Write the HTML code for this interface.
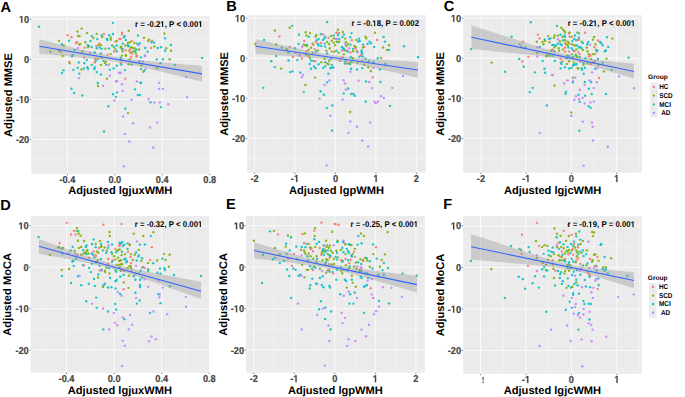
<!DOCTYPE html>
<html><head><meta charset="utf-8"><style>
html,body{margin:0;padding:0;background:#fff;width:685px;height:397px;overflow:hidden}
svg{display:block}
text{font-family:"Liberation Sans", sans-serif;font-weight:bold;text-rendering:geometricPrecision;font-kerning:none}
.tk{font-size:10.0px;fill:#444;stroke:#444;stroke-width:0.2px}
.ti{font-size:11.1px;fill:#000}
.ann{font-size:8.4px;fill:#000}
.pl{font-size:14.6px;fill:#000}
.lg{font-size:6.6px;fill:#000}
.lgk{font-size:7.1px;fill:#000}
</style></head><body>
<svg width="685" height="397" viewBox="0 0 685 397">
<rect x="31.2" y="16.1" width="178.2" height="157.8" fill="#EBEBEB"/>
<line x1="43.64" y1="16.1" x2="43.64" y2="173.9" stroke="#F5F5F5" stroke-width="0.6"/>
<line x1="91.08" y1="16.1" x2="91.08" y2="173.9" stroke="#F5F5F5" stroke-width="0.6"/>
<line x1="138.52" y1="16.1" x2="138.52" y2="173.9" stroke="#F5F5F5" stroke-width="0.6"/>
<line x1="185.96" y1="16.1" x2="185.96" y2="173.9" stroke="#F5F5F5" stroke-width="0.6"/>
<line x1="31.2" y1="39.24" x2="209.4" y2="39.24" stroke="#F5F5F5" stroke-width="0.6"/>
<line x1="31.2" y1="79.31" x2="209.4" y2="79.31" stroke="#F5F5F5" stroke-width="0.6"/>
<line x1="31.2" y1="119.38" x2="209.4" y2="119.38" stroke="#F5F5F5" stroke-width="0.6"/>
<line x1="31.2" y1="159.44" x2="209.4" y2="159.44" stroke="#F5F5F5" stroke-width="0.6"/>
<line x1="67.36" y1="16.1" x2="67.36" y2="173.9" stroke="#FAFAFA" stroke-width="1"/>
<line x1="114.8" y1="16.1" x2="114.8" y2="173.9" stroke="#FAFAFA" stroke-width="1"/>
<line x1="162.24" y1="16.1" x2="162.24" y2="173.9" stroke="#FAFAFA" stroke-width="1"/>
<line x1="31.2" y1="19.2" x2="209.4" y2="19.2" stroke="#FAFAFA" stroke-width="1"/>
<line x1="31.2" y1="59.27" x2="209.4" y2="59.27" stroke="#FAFAFA" stroke-width="1"/>
<line x1="31.2" y1="99.34" x2="209.4" y2="99.34" stroke="#FAFAFA" stroke-width="1"/>
<line x1="31.2" y1="139.41" x2="209.4" y2="139.41" stroke="#FAFAFA" stroke-width="1"/>
<circle cx="38.93" cy="26.77" r="1.2" fill="#00BFC4" fill-opacity="0.88"/>
<circle cx="113.04" cy="22.83" r="1.2" fill="#00BFC4" fill-opacity="0.88"/>
<circle cx="81.64" cy="28.61" r="1.2" fill="#7CAE00" fill-opacity="0.88"/>
<circle cx="77.43" cy="31.5" r="1.2" fill="#7CAE00" fill-opacity="0.88"/>
<circle cx="87.02" cy="33.08" r="1.2" fill="#7CAE00" fill-opacity="0.88"/>
<circle cx="67.71" cy="35.18" r="1.2" fill="#F8766D" fill-opacity="0.88"/>
<circle cx="71.52" cy="37.28" r="1.2" fill="#F8766D" fill-opacity="0.88"/>
<circle cx="78.22" cy="35.97" r="1.2" fill="#7CAE00" fill-opacity="0.88"/>
<circle cx="79.53" cy="36.1" r="1.2" fill="#7CAE00" fill-opacity="0.88"/>
<circle cx="96.75" cy="33.87" r="1.2" fill="#7CAE00" fill-opacity="0.88"/>
<circle cx="103.84" cy="34" r="1.2" fill="#F8766D" fill-opacity="0.88"/>
<circle cx="113.04" cy="34" r="1.2" fill="#00BFC4" fill-opacity="0.88"/>
<circle cx="91.75" cy="36.1" r="1.2" fill="#00BFC4" fill-opacity="0.88"/>
<circle cx="101.61" cy="35.45" r="1.2" fill="#00BFC4" fill-opacity="0.88"/>
<circle cx="102.26" cy="37.02" r="1.2" fill="#7CAE00" fill-opacity="0.88"/>
<circle cx="109.23" cy="35.31" r="1.2" fill="#00BFC4" fill-opacity="0.88"/>
<circle cx="106.86" cy="38.99" r="1.2" fill="#00BFC4" fill-opacity="0.88"/>
<circle cx="107.52" cy="40.04" r="1.2" fill="#00BFC4" fill-opacity="0.88"/>
<circle cx="110.67" cy="37.68" r="1.2" fill="#7CAE00" fill-opacity="0.88"/>
<circle cx="110.94" cy="39.65" r="1.2" fill="#7CAE00" fill-opacity="0.88"/>
<circle cx="93.33" cy="38.07" r="1.2" fill="#7CAE00" fill-opacity="0.88"/>
<circle cx="97.27" cy="39.12" r="1.2" fill="#00BFC4" fill-opacity="0.88"/>
<circle cx="59.04" cy="40.83" r="1.2" fill="#7CAE00" fill-opacity="0.88"/>
<circle cx="69.02" cy="40.7" r="1.2" fill="#00BFC4" fill-opacity="0.88"/>
<circle cx="90.44" cy="40.96" r="1.2" fill="#00BFC4" fill-opacity="0.88"/>
<circle cx="85.45" cy="42.28" r="1.2" fill="#7CAE00" fill-opacity="0.88"/>
<circle cx="75.99" cy="42.93" r="1.2" fill="#F8766D" fill-opacity="0.88"/>
<circle cx="77.04" cy="42.28" r="1.2" fill="#F8766D" fill-opacity="0.88"/>
<circle cx="79.4" cy="44.51" r="1.2" fill="#7CAE00" fill-opacity="0.88"/>
<circle cx="80.19" cy="43.85" r="1.2" fill="#7CAE00" fill-opacity="0.88"/>
<circle cx="61.8" cy="44.25" r="1.2" fill="#00BFC4" fill-opacity="0.88"/>
<circle cx="63.9" cy="45.43" r="1.2" fill="#7CAE00" fill-opacity="0.88"/>
<circle cx="87.81" cy="45.17" r="1.2" fill="#00BFC4" fill-opacity="0.88"/>
<circle cx="88.73" cy="45.96" r="1.2" fill="#00BFC4" fill-opacity="0.88"/>
<circle cx="91.75" cy="47.01" r="1.2" fill="#00BFC4" fill-opacity="0.88"/>
<circle cx="84.66" cy="47.66" r="1.2" fill="#F8766D" fill-opacity="0.88"/>
<circle cx="88.07" cy="47.14" r="1.2" fill="#7CAE00" fill-opacity="0.88"/>
<circle cx="96.35" cy="46.22" r="1.2" fill="#F8766D" fill-opacity="0.88"/>
<circle cx="98.32" cy="44.91" r="1.2" fill="#7CAE00" fill-opacity="0.88"/>
<circle cx="99.64" cy="43.59" r="1.2" fill="#F8766D" fill-opacity="0.88"/>
<circle cx="100.95" cy="45.17" r="1.2" fill="#7CAE00" fill-opacity="0.88"/>
<circle cx="96.75" cy="48.19" r="1.2" fill="#00BFC4" fill-opacity="0.88"/>
<circle cx="99.64" cy="47.53" r="1.2" fill="#00BFC4" fill-opacity="0.88"/>
<circle cx="101.61" cy="48.85" r="1.2" fill="#00BFC4" fill-opacity="0.88"/>
<circle cx="105.29" cy="48.58" r="1.2" fill="#7CAE00" fill-opacity="0.88"/>
<circle cx="108.83" cy="48.45" r="1.2" fill="#00BFC4" fill-opacity="0.88"/>
<circle cx="112.12" cy="45.56" r="1.2" fill="#7CAE00" fill-opacity="0.88"/>
<circle cx="114.09" cy="46.88" r="1.2" fill="#00BFC4" fill-opacity="0.88"/>
<circle cx="116.72" cy="45.56" r="1.2" fill="#00BFC4" fill-opacity="0.88"/>
<circle cx="115.4" cy="41.62" r="1.2" fill="#F8766D" fill-opacity="0.88"/>
<circle cx="116.72" cy="40.96" r="1.2" fill="#7CAE00" fill-opacity="0.88"/>
<circle cx="119.34" cy="38.99" r="1.2" fill="#F8766D" fill-opacity="0.88"/>
<circle cx="115.14" cy="49.11" r="1.2" fill="#7CAE00" fill-opacity="0.88"/>
<circle cx="116.72" cy="51.21" r="1.2" fill="#00BFC4" fill-opacity="0.88"/>
<circle cx="77.96" cy="47.93" r="1.2" fill="#C77CFF" fill-opacity="0.88"/>
<circle cx="74.67" cy="49.9" r="1.2" fill="#00BFC4" fill-opacity="0.88"/>
<circle cx="82.56" cy="51.21" r="1.2" fill="#7CAE00" fill-opacity="0.88"/>
<circle cx="61.14" cy="51.74" r="1.2" fill="#F8766D" fill-opacity="0.88"/>
<circle cx="59.17" cy="50.82" r="1.2" fill="#7CAE00" fill-opacity="0.88"/>
<circle cx="50.37" cy="51.74" r="1.2" fill="#7CAE00" fill-opacity="0.88"/>
<circle cx="90.31" cy="52.79" r="1.2" fill="#F8766D" fill-opacity="0.88"/>
<circle cx="94.77" cy="52.53" r="1.2" fill="#00BFC4" fill-opacity="0.88"/>
<circle cx="100.95" cy="53.45" r="1.2" fill="#00BFC4" fill-opacity="0.88"/>
<circle cx="107.52" cy="54.76" r="1.2" fill="#F8766D" fill-opacity="0.88"/>
<circle cx="110.8" cy="54.1" r="1.2" fill="#7CAE00" fill-opacity="0.88"/>
<circle cx="114.09" cy="51.47" r="1.2" fill="#F8766D" fill-opacity="0.88"/>
<circle cx="72.7" cy="54.89" r="1.2" fill="#00BFC4" fill-opacity="0.88"/>
<circle cx="128.8" cy="30.85" r="1.2" fill="#7CAE00" fill-opacity="0.88"/>
<circle cx="121.97" cy="32.82" r="1.2" fill="#F8766D" fill-opacity="0.88"/>
<circle cx="121.97" cy="34.13" r="1.2" fill="#F8766D" fill-opacity="0.88"/>
<circle cx="124.6" cy="35.97" r="1.2" fill="#00BFC4" fill-opacity="0.88"/>
<circle cx="123.94" cy="37.28" r="1.2" fill="#00BFC4" fill-opacity="0.88"/>
<circle cx="125.91" cy="39.91" r="1.2" fill="#00BFC4" fill-opacity="0.88"/>
<circle cx="120.66" cy="38.99" r="1.2" fill="#F8766D" fill-opacity="0.88"/>
<circle cx="138" cy="35.45" r="1.2" fill="#00BFC4" fill-opacity="0.88"/>
<circle cx="144.04" cy="37.68" r="1.2" fill="#7CAE00" fill-opacity="0.88"/>
<circle cx="148.25" cy="40.96" r="1.2" fill="#7CAE00" fill-opacity="0.88"/>
<circle cx="148.91" cy="39.65" r="1.2" fill="#7CAE00" fill-opacity="0.88"/>
<circle cx="152.19" cy="40.7" r="1.2" fill="#F8766D" fill-opacity="0.88"/>
<circle cx="151.53" cy="42.28" r="1.2" fill="#00BFC4" fill-opacity="0.88"/>
<circle cx="154.16" cy="42.67" r="1.2" fill="#00BFC4" fill-opacity="0.88"/>
<circle cx="164.28" cy="33.47" r="1.2" fill="#7CAE00" fill-opacity="0.88"/>
<circle cx="165.07" cy="38.34" r="1.2" fill="#00BFC4" fill-opacity="0.88"/>
<circle cx="131.82" cy="40.96" r="1.2" fill="#F8766D" fill-opacity="0.88"/>
<circle cx="129.85" cy="42.28" r="1.2" fill="#7CAE00" fill-opacity="0.88"/>
<circle cx="127.88" cy="42.93" r="1.2" fill="#7CAE00" fill-opacity="0.88"/>
<circle cx="134.45" cy="42.93" r="1.2" fill="#7CAE00" fill-opacity="0.88"/>
<circle cx="137.08" cy="43.59" r="1.2" fill="#00BFC4" fill-opacity="0.88"/>
<circle cx="139.71" cy="43.2" r="1.2" fill="#00BFC4" fill-opacity="0.88"/>
<circle cx="138.39" cy="45.17" r="1.2" fill="#C77CFF" fill-opacity="0.88"/>
<circle cx="122.63" cy="43.59" r="1.2" fill="#00BFC4" fill-opacity="0.88"/>
<circle cx="125.26" cy="45.56" r="1.2" fill="#7CAE00" fill-opacity="0.88"/>
<circle cx="127.88" cy="45.17" r="1.2" fill="#00BFC4" fill-opacity="0.88"/>
<circle cx="128.54" cy="46.22" r="1.2" fill="#00BFC4" fill-opacity="0.88"/>
<circle cx="121.31" cy="46.61" r="1.2" fill="#7CAE00" fill-opacity="0.88"/>
<circle cx="120.66" cy="47.53" r="1.2" fill="#7CAE00" fill-opacity="0.88"/>
<circle cx="123.28" cy="48.85" r="1.2" fill="#C77CFF" fill-opacity="0.88"/>
<circle cx="131.17" cy="47.27" r="1.2" fill="#7CAE00" fill-opacity="0.88"/>
<circle cx="132.48" cy="47.93" r="1.2" fill="#7CAE00" fill-opacity="0.88"/>
<circle cx="134.45" cy="48.19" r="1.2" fill="#7CAE00" fill-opacity="0.88"/>
<circle cx="136.42" cy="49.5" r="1.2" fill="#00BFC4" fill-opacity="0.88"/>
<circle cx="139.05" cy="49.5" r="1.2" fill="#7CAE00" fill-opacity="0.88"/>
<circle cx="145.23" cy="47.93" r="1.2" fill="#00BFC4" fill-opacity="0.88"/>
<circle cx="150.88" cy="47.93" r="1.2" fill="#F8766D" fill-opacity="0.88"/>
<circle cx="154.42" cy="46.48" r="1.2" fill="#7CAE00" fill-opacity="0.88"/>
<circle cx="157.71" cy="47.93" r="1.2" fill="#00BFC4" fill-opacity="0.88"/>
<circle cx="161.12" cy="47.14" r="1.2" fill="#00BFC4" fill-opacity="0.88"/>
<circle cx="170.85" cy="45.04" r="1.2" fill="#00BFC4" fill-opacity="0.88"/>
<circle cx="166.25" cy="48.19" r="1.2" fill="#7CAE00" fill-opacity="0.88"/>
<circle cx="165.07" cy="50.82" r="1.2" fill="#00BFC4" fill-opacity="0.88"/>
<circle cx="170.98" cy="50.82" r="1.2" fill="#7CAE00" fill-opacity="0.88"/>
<circle cx="147.59" cy="51.74" r="1.2" fill="#00BFC4" fill-opacity="0.88"/>
<circle cx="121.97" cy="49.5" r="1.2" fill="#00BFC4" fill-opacity="0.88"/>
<circle cx="122.63" cy="51.47" r="1.2" fill="#7CAE00" fill-opacity="0.88"/>
<circle cx="125.91" cy="50.42" r="1.2" fill="#F8766D" fill-opacity="0.88"/>
<circle cx="129.2" cy="50.82" r="1.2" fill="#F8766D" fill-opacity="0.88"/>
<circle cx="129.85" cy="49.5" r="1.2" fill="#F8766D" fill-opacity="0.88"/>
<circle cx="133.14" cy="51.47" r="1.2" fill="#7CAE00" fill-opacity="0.88"/>
<circle cx="135.11" cy="51.21" r="1.2" fill="#00BFC4" fill-opacity="0.88"/>
<circle cx="130.51" cy="52.53" r="1.2" fill="#7CAE00" fill-opacity="0.88"/>
<circle cx="131.82" cy="53.45" r="1.2" fill="#F8766D" fill-opacity="0.88"/>
<circle cx="135.77" cy="53.45" r="1.2" fill="#7CAE00" fill-opacity="0.88"/>
<circle cx="125.91" cy="55.15" r="1.2" fill="#7CAE00" fill-opacity="0.88"/>
<circle cx="144.96" cy="55.42" r="1.2" fill="#C77CFF" fill-opacity="0.88"/>
<circle cx="62.58" cy="56.05" r="1.2" fill="#7CAE00" fill-opacity="0.88"/>
<circle cx="72.04" cy="56.31" r="1.2" fill="#00BFC4" fill-opacity="0.88"/>
<circle cx="84.13" cy="57.63" r="1.2" fill="#F8766D" fill-opacity="0.88"/>
<circle cx="86.76" cy="59.99" r="1.2" fill="#00BFC4" fill-opacity="0.88"/>
<circle cx="95.3" cy="58.94" r="1.2" fill="#F8766D" fill-opacity="0.88"/>
<circle cx="97.67" cy="58.94" r="1.2" fill="#7CAE00" fill-opacity="0.88"/>
<circle cx="101.61" cy="57.63" r="1.2" fill="#7CAE00" fill-opacity="0.88"/>
<circle cx="69.15" cy="61.83" r="1.2" fill="#F8766D" fill-opacity="0.88"/>
<circle cx="69.68" cy="63.15" r="1.2" fill="#7CAE00" fill-opacity="0.88"/>
<circle cx="78.88" cy="62.49" r="1.2" fill="#00BFC4" fill-opacity="0.88"/>
<circle cx="84.26" cy="63.15" r="1.2" fill="#00BFC4" fill-opacity="0.88"/>
<circle cx="94.77" cy="62.49" r="1.2" fill="#F8766D" fill-opacity="0.88"/>
<circle cx="95.69" cy="60.91" r="1.2" fill="#00BFC4" fill-opacity="0.88"/>
<circle cx="103.58" cy="60.91" r="1.2" fill="#00BFC4" fill-opacity="0.88"/>
<circle cx="104.89" cy="62.88" r="1.2" fill="#7CAE00" fill-opacity="0.88"/>
<circle cx="105.94" cy="61.83" r="1.2" fill="#7CAE00" fill-opacity="0.88"/>
<circle cx="106.21" cy="64.85" r="1.2" fill="#00BFC4" fill-opacity="0.88"/>
<circle cx="108.83" cy="64.46" r="1.2" fill="#F8766D" fill-opacity="0.88"/>
<circle cx="100.95" cy="64.85" r="1.2" fill="#7CAE00" fill-opacity="0.88"/>
<circle cx="91.75" cy="64.85" r="1.2" fill="#00BFC4" fill-opacity="0.88"/>
<circle cx="116.72" cy="65.77" r="1.2" fill="#00BFC4" fill-opacity="0.88"/>
<circle cx="113.69" cy="68.4" r="1.2" fill="#00BFC4" fill-opacity="0.88"/>
<circle cx="109.75" cy="69.85" r="1.2" fill="#00BFC4" fill-opacity="0.88"/>
<circle cx="118.95" cy="72.74" r="1.2" fill="#C77CFF" fill-opacity="0.88"/>
<circle cx="87.15" cy="67.09" r="1.2" fill="#00BFC4" fill-opacity="0.88"/>
<circle cx="88.07" cy="68.8" r="1.2" fill="#00BFC4" fill-opacity="0.88"/>
<circle cx="94.77" cy="67.48" r="1.2" fill="#00BFC4" fill-opacity="0.88"/>
<circle cx="94.38" cy="69.06" r="1.2" fill="#00BFC4" fill-opacity="0.88"/>
<circle cx="83.87" cy="68.4" r="1.2" fill="#00BFC4" fill-opacity="0.88"/>
<circle cx="77.69" cy="67.88" r="1.2" fill="#00BFC4" fill-opacity="0.88"/>
<circle cx="73.36" cy="69.85" r="1.2" fill="#00BFC4" fill-opacity="0.88"/>
<circle cx="81.5" cy="69.45" r="1.2" fill="#7CAE00" fill-opacity="0.88"/>
<circle cx="63.5" cy="70.37" r="1.2" fill="#00BFC4" fill-opacity="0.88"/>
<circle cx="61.93" cy="73" r="1.2" fill="#00BFC4" fill-opacity="0.88"/>
<circle cx="79.27" cy="73.66" r="1.2" fill="#00BFC4" fill-opacity="0.88"/>
<circle cx="96.75" cy="72.08" r="1.2" fill="#00BFC4" fill-opacity="0.88"/>
<circle cx="100.95" cy="74.45" r="1.2" fill="#00BFC4" fill-opacity="0.88"/>
<circle cx="109.88" cy="75.76" r="1.2" fill="#C77CFF" fill-opacity="0.88"/>
<circle cx="78.88" cy="78.12" r="1.2" fill="#C77CFF" fill-opacity="0.88"/>
<circle cx="106.86" cy="78.65" r="1.2" fill="#7CAE00" fill-opacity="0.88"/>
<circle cx="116.06" cy="81.28" r="1.2" fill="#C77CFF" fill-opacity="0.88"/>
<circle cx="116.98" cy="81.28" r="1.2" fill="#C77CFF" fill-opacity="0.88"/>
<circle cx="97.8" cy="82.99" r="1.2" fill="#00BFC4" fill-opacity="0.88"/>
<circle cx="98.06" cy="86.01" r="1.2" fill="#7CAE00" fill-opacity="0.88"/>
<circle cx="103.18" cy="85.88" r="1.2" fill="#C77CFF" fill-opacity="0.88"/>
<circle cx="71.52" cy="88.77" r="1.2" fill="#00BFC4" fill-opacity="0.88"/>
<circle cx="121.97" cy="55.66" r="1.2" fill="#7CAE00" fill-opacity="0.88"/>
<circle cx="125.91" cy="55.66" r="1.2" fill="#7CAE00" fill-opacity="0.88"/>
<circle cx="131.17" cy="56.97" r="1.2" fill="#F8766D" fill-opacity="0.88"/>
<circle cx="136.42" cy="56.58" r="1.2" fill="#F8766D" fill-opacity="0.88"/>
<circle cx="137.08" cy="55.66" r="1.2" fill="#F8766D" fill-opacity="0.88"/>
<circle cx="141.02" cy="57.36" r="1.2" fill="#00BFC4" fill-opacity="0.88"/>
<circle cx="144.96" cy="56.05" r="1.2" fill="#C77CFF" fill-opacity="0.88"/>
<circle cx="120.66" cy="57.63" r="1.2" fill="#00BFC4" fill-opacity="0.88"/>
<circle cx="121.05" cy="59.6" r="1.2" fill="#00BFC4" fill-opacity="0.88"/>
<circle cx="129.85" cy="59.34" r="1.2" fill="#7CAE00" fill-opacity="0.88"/>
<circle cx="156.79" cy="59.34" r="1.2" fill="#00BFC4" fill-opacity="0.88"/>
<circle cx="162.96" cy="59.2" r="1.2" fill="#00BFC4" fill-opacity="0.88"/>
<circle cx="169.66" cy="59.2" r="1.2" fill="#7CAE00" fill-opacity="0.88"/>
<circle cx="202.12" cy="57.89" r="1.2" fill="#00BFC4" fill-opacity="0.88"/>
<circle cx="139.45" cy="61.31" r="1.2" fill="#00BFC4" fill-opacity="0.88"/>
<circle cx="142.99" cy="61.57" r="1.2" fill="#C77CFF" fill-opacity="0.88"/>
<circle cx="120.66" cy="62.88" r="1.2" fill="#F8766D" fill-opacity="0.88"/>
<circle cx="121.31" cy="64.46" r="1.2" fill="#00BFC4" fill-opacity="0.88"/>
<circle cx="128.54" cy="64.2" r="1.2" fill="#7CAE00" fill-opacity="0.88"/>
<circle cx="131.56" cy="64.59" r="1.2" fill="#00BFC4" fill-opacity="0.88"/>
<circle cx="141.42" cy="65.51" r="1.2" fill="#7CAE00" fill-opacity="0.88"/>
<circle cx="160.47" cy="63.15" r="1.2" fill="#00BFC4" fill-opacity="0.88"/>
<circle cx="174.92" cy="64.85" r="1.2" fill="#00BFC4" fill-opacity="0.88"/>
<circle cx="141.02" cy="69.06" r="1.2" fill="#00BFC4" fill-opacity="0.88"/>
<circle cx="145.62" cy="68.8" r="1.2" fill="#C77CFF" fill-opacity="0.88"/>
<circle cx="144.31" cy="70.77" r="1.2" fill="#00BFC4" fill-opacity="0.88"/>
<circle cx="143.39" cy="71.82" r="1.2" fill="#7CAE00" fill-opacity="0.88"/>
<circle cx="157.05" cy="68.14" r="1.2" fill="#7CAE00" fill-opacity="0.88"/>
<circle cx="124.86" cy="70.11" r="1.2" fill="#00BFC4" fill-opacity="0.88"/>
<circle cx="120.66" cy="72.74" r="1.2" fill="#C77CFF" fill-opacity="0.88"/>
<circle cx="186.09" cy="77.07" r="1.2" fill="#C77CFF" fill-opacity="0.88"/>
<circle cx="125.26" cy="78.65" r="1.2" fill="#F8766D" fill-opacity="0.88"/>
<circle cx="136.82" cy="81.54" r="1.2" fill="#C77CFF" fill-opacity="0.88"/>
<circle cx="141.02" cy="82.59" r="1.2" fill="#00BFC4" fill-opacity="0.88"/>
<circle cx="140.37" cy="82.99" r="1.2" fill="#00BFC4" fill-opacity="0.88"/>
<circle cx="159.15" cy="82.85" r="1.2" fill="#C77CFF" fill-opacity="0.88"/>
<circle cx="121.97" cy="84.17" r="1.2" fill="#C77CFF" fill-opacity="0.88"/>
<circle cx="134.85" cy="89.42" r="1.2" fill="#00BFC4" fill-opacity="0.88"/>
<circle cx="159.02" cy="88.9" r="1.2" fill="#C77CFF" fill-opacity="0.88"/>
<circle cx="162.96" cy="88.9" r="1.2" fill="#C77CFF" fill-opacity="0.88"/>
<circle cx="74.14" cy="92.89" r="1.2" fill="#00BFC4" fill-opacity="0.88"/>
<circle cx="82.29" cy="95.52" r="1.2" fill="#00BFC4" fill-opacity="0.88"/>
<circle cx="113.03" cy="94.2" r="1.2" fill="#00BFC4" fill-opacity="0.88"/>
<circle cx="116.97" cy="92.36" r="1.2" fill="#00BFC4" fill-opacity="0.88"/>
<circle cx="115.92" cy="96.83" r="1.2" fill="#00BFC4" fill-opacity="0.88"/>
<circle cx="122.49" cy="90.79" r="1.2" fill="#C77CFF" fill-opacity="0.88"/>
<circle cx="137.72" cy="94.99" r="1.2" fill="#00BFC4" fill-opacity="0.88"/>
<circle cx="139.83" cy="94.99" r="1.2" fill="#00BFC4" fill-opacity="0.88"/>
<circle cx="114.34" cy="100.51" r="1.2" fill="#C77CFF" fill-opacity="0.88"/>
<circle cx="131.68" cy="99.72" r="1.2" fill="#C77CFF" fill-opacity="0.88"/>
<circle cx="148.5" cy="98.93" r="1.2" fill="#C77CFF" fill-opacity="0.88"/>
<circle cx="150.6" cy="102.35" r="1.2" fill="#00BFC4" fill-opacity="0.88"/>
<circle cx="154.28" cy="102.61" r="1.2" fill="#C77CFF" fill-opacity="0.88"/>
<circle cx="159.8" cy="102.35" r="1.2" fill="#C77CFF" fill-opacity="0.88"/>
<circle cx="160.85" cy="107.08" r="1.2" fill="#00BFC4" fill-opacity="0.88"/>
<circle cx="168.2" cy="104.19" r="1.2" fill="#C77CFF" fill-opacity="0.88"/>
<circle cx="187.12" cy="97.09" r="1.2" fill="#C77CFF" fill-opacity="0.88"/>
<circle cx="108.3" cy="106.29" r="1.2" fill="#00BFC4" fill-opacity="0.88"/>
<circle cx="125.38" cy="108.65" r="1.2" fill="#00BFC4" fill-opacity="0.88"/>
<circle cx="128" cy="113.12" r="1.2" fill="#7CAE00" fill-opacity="0.88"/>
<circle cx="123.01" cy="116.54" r="1.2" fill="#C77CFF" fill-opacity="0.88"/>
<circle cx="133" cy="123.37" r="1.2" fill="#C77CFF" fill-opacity="0.88"/>
<circle cx="157.17" cy="122.58" r="1.2" fill="#C77CFF" fill-opacity="0.88"/>
<circle cx="150.07" cy="127.57" r="1.2" fill="#C77CFF" fill-opacity="0.88"/>
<circle cx="104.09" cy="131.51" r="1.2" fill="#00BFC4" fill-opacity="0.88"/>
<circle cx="124.85" cy="133.88" r="1.2" fill="#C77CFF" fill-opacity="0.88"/>
<circle cx="129.32" cy="141.5" r="1.2" fill="#C77CFF" fill-opacity="0.88"/>
<circle cx="153.23" cy="147.54" r="1.2" fill="#C77CFF" fill-opacity="0.88"/>
<circle cx="123.8" cy="166.2" r="1.2" fill="#C77CFF" fill-opacity="0.88"/>
<path d="M39.3,39.3 L43.37,40.31 L47.43,41.32 L51.5,42.33 L55.57,43.33 L59.64,44.33 L63.7,45.32 L67.77,46.31 L71.84,47.29 L75.91,48.26 L79.97,49.22 L84.04,50.17 L88.11,51.11 L92.18,52.03 L96.24,52.92 L100.31,53.79 L104.38,54.62 L108.45,55.41 L112.52,56.16 L116.58,56.87 L120.65,57.52 L124.72,58.13 L128.78,58.7 L132.85,59.23 L136.92,59.72 L140.99,60.19 L145.06,60.64 L149.12,61.07 L153.19,61.48 L157.26,61.88 L161.32,62.27 L165.39,62.66 L169.46,63.03 L173.53,63.41 L177.59,63.77 L181.66,64.13 L185.73,64.49 L189.8,64.85 L193.87,65.2 L197.93,65.55 L202,65.9 L202,81.7 L197.93,80.68 L193.87,79.67 L189.8,78.66 L185.73,77.65 L181.66,76.64 L177.59,75.64 L173.53,74.64 L169.46,73.65 L165.39,72.66 L161.32,71.68 L157.26,70.7 L153.19,69.74 L149.12,68.79 L145.06,67.85 L140.99,66.93 L136.92,66.04 L132.85,65.17 L128.78,64.33 L124.72,63.53 L120.65,62.78 L116.58,62.07 L112.52,61.41 L108.45,60.79 L104.38,60.22 L100.31,59.69 L96.24,59.19 L92.18,58.72 L88.11,58.27 L84.04,57.84 L79.97,57.43 L75.91,57.02 L71.84,56.63 L67.77,56.25 L63.7,55.87 L59.64,55.5 L55.57,55.13 L51.5,54.77 L47.43,54.41 L43.37,54.05 L39.3,53.7 Z" fill="#999999" fill-opacity="0.4"/>
<line x1="39.3" y1="46.3" x2="202" y2="73.9" stroke="#3366FF" stroke-width="1.1"/>
<line x1="67.36" y1="173.9" x2="67.36" y2="175.3" stroke="#333" stroke-width="0.6"/>
<line x1="114.8" y1="173.9" x2="114.8" y2="175.3" stroke="#333" stroke-width="0.6"/>
<line x1="162.24" y1="173.9" x2="162.24" y2="175.3" stroke="#333" stroke-width="0.6"/>
<line x1="209.68" y1="173.9" x2="209.68" y2="175.3" stroke="#333" stroke-width="0.6"/>
<line x1="29.8" y1="19.2" x2="31.2" y2="19.2" stroke="#333" stroke-width="0.6"/>
<line x1="29.8" y1="59.27" x2="31.2" y2="59.27" stroke="#333" stroke-width="0.6"/>
<line x1="29.8" y1="99.34" x2="31.2" y2="99.34" stroke="#333" stroke-width="0.6"/>
<line x1="29.8" y1="139.41" x2="31.2" y2="139.41" stroke="#333" stroke-width="0.6"/>
<text transform="translate(67.36,182.9) scale(0.92,1)" class="tk" text-anchor="middle">-0.4</text>
<text transform="translate(114.8,182.9) scale(0.92,1)" class="tk" text-anchor="middle">0.0</text>
<text transform="translate(162.24,182.9) scale(0.92,1)" class="tk" text-anchor="middle">0.4</text>
<text transform="translate(209.68,182.9) scale(0.92,1)" class="tk" text-anchor="middle">0.8</text>
<text transform="translate(29.2,22.8) scale(0.92,1)" class="tk" text-anchor="end"> 0</text><path d="M478,0 L478,1170 L140,959 L140,1180 L493,1409 L759,1409 L759,0 Z" fill="#444" stroke="#444" stroke-width="40.96" transform="translate(18.967,22.800) scale(0.004492,-0.004883)"/>
<text transform="translate(29.2,62.87) scale(0.92,1)" class="tk" text-anchor="end">0</text>
<text transform="translate(29.2,102.94) scale(0.92,1)" class="tk" text-anchor="end">- 0</text><path d="M478,0 L478,1170 L140,959 L140,1180 L493,1409 L759,1409 L759,0 Z" fill="#444" stroke="#444" stroke-width="40.96" transform="translate(18.967,102.940) scale(0.004492,-0.004883)"/>
<text transform="translate(29.2,143.01) scale(0.92,1)" class="tk" text-anchor="end">-20</text>
<text transform="translate(202.6,27.1) scale(0.93,1)" class="ann" text-anchor="end">r = -0.2 , P < 0.00 </text><path d="M478,0 L478,1170 L140,959 L140,1180 L493,1409 L759,1409 L759,0 Z" fill="#000" transform="translate(160.252,27.100) scale(0.003814,-0.004102)"/><path d="M478,0 L478,1170 L140,959 L140,1180 L493,1409 L759,1409 L759,0 Z" fill="#000" transform="translate(198.255,27.100) scale(0.003814,-0.004102)"/>
<text x="120.3" y="193.8" class="ti" text-anchor="middle">Adjusted lgjuxWMH</text>
<text transform="translate(11.7,95) rotate(-90)" x="0" y="0" class="ti" text-anchor="middle">Adjusted MMSE</text>
<rect x="247.2" y="15.2" width="178.6" height="157.4" fill="#EBEBEB"/>
<line x1="274.74" y1="15.2" x2="274.74" y2="172.6" stroke="#F5F5F5" stroke-width="0.6"/>
<line x1="315.21" y1="15.2" x2="315.21" y2="172.6" stroke="#F5F5F5" stroke-width="0.6"/>
<line x1="355.69" y1="15.2" x2="355.69" y2="172.6" stroke="#F5F5F5" stroke-width="0.6"/>
<line x1="396.16" y1="15.2" x2="396.16" y2="172.6" stroke="#F5F5F5" stroke-width="0.6"/>
<line x1="247.2" y1="38.27" x2="425.8" y2="38.27" stroke="#F5F5F5" stroke-width="0.6"/>
<line x1="247.2" y1="78.33" x2="425.8" y2="78.33" stroke="#F5F5F5" stroke-width="0.6"/>
<line x1="247.2" y1="118.41" x2="425.8" y2="118.41" stroke="#F5F5F5" stroke-width="0.6"/>
<line x1="247.2" y1="158.47" x2="425.8" y2="158.47" stroke="#F5F5F5" stroke-width="0.6"/>
<line x1="254.5" y1="15.2" x2="254.5" y2="172.6" stroke="#FAFAFA" stroke-width="1"/>
<line x1="294.97" y1="15.2" x2="294.97" y2="172.6" stroke="#FAFAFA" stroke-width="1"/>
<line x1="335.45" y1="15.2" x2="335.45" y2="172.6" stroke="#FAFAFA" stroke-width="1"/>
<line x1="375.93" y1="15.2" x2="375.93" y2="172.6" stroke="#FAFAFA" stroke-width="1"/>
<line x1="416.4" y1="15.2" x2="416.4" y2="172.6" stroke="#FAFAFA" stroke-width="1"/>
<line x1="247.2" y1="18.23" x2="425.8" y2="18.23" stroke="#FAFAFA" stroke-width="1"/>
<line x1="247.2" y1="58.3" x2="425.8" y2="58.3" stroke="#FAFAFA" stroke-width="1"/>
<line x1="247.2" y1="98.37" x2="425.8" y2="98.37" stroke="#FAFAFA" stroke-width="1"/>
<line x1="247.2" y1="138.44" x2="425.8" y2="138.44" stroke="#FAFAFA" stroke-width="1"/>
<circle cx="327.15" cy="22.04" r="1.2" fill="#00BFC4" fill-opacity="0.88"/>
<circle cx="292.2" cy="25.85" r="1.2" fill="#00BFC4" fill-opacity="0.88"/>
<circle cx="289.7" cy="27.82" r="1.2" fill="#7CAE00" fill-opacity="0.88"/>
<circle cx="274.85" cy="30.45" r="1.2" fill="#7CAE00" fill-opacity="0.88"/>
<circle cx="279.45" cy="36.5" r="1.2" fill="#F8766D" fill-opacity="0.88"/>
<circle cx="305.73" cy="32.16" r="1.2" fill="#7CAE00" fill-opacity="0.88"/>
<circle cx="310.07" cy="33.08" r="1.2" fill="#7CAE00" fill-opacity="0.88"/>
<circle cx="306.39" cy="35.45" r="1.2" fill="#7CAE00" fill-opacity="0.88"/>
<circle cx="308.75" cy="36.76" r="1.2" fill="#00BFC4" fill-opacity="0.88"/>
<circle cx="298.9" cy="34.66" r="1.2" fill="#00BFC4" fill-opacity="0.88"/>
<circle cx="316.24" cy="35.05" r="1.2" fill="#7CAE00" fill-opacity="0.88"/>
<circle cx="315.58" cy="36.76" r="1.2" fill="#7CAE00" fill-opacity="0.88"/>
<circle cx="320.84" cy="34.13" r="1.2" fill="#00BFC4" fill-opacity="0.88"/>
<circle cx="322.94" cy="34.39" r="1.2" fill="#F8766D" fill-opacity="0.88"/>
<circle cx="325.18" cy="36.76" r="1.2" fill="#00BFC4" fill-opacity="0.88"/>
<circle cx="324.52" cy="38.34" r="1.2" fill="#00BFC4" fill-opacity="0.88"/>
<circle cx="328.46" cy="37.68" r="1.2" fill="#F8766D" fill-opacity="0.88"/>
<circle cx="331.09" cy="35.97" r="1.2" fill="#7CAE00" fill-opacity="0.88"/>
<circle cx="333.72" cy="35.45" r="1.2" fill="#00BFC4" fill-opacity="0.88"/>
<circle cx="333.98" cy="38.34" r="1.2" fill="#7CAE00" fill-opacity="0.88"/>
<circle cx="336.34" cy="32.82" r="1.2" fill="#F8766D" fill-opacity="0.88"/>
<circle cx="336.08" cy="38.99" r="1.2" fill="#C77CFF" fill-opacity="0.88"/>
<circle cx="318.61" cy="38.99" r="1.2" fill="#00BFC4" fill-opacity="0.88"/>
<circle cx="316.64" cy="40.31" r="1.2" fill="#00BFC4" fill-opacity="0.88"/>
<circle cx="322.94" cy="39.91" r="1.2" fill="#00BFC4" fill-opacity="0.88"/>
<circle cx="304.15" cy="40.96" r="1.2" fill="#F8766D" fill-opacity="0.88"/>
<circle cx="264.08" cy="39.91" r="1.2" fill="#00BFC4" fill-opacity="0.88"/>
<circle cx="255.15" cy="43.99" r="1.2" fill="#7CAE00" fill-opacity="0.88"/>
<circle cx="276.17" cy="44.51" r="1.2" fill="#7CAE00" fill-opacity="0.88"/>
<circle cx="298.64" cy="43.99" r="1.2" fill="#00BFC4" fill-opacity="0.88"/>
<circle cx="303.5" cy="44.64" r="1.2" fill="#7CAE00" fill-opacity="0.88"/>
<circle cx="304.81" cy="45.17" r="1.2" fill="#7CAE00" fill-opacity="0.88"/>
<circle cx="302.18" cy="47.01" r="1.2" fill="#C77CFF" fill-opacity="0.88"/>
<circle cx="306.78" cy="44.64" r="1.2" fill="#00BFC4" fill-opacity="0.88"/>
<circle cx="307.04" cy="45.96" r="1.2" fill="#7CAE00" fill-opacity="0.88"/>
<circle cx="312.69" cy="43.59" r="1.2" fill="#7CAE00" fill-opacity="0.88"/>
<circle cx="313.35" cy="44.91" r="1.2" fill="#F8766D" fill-opacity="0.88"/>
<circle cx="315.98" cy="42.28" r="1.2" fill="#F8766D" fill-opacity="0.88"/>
<circle cx="317.95" cy="43.99" r="1.2" fill="#00BFC4" fill-opacity="0.88"/>
<circle cx="318.61" cy="45.56" r="1.2" fill="#00BFC4" fill-opacity="0.88"/>
<circle cx="320.84" cy="42.93" r="1.2" fill="#F8766D" fill-opacity="0.88"/>
<circle cx="321.23" cy="45.96" r="1.2" fill="#00BFC4" fill-opacity="0.88"/>
<circle cx="324.52" cy="43.59" r="1.2" fill="#00BFC4" fill-opacity="0.88"/>
<circle cx="325.18" cy="46.61" r="1.2" fill="#00BFC4" fill-opacity="0.88"/>
<circle cx="327.15" cy="42.01" r="1.2" fill="#7CAE00" fill-opacity="0.88"/>
<circle cx="329.12" cy="43.99" r="1.2" fill="#7CAE00" fill-opacity="0.88"/>
<circle cx="331.75" cy="40.7" r="1.2" fill="#7CAE00" fill-opacity="0.88"/>
<circle cx="333.72" cy="42.67" r="1.2" fill="#7CAE00" fill-opacity="0.88"/>
<circle cx="335.03" cy="45.17" r="1.2" fill="#7CAE00" fill-opacity="0.88"/>
<circle cx="311.12" cy="47.8" r="1.2" fill="#7CAE00" fill-opacity="0.88"/>
<circle cx="314.67" cy="49.11" r="1.2" fill="#F8766D" fill-opacity="0.88"/>
<circle cx="308.75" cy="49.64" r="1.2" fill="#7CAE00" fill-opacity="0.88"/>
<circle cx="317.95" cy="50.42" r="1.2" fill="#7CAE00" fill-opacity="0.88"/>
<circle cx="315.98" cy="51.47" r="1.2" fill="#00BFC4" fill-opacity="0.88"/>
<circle cx="281.82" cy="47.66" r="1.2" fill="#00BFC4" fill-opacity="0.88"/>
<circle cx="286.42" cy="48.85" r="1.2" fill="#7CAE00" fill-opacity="0.88"/>
<circle cx="287.07" cy="49.9" r="1.2" fill="#7CAE00" fill-opacity="0.88"/>
<circle cx="289.7" cy="47.01" r="1.2" fill="#F8766D" fill-opacity="0.88"/>
<circle cx="294.96" cy="48.19" r="1.2" fill="#00BFC4" fill-opacity="0.88"/>
<circle cx="306.52" cy="51.21" r="1.2" fill="#F8766D" fill-opacity="0.88"/>
<circle cx="326.49" cy="50.82" r="1.2" fill="#7CAE00" fill-opacity="0.88"/>
<circle cx="329.77" cy="48.19" r="1.2" fill="#7CAE00" fill-opacity="0.88"/>
<circle cx="331.75" cy="51.47" r="1.2" fill="#F8766D" fill-opacity="0.88"/>
<circle cx="334.37" cy="51.74" r="1.2" fill="#7CAE00" fill-opacity="0.88"/>
<circle cx="336.34" cy="50.82" r="1.2" fill="#00BFC4" fill-opacity="0.88"/>
<circle cx="288.39" cy="52.53" r="1.2" fill="#00BFC4" fill-opacity="0.88"/>
<circle cx="295.61" cy="52.79" r="1.2" fill="#F8766D" fill-opacity="0.88"/>
<circle cx="312.69" cy="52.79" r="1.2" fill="#7CAE00" fill-opacity="0.88"/>
<circle cx="299.56" cy="55.15" r="1.2" fill="#C77CFF" fill-opacity="0.88"/>
<circle cx="306.12" cy="54.76" r="1.2" fill="#7CAE00" fill-opacity="0.88"/>
<circle cx="327.15" cy="53.45" r="1.2" fill="#00BFC4" fill-opacity="0.88"/>
<circle cx="337.97" cy="29.8" r="1.2" fill="#7CAE00" fill-opacity="0.88"/>
<circle cx="336.66" cy="32.82" r="1.2" fill="#F8766D" fill-opacity="0.88"/>
<circle cx="339.28" cy="33.08" r="1.2" fill="#F8766D" fill-opacity="0.88"/>
<circle cx="342.83" cy="32.03" r="1.2" fill="#7CAE00" fill-opacity="0.88"/>
<circle cx="343.88" cy="34.39" r="1.2" fill="#00BFC4" fill-opacity="0.88"/>
<circle cx="351.5" cy="33.08" r="1.2" fill="#00BFC4" fill-opacity="0.88"/>
<circle cx="337.97" cy="35.05" r="1.2" fill="#00BFC4" fill-opacity="0.88"/>
<circle cx="342.57" cy="37.02" r="1.2" fill="#00BFC4" fill-opacity="0.88"/>
<circle cx="336.66" cy="38.99" r="1.2" fill="#C77CFF" fill-opacity="0.88"/>
<circle cx="339.28" cy="38.99" r="1.2" fill="#00BFC4" fill-opacity="0.88"/>
<circle cx="345.2" cy="38.6" r="1.2" fill="#7CAE00" fill-opacity="0.88"/>
<circle cx="350.19" cy="37.28" r="1.2" fill="#00BFC4" fill-opacity="0.88"/>
<circle cx="351.77" cy="40.31" r="1.2" fill="#F8766D" fill-opacity="0.88"/>
<circle cx="356.37" cy="39.91" r="1.2" fill="#7CAE00" fill-opacity="0.88"/>
<circle cx="358.99" cy="38.6" r="1.2" fill="#00BFC4" fill-opacity="0.88"/>
<circle cx="365.56" cy="36.76" r="1.2" fill="#7CAE00" fill-opacity="0.88"/>
<circle cx="366.22" cy="38.34" r="1.2" fill="#7CAE00" fill-opacity="0.88"/>
<circle cx="375.02" cy="32.69" r="1.2" fill="#7CAE00" fill-opacity="0.88"/>
<circle cx="377.12" cy="39.91" r="1.2" fill="#F8766D" fill-opacity="0.88"/>
<circle cx="383.56" cy="37.02" r="1.2" fill="#00BFC4" fill-opacity="0.88"/>
<circle cx="385.01" cy="41.62" r="1.2" fill="#00BFC4" fill-opacity="0.88"/>
<circle cx="369.5" cy="41.62" r="1.2" fill="#00BFC4" fill-opacity="0.88"/>
<circle cx="370.82" cy="43.2" r="1.2" fill="#00BFC4" fill-opacity="0.88"/>
<circle cx="367.53" cy="43.99" r="1.2" fill="#00BFC4" fill-opacity="0.88"/>
<circle cx="358.34" cy="41.62" r="1.2" fill="#00BFC4" fill-opacity="0.88"/>
<circle cx="359.65" cy="40.96" r="1.2" fill="#00BFC4" fill-opacity="0.88"/>
<circle cx="336.66" cy="41.62" r="1.2" fill="#7CAE00" fill-opacity="0.88"/>
<circle cx="337.97" cy="42.28" r="1.2" fill="#00BFC4" fill-opacity="0.88"/>
<circle cx="339.28" cy="41.62" r="1.2" fill="#7CAE00" fill-opacity="0.88"/>
<circle cx="345.85" cy="42.01" r="1.2" fill="#7CAE00" fill-opacity="0.88"/>
<circle cx="347.82" cy="43.99" r="1.2" fill="#7CAE00" fill-opacity="0.88"/>
<circle cx="350.45" cy="44.64" r="1.2" fill="#00BFC4" fill-opacity="0.88"/>
<circle cx="345.2" cy="44.25" r="1.2" fill="#C77CFF" fill-opacity="0.88"/>
<circle cx="349.14" cy="48.19" r="1.2" fill="#C77CFF" fill-opacity="0.88"/>
<circle cx="341.91" cy="46.88" r="1.2" fill="#00BFC4" fill-opacity="0.88"/>
<circle cx="343.23" cy="48.19" r="1.2" fill="#00BFC4" fill-opacity="0.88"/>
<circle cx="343.88" cy="49.5" r="1.2" fill="#00BFC4" fill-opacity="0.88"/>
<circle cx="346.51" cy="45.96" r="1.2" fill="#7CAE00" fill-opacity="0.88"/>
<circle cx="354.39" cy="45.96" r="1.2" fill="#7CAE00" fill-opacity="0.88"/>
<circle cx="355.71" cy="47.27" r="1.2" fill="#7CAE00" fill-opacity="0.88"/>
<circle cx="362.93" cy="44.64" r="1.2" fill="#00BFC4" fill-opacity="0.88"/>
<circle cx="364.25" cy="46.88" r="1.2" fill="#F8766D" fill-opacity="0.88"/>
<circle cx="362.93" cy="47.53" r="1.2" fill="#7CAE00" fill-opacity="0.88"/>
<circle cx="374.1" cy="46.88" r="1.2" fill="#00BFC4" fill-opacity="0.88"/>
<circle cx="383.04" cy="47.53" r="1.2" fill="#7CAE00" fill-opacity="0.88"/>
<circle cx="388.95" cy="45.17" r="1.2" fill="#7CAE00" fill-opacity="0.88"/>
<circle cx="386.98" cy="49.9" r="1.2" fill="#7CAE00" fill-opacity="0.88"/>
<circle cx="389.21" cy="49.9" r="1.2" fill="#00BFC4" fill-opacity="0.88"/>
<circle cx="403.93" cy="46.22" r="1.2" fill="#00BFC4" fill-opacity="0.88"/>
<circle cx="353.08" cy="48.85" r="1.2" fill="#00BFC4" fill-opacity="0.88"/>
<circle cx="355.45" cy="48.85" r="1.2" fill="#F8766D" fill-opacity="0.88"/>
<circle cx="341.91" cy="50.42" r="1.2" fill="#F8766D" fill-opacity="0.88"/>
<circle cx="345.2" cy="50.42" r="1.2" fill="#00BFC4" fill-opacity="0.88"/>
<circle cx="346.51" cy="50.82" r="1.2" fill="#F8766D" fill-opacity="0.88"/>
<circle cx="347.82" cy="51.47" r="1.2" fill="#00BFC4" fill-opacity="0.88"/>
<circle cx="353.08" cy="51.21" r="1.2" fill="#7CAE00" fill-opacity="0.88"/>
<circle cx="357.02" cy="51.21" r="1.2" fill="#7CAE00" fill-opacity="0.88"/>
<circle cx="361.62" cy="50.42" r="1.2" fill="#00BFC4" fill-opacity="0.88"/>
<circle cx="361.62" cy="52.13" r="1.2" fill="#00BFC4" fill-opacity="0.88"/>
<circle cx="362.28" cy="53.45" r="1.2" fill="#00BFC4" fill-opacity="0.88"/>
<circle cx="350.45" cy="52.53" r="1.2" fill="#F8766D" fill-opacity="0.88"/>
<circle cx="357.68" cy="52.13" r="1.2" fill="#C77CFF" fill-opacity="0.88"/>
<circle cx="338.63" cy="52.79" r="1.2" fill="#7CAE00" fill-opacity="0.88"/>
<circle cx="343.88" cy="54.37" r="1.2" fill="#7CAE00" fill-opacity="0.88"/>
<circle cx="360.96" cy="55.15" r="1.2" fill="#F8766D" fill-opacity="0.88"/>
<circle cx="276.17" cy="56.05" r="1.2" fill="#00BFC4" fill-opacity="0.88"/>
<circle cx="292.99" cy="56.97" r="1.2" fill="#F8766D" fill-opacity="0.88"/>
<circle cx="299.56" cy="55.66" r="1.2" fill="#C77CFF" fill-opacity="0.88"/>
<circle cx="308.75" cy="55.66" r="1.2" fill="#7CAE00" fill-opacity="0.88"/>
<circle cx="309.8" cy="57.89" r="1.2" fill="#7CAE00" fill-opacity="0.88"/>
<circle cx="301.92" cy="58.55" r="1.2" fill="#F8766D" fill-opacity="0.88"/>
<circle cx="271.31" cy="61.31" r="1.2" fill="#00BFC4" fill-opacity="0.88"/>
<circle cx="288.52" cy="60.52" r="1.2" fill="#00BFC4" fill-opacity="0.88"/>
<circle cx="297.32" cy="59.99" r="1.2" fill="#00BFC4" fill-opacity="0.88"/>
<circle cx="311.12" cy="60.52" r="1.2" fill="#00BFC4" fill-opacity="0.88"/>
<circle cx="313.35" cy="60.91" r="1.2" fill="#00BFC4" fill-opacity="0.88"/>
<circle cx="315.06" cy="61.31" r="1.2" fill="#F8766D" fill-opacity="0.88"/>
<circle cx="309.8" cy="63.93" r="1.2" fill="#00BFC4" fill-opacity="0.88"/>
<circle cx="318.61" cy="64.2" r="1.2" fill="#00BFC4" fill-opacity="0.88"/>
<circle cx="321.23" cy="62.23" r="1.2" fill="#7CAE00" fill-opacity="0.88"/>
<circle cx="324.52" cy="58.68" r="1.2" fill="#7CAE00" fill-opacity="0.88"/>
<circle cx="325.18" cy="62.23" r="1.2" fill="#00BFC4" fill-opacity="0.88"/>
<circle cx="327.41" cy="63.54" r="1.2" fill="#7CAE00" fill-opacity="0.88"/>
<circle cx="328.46" cy="64.2" r="1.2" fill="#7CAE00" fill-opacity="0.88"/>
<circle cx="329.12" cy="60.91" r="1.2" fill="#7CAE00" fill-opacity="0.88"/>
<circle cx="331.09" cy="58.94" r="1.2" fill="#00BFC4" fill-opacity="0.88"/>
<circle cx="331.75" cy="64.85" r="1.2" fill="#00BFC4" fill-opacity="0.88"/>
<circle cx="274.85" cy="67.09" r="1.2" fill="#00BFC4" fill-opacity="0.88"/>
<circle cx="281.16" cy="68.53" r="1.2" fill="#7CAE00" fill-opacity="0.88"/>
<circle cx="310.99" cy="68.8" r="1.2" fill="#00BFC4" fill-opacity="0.88"/>
<circle cx="314.01" cy="66.56" r="1.2" fill="#00BFC4" fill-opacity="0.88"/>
<circle cx="315.58" cy="68.14" r="1.2" fill="#00BFC4" fill-opacity="0.88"/>
<circle cx="323.21" cy="67.88" r="1.2" fill="#00BFC4" fill-opacity="0.88"/>
<circle cx="325.18" cy="66.17" r="1.2" fill="#00BFC4" fill-opacity="0.88"/>
<circle cx="330.43" cy="68.14" r="1.2" fill="#00BFC4" fill-opacity="0.88"/>
<circle cx="331.75" cy="67.48" r="1.2" fill="#00BFC4" fill-opacity="0.88"/>
<circle cx="333.45" cy="67.48" r="1.2" fill="#00BFC4" fill-opacity="0.88"/>
<circle cx="290.1" cy="72.08" r="1.2" fill="#00BFC4" fill-opacity="0.88"/>
<circle cx="292.46" cy="71.42" r="1.2" fill="#00BFC4" fill-opacity="0.88"/>
<circle cx="300.34" cy="72.47" r="1.2" fill="#00BFC4" fill-opacity="0.88"/>
<circle cx="303.1" cy="74.97" r="1.2" fill="#C77CFF" fill-opacity="0.88"/>
<circle cx="301.92" cy="77.34" r="1.2" fill="#C77CFF" fill-opacity="0.88"/>
<circle cx="315.06" cy="77.6" r="1.2" fill="#7CAE00" fill-opacity="0.88"/>
<circle cx="328.46" cy="73.66" r="1.2" fill="#00BFC4" fill-opacity="0.88"/>
<circle cx="329.51" cy="80.36" r="1.2" fill="#C77CFF" fill-opacity="0.88"/>
<circle cx="327.15" cy="82.33" r="1.2" fill="#00BFC4" fill-opacity="0.88"/>
<circle cx="324.52" cy="84.96" r="1.2" fill="#C77CFF" fill-opacity="0.88"/>
<circle cx="305.47" cy="84.96" r="1.2" fill="#7CAE00" fill-opacity="0.88"/>
<circle cx="263.29" cy="87.85" r="1.2" fill="#00BFC4" fill-opacity="0.88"/>
<circle cx="342.57" cy="57.36" r="1.2" fill="#F8766D" fill-opacity="0.88"/>
<circle cx="350.72" cy="56.97" r="1.2" fill="#00BFC4" fill-opacity="0.88"/>
<circle cx="352.82" cy="58.28" r="1.2" fill="#7CAE00" fill-opacity="0.88"/>
<circle cx="359.39" cy="56.58" r="1.2" fill="#00BFC4" fill-opacity="0.88"/>
<circle cx="361.23" cy="55.66" r="1.2" fill="#F8766D" fill-opacity="0.88"/>
<circle cx="362.93" cy="56.58" r="1.2" fill="#00BFC4" fill-opacity="0.88"/>
<circle cx="365.56" cy="58.68" r="1.2" fill="#00BFC4" fill-opacity="0.88"/>
<circle cx="339.94" cy="60.91" r="1.2" fill="#F8766D" fill-opacity="0.88"/>
<circle cx="345.46" cy="60.91" r="1.2" fill="#00BFC4" fill-opacity="0.88"/>
<circle cx="351.5" cy="61.83" r="1.2" fill="#7CAE00" fill-opacity="0.88"/>
<circle cx="344.93" cy="63.54" r="1.2" fill="#00BFC4" fill-opacity="0.88"/>
<circle cx="347.17" cy="63.54" r="1.2" fill="#F8766D" fill-opacity="0.88"/>
<circle cx="348.48" cy="63.54" r="1.2" fill="#7CAE00" fill-opacity="0.88"/>
<circle cx="350.19" cy="63.93" r="1.2" fill="#00BFC4" fill-opacity="0.88"/>
<circle cx="357.68" cy="62.62" r="1.2" fill="#7CAE00" fill-opacity="0.88"/>
<circle cx="362.28" cy="60.91" r="1.2" fill="#C77CFF" fill-opacity="0.88"/>
<circle cx="368.58" cy="61.31" r="1.2" fill="#00BFC4" fill-opacity="0.88"/>
<circle cx="373.45" cy="62.23" r="1.2" fill="#00BFC4" fill-opacity="0.88"/>
<circle cx="377.78" cy="58.28" r="1.2" fill="#00BFC4" fill-opacity="0.88"/>
<circle cx="381.07" cy="57.89" r="1.2" fill="#7CAE00" fill-opacity="0.88"/>
<circle cx="385.27" cy="63.93" r="1.2" fill="#00BFC4" fill-opacity="0.88"/>
<circle cx="418.12" cy="57.23" r="1.2" fill="#00BFC4" fill-opacity="0.88"/>
<circle cx="364.25" cy="64.85" r="1.2" fill="#7CAE00" fill-opacity="0.88"/>
<circle cx="368.19" cy="67.22" r="1.2" fill="#7CAE00" fill-opacity="0.88"/>
<circle cx="373.45" cy="67.88" r="1.2" fill="#C77CFF" fill-opacity="0.88"/>
<circle cx="362.28" cy="68.14" r="1.2" fill="#00BFC4" fill-opacity="0.88"/>
<circle cx="351.11" cy="68.8" r="1.2" fill="#00BFC4" fill-opacity="0.88"/>
<circle cx="357.02" cy="69.45" r="1.2" fill="#00BFC4" fill-opacity="0.88"/>
<circle cx="380.02" cy="69.45" r="1.2" fill="#00BFC4" fill-opacity="0.88"/>
<circle cx="370.82" cy="71.03" r="1.2" fill="#7CAE00" fill-opacity="0.88"/>
<circle cx="350.45" cy="71.82" r="1.2" fill="#C77CFF" fill-opacity="0.88"/>
<circle cx="403.01" cy="76.02" r="1.2" fill="#C77CFF" fill-opacity="0.88"/>
<circle cx="372.79" cy="77.34" r="1.2" fill="#F8766D" fill-opacity="0.88"/>
<circle cx="343.62" cy="80.23" r="1.2" fill="#C77CFF" fill-opacity="0.88"/>
<circle cx="358.6" cy="80.62" r="1.2" fill="#C77CFF" fill-opacity="0.88"/>
<circle cx="365.96" cy="81.54" r="1.2" fill="#00BFC4" fill-opacity="0.88"/>
<circle cx="369.11" cy="81.93" r="1.2" fill="#C77CFF" fill-opacity="0.88"/>
<circle cx="380.41" cy="81.93" r="1.2" fill="#00BFC4" fill-opacity="0.88"/>
<circle cx="344.93" cy="83.51" r="1.2" fill="#C77CFF" fill-opacity="0.88"/>
<circle cx="348.09" cy="88.5" r="1.2" fill="#00BFC4" fill-opacity="0.88"/>
<circle cx="345.85" cy="89.82" r="1.2" fill="#C77CFF" fill-opacity="0.88"/>
<circle cx="372.26" cy="88.11" r="1.2" fill="#C77CFF" fill-opacity="0.88"/>
<circle cx="392.23" cy="87.85" r="1.2" fill="#C77CFF" fill-opacity="0.88"/>
<circle cx="303.75" cy="92.1" r="1.2" fill="#00BFC4" fill-opacity="0.88"/>
<circle cx="320.57" cy="91.31" r="1.2" fill="#00BFC4" fill-opacity="0.88"/>
<circle cx="323.72" cy="94.73" r="1.2" fill="#00BFC4" fill-opacity="0.88"/>
<circle cx="319.52" cy="98.67" r="1.2" fill="#C77CFF" fill-opacity="0.88"/>
<circle cx="343.69" cy="93.42" r="1.2" fill="#00BFC4" fill-opacity="0.88"/>
<circle cx="351.31" cy="93.94" r="1.2" fill="#00BFC4" fill-opacity="0.88"/>
<circle cx="353.41" cy="93.94" r="1.2" fill="#00BFC4" fill-opacity="0.88"/>
<circle cx="354.72" cy="95.78" r="1.2" fill="#00BFC4" fill-opacity="0.88"/>
<circle cx="342.64" cy="99.46" r="1.2" fill="#C77CFF" fill-opacity="0.88"/>
<circle cx="365.76" cy="101.56" r="1.2" fill="#00BFC4" fill-opacity="0.88"/>
<circle cx="374.43" cy="101.82" r="1.2" fill="#C77CFF" fill-opacity="0.88"/>
<circle cx="375.74" cy="103.14" r="1.2" fill="#C77CFF" fill-opacity="0.88"/>
<circle cx="377.85" cy="101.82" r="1.2" fill="#C77CFF" fill-opacity="0.88"/>
<circle cx="381" cy="96.31" r="1.2" fill="#C77CFF" fill-opacity="0.88"/>
<circle cx="383.89" cy="97.88" r="1.2" fill="#C77CFF" fill-opacity="0.88"/>
<circle cx="389.93" cy="106.03" r="1.2" fill="#00BFC4" fill-opacity="0.88"/>
<circle cx="326.87" cy="107.87" r="1.2" fill="#00BFC4" fill-opacity="0.88"/>
<circle cx="332.39" cy="105.5" r="1.2" fill="#00BFC4" fill-opacity="0.88"/>
<circle cx="350.26" cy="112.07" r="1.2" fill="#7CAE00" fill-opacity="0.88"/>
<circle cx="330.29" cy="115.75" r="1.2" fill="#C77CFF" fill-opacity="0.88"/>
<circle cx="350.26" cy="121.53" r="1.2" fill="#C77CFF" fill-opacity="0.88"/>
<circle cx="370.23" cy="122.58" r="1.2" fill="#C77CFF" fill-opacity="0.88"/>
<circle cx="356.83" cy="126.78" r="1.2" fill="#C77CFF" fill-opacity="0.88"/>
<circle cx="332.13" cy="130.46" r="1.2" fill="#00BFC4" fill-opacity="0.88"/>
<circle cx="348.42" cy="132.83" r="1.2" fill="#C77CFF" fill-opacity="0.88"/>
<circle cx="362.34" cy="140.45" r="1.2" fill="#C77CFF" fill-opacity="0.88"/>
<circle cx="368.12" cy="146.49" r="1.2" fill="#C77CFF" fill-opacity="0.88"/>
<circle cx="326.61" cy="165.41" r="1.2" fill="#C77CFF" fill-opacity="0.88"/>
<path d="M255.4,39.1 L259.46,40.02 L263.52,40.94 L267.59,41.85 L271.65,42.77 L275.71,43.67 L279.77,44.58 L283.84,45.48 L287.9,46.37 L291.96,47.25 L296.02,48.12 L300.09,48.99 L304.15,49.83 L308.21,50.67 L312.27,51.47 L316.34,52.26 L320.4,53.01 L324.46,53.72 L328.52,54.39 L332.59,55.01 L336.65,55.59 L340.71,56.11 L344.77,56.59 L348.84,57.03 L352.9,57.43 L356.96,57.81 L361.02,58.16 L365.09,58.49 L369.15,58.8 L373.21,59.1 L377.27,59.39 L381.34,59.68 L385.4,59.95 L389.46,60.22 L393.52,60.49 L397.59,60.75 L401.65,61 L405.71,61.25 L409.77,61.51 L413.84,61.75 L417.9,62 L417.9,77.8 L413.84,76.88 L409.77,75.95 L405.71,75.04 L401.65,74.12 L397.59,73.2 L393.52,72.29 L389.46,71.39 L385.4,70.49 L381.34,69.59 L377.27,68.71 L373.21,67.83 L369.15,66.96 L365.09,66.1 L361.02,65.26 L356.96,64.44 L352.9,63.65 L348.84,62.88 L344.77,62.15 L340.71,61.46 L336.65,60.81 L332.59,60.22 L328.52,59.67 L324.46,59.17 L320.4,58.71 L316.34,58.29 L312.27,57.91 L308.21,57.54 L304.15,57.21 L300.09,56.88 L296.02,56.58 L291.96,56.28 L287.9,55.99 L283.84,55.71 L279.77,55.44 L275.71,55.18 L271.65,54.91 L267.59,54.66 L263.52,54.4 L259.46,54.15 L255.4,53.9 Z" fill="#999999" fill-opacity="0.4"/>
<line x1="255.4" y1="46.3" x2="417.9" y2="70" stroke="#3366FF" stroke-width="1.1"/>
<line x1="254.5" y1="172.6" x2="254.5" y2="174" stroke="#333" stroke-width="0.6"/>
<line x1="294.97" y1="172.6" x2="294.97" y2="174" stroke="#333" stroke-width="0.6"/>
<line x1="335.45" y1="172.6" x2="335.45" y2="174" stroke="#333" stroke-width="0.6"/>
<line x1="375.93" y1="172.6" x2="375.93" y2="174" stroke="#333" stroke-width="0.6"/>
<line x1="416.4" y1="172.6" x2="416.4" y2="174" stroke="#333" stroke-width="0.6"/>
<line x1="245.8" y1="18.23" x2="247.2" y2="18.23" stroke="#333" stroke-width="0.6"/>
<line x1="245.8" y1="58.3" x2="247.2" y2="58.3" stroke="#333" stroke-width="0.6"/>
<line x1="245.8" y1="98.37" x2="247.2" y2="98.37" stroke="#333" stroke-width="0.6"/>
<line x1="245.8" y1="138.44" x2="247.2" y2="138.44" stroke="#333" stroke-width="0.6"/>
<text transform="translate(254.5,182) scale(0.92,1)" class="tk" text-anchor="middle">-2</text>
<text transform="translate(294.97,182) scale(0.92,1)" class="tk" text-anchor="middle">- </text><path d="M478,0 L478,1170 L140,959 L140,1180 L493,1409 L759,1409 L759,0 Z" fill="#444" stroke="#444" stroke-width="40.96" transform="translate(293.949,182.000) scale(0.004492,-0.004883)"/>
<text transform="translate(335.45,182) scale(0.92,1)" class="tk" text-anchor="middle">0</text>
<text transform="translate(375.93,182) scale(0.92,1)" class="tk" text-anchor="middle"> </text><path d="M478,0 L478,1170 L140,959 L140,1180 L493,1409 L759,1409 L759,0 Z" fill="#444" stroke="#444" stroke-width="40.96" transform="translate(373.367,182.000) scale(0.004492,-0.004883)"/>
<text transform="translate(416.4,182) scale(0.92,1)" class="tk" text-anchor="middle">2</text>
<text transform="translate(245.2,21.83) scale(0.92,1)" class="tk" text-anchor="end"> 0</text><path d="M478,0 L478,1170 L140,959 L140,1180 L493,1409 L759,1409 L759,0 Z" fill="#444" stroke="#444" stroke-width="40.96" transform="translate(234.967,21.830) scale(0.004492,-0.004883)"/>
<text transform="translate(245.2,61.9) scale(0.92,1)" class="tk" text-anchor="end">0</text>
<text transform="translate(245.2,101.97) scale(0.92,1)" class="tk" text-anchor="end">- 0</text><path d="M478,0 L478,1170 L140,959 L140,1180 L493,1409 L759,1409 L759,0 Z" fill="#444" stroke="#444" stroke-width="40.96" transform="translate(234.967,101.970) scale(0.004492,-0.004883)"/>
<text transform="translate(245.2,142.04) scale(0.92,1)" class="tk" text-anchor="end">-20</text>
<text transform="translate(419,26.2) scale(0.93,1)" class="ann" text-anchor="end">r = -0. 8, P = 0.002</text><path d="M478,0 L478,1170 L140,959 L140,1180 L493,1409 L759,1409 L759,0 Z" fill="#000" transform="translate(372.307,26.200) scale(0.003814,-0.004102)"/>
<text x="336.5" y="193.5" class="ti" text-anchor="middle">Adjusted lgpWMH</text>
<text transform="translate(227.7,93.9) rotate(-90)" x="0" y="0" class="ti" text-anchor="middle">Adjusted MMSE</text>
<rect x="463.2" y="15.2" width="178.8" height="157.4" fill="#EBEBEB"/>
<line x1="503.55" y1="15.2" x2="503.55" y2="172.6" stroke="#F5F5F5" stroke-width="0.6"/>
<line x1="548.78" y1="15.2" x2="548.78" y2="172.6" stroke="#F5F5F5" stroke-width="0.6"/>
<line x1="594.01" y1="15.2" x2="594.01" y2="172.6" stroke="#F5F5F5" stroke-width="0.6"/>
<line x1="639.25" y1="15.2" x2="639.25" y2="172.6" stroke="#F5F5F5" stroke-width="0.6"/>
<line x1="463.2" y1="38.27" x2="642" y2="38.27" stroke="#F5F5F5" stroke-width="0.6"/>
<line x1="463.2" y1="78.33" x2="642" y2="78.33" stroke="#F5F5F5" stroke-width="0.6"/>
<line x1="463.2" y1="118.41" x2="642" y2="118.41" stroke="#F5F5F5" stroke-width="0.6"/>
<line x1="463.2" y1="158.47" x2="642" y2="158.47" stroke="#F5F5F5" stroke-width="0.6"/>
<line x1="480.94" y1="15.2" x2="480.94" y2="172.6" stroke="#FAFAFA" stroke-width="1"/>
<line x1="526.17" y1="15.2" x2="526.17" y2="172.6" stroke="#FAFAFA" stroke-width="1"/>
<line x1="571.4" y1="15.2" x2="571.4" y2="172.6" stroke="#FAFAFA" stroke-width="1"/>
<line x1="616.63" y1="15.2" x2="616.63" y2="172.6" stroke="#FAFAFA" stroke-width="1"/>
<line x1="463.2" y1="18.23" x2="642" y2="18.23" stroke="#FAFAFA" stroke-width="1"/>
<line x1="463.2" y1="58.3" x2="642" y2="58.3" stroke="#FAFAFA" stroke-width="1"/>
<line x1="463.2" y1="98.37" x2="642" y2="98.37" stroke="#FAFAFA" stroke-width="1"/>
<line x1="463.2" y1="138.44" x2="642" y2="138.44" stroke="#FAFAFA" stroke-width="1"/>
<circle cx="530.8" cy="22.31" r="1.2" fill="#00BFC4" fill-opacity="0.88"/>
<circle cx="511.61" cy="36.76" r="1.2" fill="#00BFC4" fill-opacity="0.88"/>
<circle cx="523.04" cy="41.62" r="1.2" fill="#F8766D" fill-opacity="0.88"/>
<circle cx="519.89" cy="43.85" r="1.2" fill="#00BFC4" fill-opacity="0.88"/>
<circle cx="521.21" cy="46.61" r="1.2" fill="#7CAE00" fill-opacity="0.88"/>
<circle cx="525.41" cy="47.53" r="1.2" fill="#00BFC4" fill-opacity="0.88"/>
<circle cx="537.89" cy="34.66" r="1.2" fill="#F8766D" fill-opacity="0.88"/>
<circle cx="539.6" cy="38.34" r="1.2" fill="#F8766D" fill-opacity="0.88"/>
<circle cx="536.84" cy="41.75" r="1.2" fill="#7CAE00" fill-opacity="0.88"/>
<circle cx="542.49" cy="41.88" r="1.2" fill="#7CAE00" fill-opacity="0.88"/>
<circle cx="543.41" cy="44.25" r="1.2" fill="#7CAE00" fill-opacity="0.88"/>
<circle cx="544.72" cy="39.39" r="1.2" fill="#00BFC4" fill-opacity="0.88"/>
<circle cx="545.12" cy="40.96" r="1.2" fill="#7CAE00" fill-opacity="0.88"/>
<circle cx="548.14" cy="36.1" r="1.2" fill="#7CAE00" fill-opacity="0.88"/>
<circle cx="549.06" cy="38.99" r="1.2" fill="#00BFC4" fill-opacity="0.88"/>
<circle cx="550.37" cy="38.34" r="1.2" fill="#00BFC4" fill-opacity="0.88"/>
<circle cx="549.45" cy="42.28" r="1.2" fill="#7CAE00" fill-opacity="0.88"/>
<circle cx="552.34" cy="44.91" r="1.2" fill="#00BFC4" fill-opacity="0.88"/>
<circle cx="537.23" cy="47.14" r="1.2" fill="#C77CFF" fill-opacity="0.88"/>
<circle cx="539.86" cy="47.01" r="1.2" fill="#00BFC4" fill-opacity="0.88"/>
<circle cx="537.23" cy="52.79" r="1.2" fill="#7CAE00" fill-opacity="0.88"/>
<circle cx="551.03" cy="50.82" r="1.2" fill="#7CAE00" fill-opacity="0.88"/>
<circle cx="552.34" cy="50.42" r="1.2" fill="#F8766D" fill-opacity="0.88"/>
<circle cx="547.09" cy="55.15" r="1.2" fill="#7CAE00" fill-opacity="0.88"/>
<circle cx="471.15" cy="49.11" r="1.2" fill="#00BFC4" fill-opacity="0.88"/>
<circle cx="556.99" cy="25.85" r="1.2" fill="#00BFC4" fill-opacity="0.88"/>
<circle cx="561.2" cy="27.82" r="1.2" fill="#7CAE00" fill-opacity="0.88"/>
<circle cx="563.17" cy="29.8" r="1.2" fill="#7CAE00" fill-opacity="0.88"/>
<circle cx="564.48" cy="31.11" r="1.2" fill="#7CAE00" fill-opacity="0.88"/>
<circle cx="565.14" cy="32.42" r="1.2" fill="#7CAE00" fill-opacity="0.88"/>
<circle cx="569.08" cy="33.34" r="1.2" fill="#F8766D" fill-opacity="0.88"/>
<circle cx="569.74" cy="32.42" r="1.2" fill="#7CAE00" fill-opacity="0.88"/>
<circle cx="554.63" cy="35.45" r="1.2" fill="#7CAE00" fill-opacity="0.88"/>
<circle cx="557.91" cy="35.71" r="1.2" fill="#7CAE00" fill-opacity="0.88"/>
<circle cx="560.54" cy="34.66" r="1.2" fill="#00BFC4" fill-opacity="0.88"/>
<circle cx="564.48" cy="35.45" r="1.2" fill="#00BFC4" fill-opacity="0.88"/>
<circle cx="565.14" cy="36.76" r="1.2" fill="#00BFC4" fill-opacity="0.88"/>
<circle cx="553.97" cy="37.68" r="1.2" fill="#7CAE00" fill-opacity="0.88"/>
<circle cx="557.91" cy="39.26" r="1.2" fill="#C77CFF" fill-opacity="0.88"/>
<circle cx="562.51" cy="37.02" r="1.2" fill="#7CAE00" fill-opacity="0.88"/>
<circle cx="569.74" cy="36.76" r="1.2" fill="#7CAE00" fill-opacity="0.88"/>
<circle cx="571.97" cy="36.76" r="1.2" fill="#F8766D" fill-opacity="0.88"/>
<circle cx="574.99" cy="35.45" r="1.2" fill="#00BFC4" fill-opacity="0.88"/>
<circle cx="577.36" cy="32.42" r="1.2" fill="#7CAE00" fill-opacity="0.88"/>
<circle cx="578.93" cy="33.34" r="1.2" fill="#00BFC4" fill-opacity="0.88"/>
<circle cx="585.11" cy="32.82" r="1.2" fill="#F8766D" fill-opacity="0.88"/>
<circle cx="574.34" cy="38.99" r="1.2" fill="#00BFC4" fill-opacity="0.88"/>
<circle cx="576.31" cy="40.31" r="1.2" fill="#00BFC4" fill-opacity="0.88"/>
<circle cx="577.62" cy="39.91" r="1.2" fill="#F8766D" fill-opacity="0.88"/>
<circle cx="578.93" cy="39.65" r="1.2" fill="#F8766D" fill-opacity="0.88"/>
<circle cx="578.93" cy="37.68" r="1.2" fill="#00BFC4" fill-opacity="0.88"/>
<circle cx="581.56" cy="41.62" r="1.2" fill="#7CAE00" fill-opacity="0.88"/>
<circle cx="582.88" cy="42.93" r="1.2" fill="#00BFC4" fill-opacity="0.88"/>
<circle cx="588.13" cy="42.01" r="1.2" fill="#00BFC4" fill-opacity="0.88"/>
<circle cx="559.88" cy="41.23" r="1.2" fill="#7CAE00" fill-opacity="0.88"/>
<circle cx="563.17" cy="40.31" r="1.2" fill="#00BFC4" fill-opacity="0.88"/>
<circle cx="565.14" cy="40.31" r="1.2" fill="#7CAE00" fill-opacity="0.88"/>
<circle cx="567.77" cy="41.62" r="1.2" fill="#7CAE00" fill-opacity="0.88"/>
<circle cx="572.37" cy="40.96" r="1.2" fill="#00BFC4" fill-opacity="0.88"/>
<circle cx="557.91" cy="43.59" r="1.2" fill="#00BFC4" fill-opacity="0.88"/>
<circle cx="555.94" cy="45.56" r="1.2" fill="#00BFC4" fill-opacity="0.88"/>
<circle cx="553.97" cy="45.17" r="1.2" fill="#00BFC4" fill-opacity="0.88"/>
<circle cx="560.54" cy="44.25" r="1.2" fill="#00BFC4" fill-opacity="0.88"/>
<circle cx="561.85" cy="44.91" r="1.2" fill="#00BFC4" fill-opacity="0.88"/>
<circle cx="565.14" cy="42.93" r="1.2" fill="#F8766D" fill-opacity="0.88"/>
<circle cx="566.45" cy="44.25" r="1.2" fill="#7CAE00" fill-opacity="0.88"/>
<circle cx="567.77" cy="45.56" r="1.2" fill="#7CAE00" fill-opacity="0.88"/>
<circle cx="569.08" cy="42.93" r="1.2" fill="#7CAE00" fill-opacity="0.88"/>
<circle cx="571.71" cy="44.25" r="1.2" fill="#7CAE00" fill-opacity="0.88"/>
<circle cx="573.68" cy="44.91" r="1.2" fill="#F8766D" fill-opacity="0.88"/>
<circle cx="574.99" cy="45.56" r="1.2" fill="#7CAE00" fill-opacity="0.88"/>
<circle cx="576.96" cy="45.56" r="1.2" fill="#00BFC4" fill-opacity="0.88"/>
<circle cx="578.93" cy="47.53" r="1.2" fill="#00BFC4" fill-opacity="0.88"/>
<circle cx="580.25" cy="46.88" r="1.2" fill="#00BFC4" fill-opacity="0.88"/>
<circle cx="581.56" cy="48.19" r="1.2" fill="#00BFC4" fill-opacity="0.88"/>
<circle cx="594.04" cy="37.02" r="1.2" fill="#7CAE00" fill-opacity="0.88"/>
<circle cx="592.99" cy="39.65" r="1.2" fill="#7CAE00" fill-opacity="0.88"/>
<circle cx="597.99" cy="40.57" r="1.2" fill="#F8766D" fill-opacity="0.88"/>
<circle cx="599.96" cy="42.01" r="1.2" fill="#00BFC4" fill-opacity="0.88"/>
<circle cx="601.27" cy="42.93" r="1.2" fill="#00BFC4" fill-opacity="0.88"/>
<circle cx="602.58" cy="45.17" r="1.2" fill="#00BFC4" fill-opacity="0.88"/>
<circle cx="606.92" cy="37.28" r="1.2" fill="#00BFC4" fill-opacity="0.88"/>
<circle cx="612.44" cy="38.6" r="1.2" fill="#7CAE00" fill-opacity="0.88"/>
<circle cx="608.23" cy="46.88" r="1.2" fill="#00BFC4" fill-opacity="0.88"/>
<circle cx="590.1" cy="44.64" r="1.2" fill="#C77CFF" fill-opacity="0.88"/>
<circle cx="595.36" cy="44.25" r="1.2" fill="#7CAE00" fill-opacity="0.88"/>
<circle cx="594.31" cy="47.14" r="1.2" fill="#F8766D" fill-opacity="0.88"/>
<circle cx="587.21" cy="44.25" r="1.2" fill="#00BFC4" fill-opacity="0.88"/>
<circle cx="586.82" cy="47.53" r="1.2" fill="#7CAE00" fill-opacity="0.88"/>
<circle cx="596.02" cy="49.9" r="1.2" fill="#7CAE00" fill-opacity="0.88"/>
<circle cx="596.67" cy="51.74" r="1.2" fill="#C77CFF" fill-opacity="0.88"/>
<circle cx="597.33" cy="50.42" r="1.2" fill="#00BFC4" fill-opacity="0.88"/>
<circle cx="605.87" cy="50.42" r="1.2" fill="#00BFC4" fill-opacity="0.88"/>
<circle cx="604.82" cy="51.21" r="1.2" fill="#00BFC4" fill-opacity="0.88"/>
<circle cx="587.47" cy="51.21" r="1.2" fill="#7CAE00" fill-opacity="0.88"/>
<circle cx="582.88" cy="49.9" r="1.2" fill="#7CAE00" fill-opacity="0.88"/>
<circle cx="554.63" cy="47.27" r="1.2" fill="#7CAE00" fill-opacity="0.88"/>
<circle cx="558.57" cy="48.19" r="1.2" fill="#7CAE00" fill-opacity="0.88"/>
<circle cx="552.66" cy="49.5" r="1.2" fill="#F8766D" fill-opacity="0.88"/>
<circle cx="565.14" cy="47.53" r="1.2" fill="#F8766D" fill-opacity="0.88"/>
<circle cx="568.42" cy="47.53" r="1.2" fill="#00BFC4" fill-opacity="0.88"/>
<circle cx="563.17" cy="49.5" r="1.2" fill="#7CAE00" fill-opacity="0.88"/>
<circle cx="571.71" cy="48.19" r="1.2" fill="#00BFC4" fill-opacity="0.88"/>
<circle cx="573.02" cy="50.16" r="1.2" fill="#00BFC4" fill-opacity="0.88"/>
<circle cx="576.31" cy="49.5" r="1.2" fill="#7CAE00" fill-opacity="0.88"/>
<circle cx="554.63" cy="51.47" r="1.2" fill="#00BFC4" fill-opacity="0.88"/>
<circle cx="559.23" cy="50.82" r="1.2" fill="#7CAE00" fill-opacity="0.88"/>
<circle cx="565.14" cy="51.74" r="1.2" fill="#F8766D" fill-opacity="0.88"/>
<circle cx="569.08" cy="51.47" r="1.2" fill="#F8766D" fill-opacity="0.88"/>
<circle cx="574.34" cy="51.21" r="1.2" fill="#F8766D" fill-opacity="0.88"/>
<circle cx="578.28" cy="52.13" r="1.2" fill="#F8766D" fill-opacity="0.88"/>
<circle cx="579.59" cy="54.1" r="1.2" fill="#F8766D" fill-opacity="0.88"/>
<circle cx="571.71" cy="54.1" r="1.2" fill="#7CAE00" fill-opacity="0.88"/>
<circle cx="575.65" cy="54.76" r="1.2" fill="#00BFC4" fill-opacity="0.88"/>
<circle cx="588.79" cy="54.1" r="1.2" fill="#7CAE00" fill-opacity="0.88"/>
<circle cx="590.1" cy="55.15" r="1.2" fill="#F8766D" fill-opacity="0.88"/>
<circle cx="592.73" cy="54.1" r="1.2" fill="#7CAE00" fill-opacity="0.88"/>
<circle cx="594.7" cy="54.1" r="1.2" fill="#7CAE00" fill-opacity="0.88"/>
<circle cx="528.3" cy="56.97" r="1.2" fill="#F8766D" fill-opacity="0.88"/>
<circle cx="537.23" cy="56.58" r="1.2" fill="#C77CFF" fill-opacity="0.88"/>
<circle cx="546.43" cy="56.31" r="1.2" fill="#7CAE00" fill-opacity="0.88"/>
<circle cx="549.72" cy="55.66" r="1.2" fill="#00BFC4" fill-opacity="0.88"/>
<circle cx="519.23" cy="58.94" r="1.2" fill="#00BFC4" fill-opacity="0.88"/>
<circle cx="522.39" cy="61.57" r="1.2" fill="#F8766D" fill-opacity="0.88"/>
<circle cx="542.75" cy="60.91" r="1.2" fill="#00BFC4" fill-opacity="0.88"/>
<circle cx="491.64" cy="62.62" r="1.2" fill="#7CAE00" fill-opacity="0.88"/>
<circle cx="523.7" cy="66.82" r="1.2" fill="#00BFC4" fill-opacity="0.88"/>
<circle cx="544.46" cy="68.8" r="1.2" fill="#00BFC4" fill-opacity="0.88"/>
<circle cx="535" cy="72.34" r="1.2" fill="#00BFC4" fill-opacity="0.88"/>
<circle cx="545.12" cy="72.74" r="1.2" fill="#00BFC4" fill-opacity="0.88"/>
<circle cx="505.04" cy="71.69" r="1.2" fill="#00BFC4" fill-opacity="0.88"/>
<circle cx="552.08" cy="74.97" r="1.2" fill="#C77CFF" fill-opacity="0.88"/>
<circle cx="532.64" cy="87.85" r="1.2" fill="#00BFC4" fill-opacity="0.88"/>
<circle cx="552.66" cy="55.66" r="1.2" fill="#7CAE00" fill-opacity="0.88"/>
<circle cx="560.54" cy="58.68" r="1.2" fill="#F8766D" fill-opacity="0.88"/>
<circle cx="562.51" cy="61.31" r="1.2" fill="#F8766D" fill-opacity="0.88"/>
<circle cx="554.89" cy="60.91" r="1.2" fill="#00BFC4" fill-opacity="0.88"/>
<circle cx="560.93" cy="62.62" r="1.2" fill="#00BFC4" fill-opacity="0.88"/>
<circle cx="561.46" cy="63.93" r="1.2" fill="#00BFC4" fill-opacity="0.88"/>
<circle cx="566.45" cy="58.28" r="1.2" fill="#00BFC4" fill-opacity="0.88"/>
<circle cx="567.11" cy="55.66" r="1.2" fill="#7CAE00" fill-opacity="0.88"/>
<circle cx="569.08" cy="56.05" r="1.2" fill="#00BFC4" fill-opacity="0.88"/>
<circle cx="573.02" cy="56.58" r="1.2" fill="#00BFC4" fill-opacity="0.88"/>
<circle cx="576.31" cy="55.66" r="1.2" fill="#7CAE00" fill-opacity="0.88"/>
<circle cx="577.23" cy="56.97" r="1.2" fill="#7CAE00" fill-opacity="0.88"/>
<circle cx="579.59" cy="56.97" r="1.2" fill="#00BFC4" fill-opacity="0.88"/>
<circle cx="569.08" cy="61.31" r="1.2" fill="#7CAE00" fill-opacity="0.88"/>
<circle cx="566.72" cy="63.93" r="1.2" fill="#7CAE00" fill-opacity="0.88"/>
<circle cx="571.71" cy="58.28" r="1.2" fill="#7CAE00" fill-opacity="0.88"/>
<circle cx="573.68" cy="62.62" r="1.2" fill="#7CAE00" fill-opacity="0.88"/>
<circle cx="574.34" cy="64.85" r="1.2" fill="#00BFC4" fill-opacity="0.88"/>
<circle cx="575.65" cy="64.2" r="1.2" fill="#00BFC4" fill-opacity="0.88"/>
<circle cx="576.7" cy="63.93" r="1.2" fill="#00BFC4" fill-opacity="0.88"/>
<circle cx="573.02" cy="65.25" r="1.2" fill="#00BFC4" fill-opacity="0.88"/>
<circle cx="577.62" cy="67.88" r="1.2" fill="#7CAE00" fill-opacity="0.88"/>
<circle cx="578.28" cy="68.8" r="1.2" fill="#7CAE00" fill-opacity="0.88"/>
<circle cx="580.25" cy="61.57" r="1.2" fill="#F8766D" fill-opacity="0.88"/>
<circle cx="583.53" cy="62.88" r="1.2" fill="#00BFC4" fill-opacity="0.88"/>
<circle cx="583.53" cy="64.85" r="1.2" fill="#7CAE00" fill-opacity="0.88"/>
<circle cx="585.5" cy="58.28" r="1.2" fill="#00BFC4" fill-opacity="0.88"/>
<circle cx="588.79" cy="56.58" r="1.2" fill="#F8766D" fill-opacity="0.88"/>
<circle cx="590.1" cy="55.66" r="1.2" fill="#F8766D" fill-opacity="0.88"/>
<circle cx="591.15" cy="58.94" r="1.2" fill="#7CAE00" fill-opacity="0.88"/>
<circle cx="587.47" cy="63.54" r="1.2" fill="#7CAE00" fill-opacity="0.88"/>
<circle cx="590.76" cy="63.93" r="1.2" fill="#F8766D" fill-opacity="0.88"/>
<circle cx="593.39" cy="62.23" r="1.2" fill="#7CAE00" fill-opacity="0.88"/>
<circle cx="595.1" cy="60.91" r="1.2" fill="#C77CFF" fill-opacity="0.88"/>
<circle cx="597.99" cy="58.94" r="1.2" fill="#00BFC4" fill-opacity="0.88"/>
<circle cx="602.58" cy="62.62" r="1.2" fill="#00BFC4" fill-opacity="0.88"/>
<circle cx="606.53" cy="58.68" r="1.2" fill="#7CAE00" fill-opacity="0.88"/>
<circle cx="628.6" cy="57.63" r="1.2" fill="#00BFC4" fill-opacity="0.88"/>
<circle cx="598.64" cy="64.85" r="1.2" fill="#7CAE00" fill-opacity="0.88"/>
<circle cx="560.54" cy="68.4" r="1.2" fill="#00BFC4" fill-opacity="0.88"/>
<circle cx="564.88" cy="67.22" r="1.2" fill="#00BFC4" fill-opacity="0.88"/>
<circle cx="569.08" cy="68.53" r="1.2" fill="#00BFC4" fill-opacity="0.88"/>
<circle cx="571.45" cy="67.88" r="1.2" fill="#00BFC4" fill-opacity="0.88"/>
<circle cx="581.56" cy="68.14" r="1.2" fill="#00BFC4" fill-opacity="0.88"/>
<circle cx="582.22" cy="69.72" r="1.2" fill="#00BFC4" fill-opacity="0.88"/>
<circle cx="584.85" cy="67.88" r="1.2" fill="#00BFC4" fill-opacity="0.88"/>
<circle cx="595.1" cy="68.8" r="1.2" fill="#00BFC4" fill-opacity="0.88"/>
<circle cx="597.33" cy="68.14" r="1.2" fill="#C77CFF" fill-opacity="0.88"/>
<circle cx="611.52" cy="69.85" r="1.2" fill="#00BFC4" fill-opacity="0.88"/>
<circle cx="603.9" cy="71.42" r="1.2" fill="#7CAE00" fill-opacity="0.88"/>
<circle cx="592.07" cy="72.34" r="1.2" fill="#C77CFF" fill-opacity="0.88"/>
<circle cx="619.01" cy="76.42" r="1.2" fill="#C77CFF" fill-opacity="0.88"/>
<circle cx="583.8" cy="73.79" r="1.2" fill="#00BFC4" fill-opacity="0.88"/>
<circle cx="552.66" cy="75.1" r="1.2" fill="#C77CFF" fill-opacity="0.88"/>
<circle cx="572.76" cy="77.73" r="1.2" fill="#7CAE00" fill-opacity="0.88"/>
<circle cx="574.99" cy="77.6" r="1.2" fill="#C77CFF" fill-opacity="0.88"/>
<circle cx="599.04" cy="77.99" r="1.2" fill="#F8766D" fill-opacity="0.88"/>
<circle cx="567.5" cy="80.36" r="1.2" fill="#C77CFF" fill-opacity="0.88"/>
<circle cx="573.02" cy="81.01" r="1.2" fill="#C77CFF" fill-opacity="0.88"/>
<circle cx="572.76" cy="82.59" r="1.2" fill="#00BFC4" fill-opacity="0.88"/>
<circle cx="589.45" cy="80.36" r="1.2" fill="#C77CFF" fill-opacity="0.88"/>
<circle cx="591.15" cy="81.93" r="1.2" fill="#00BFC4" fill-opacity="0.88"/>
<circle cx="584.85" cy="81.93" r="1.2" fill="#00BFC4" fill-opacity="0.88"/>
<circle cx="596.67" cy="82.2" r="1.2" fill="#C77CFF" fill-opacity="0.88"/>
<circle cx="564.09" cy="83.51" r="1.2" fill="#C77CFF" fill-opacity="0.88"/>
<circle cx="554.36" cy="85.48" r="1.2" fill="#7CAE00" fill-opacity="0.88"/>
<circle cx="584.58" cy="84.96" r="1.2" fill="#C77CFF" fill-opacity="0.88"/>
<circle cx="593.78" cy="88.11" r="1.2" fill="#C77CFF" fill-opacity="0.88"/>
<circle cx="588.79" cy="88.77" r="1.2" fill="#00BFC4" fill-opacity="0.88"/>
<circle cx="579.85" cy="89.82" r="1.2" fill="#C77CFF" fill-opacity="0.88"/>
<circle cx="634.12" cy="88.24" r="1.2" fill="#C77CFF" fill-opacity="0.88"/>
<circle cx="529.74" cy="92.1" r="1.2" fill="#00BFC4" fill-opacity="0.88"/>
<circle cx="566" cy="91.84" r="1.2" fill="#00BFC4" fill-opacity="0.88"/>
<circle cx="565.47" cy="93.68" r="1.2" fill="#00BFC4" fill-opacity="0.88"/>
<circle cx="575.98" cy="96.31" r="1.2" fill="#C77CFF" fill-opacity="0.88"/>
<circle cx="578.61" cy="94.73" r="1.2" fill="#00BFC4" fill-opacity="0.88"/>
<circle cx="585.18" cy="95.78" r="1.2" fill="#00BFC4" fill-opacity="0.88"/>
<circle cx="591.74" cy="93.94" r="1.2" fill="#00BFC4" fill-opacity="0.88"/>
<circle cx="605.93" cy="93.94" r="1.2" fill="#00BFC4" fill-opacity="0.88"/>
<circle cx="574.4" cy="99.72" r="1.2" fill="#C77CFF" fill-opacity="0.88"/>
<circle cx="579.13" cy="98.93" r="1.2" fill="#C77CFF" fill-opacity="0.88"/>
<circle cx="582.55" cy="97.88" r="1.2" fill="#C77CFF" fill-opacity="0.88"/>
<circle cx="579.66" cy="101.82" r="1.2" fill="#00BFC4" fill-opacity="0.88"/>
<circle cx="584.65" cy="103.4" r="1.2" fill="#C77CFF" fill-opacity="0.88"/>
<circle cx="590.43" cy="102.35" r="1.2" fill="#C77CFF" fill-opacity="0.88"/>
<circle cx="593.85" cy="101.56" r="1.2" fill="#C77CFF" fill-opacity="0.88"/>
<circle cx="588.59" cy="106.29" r="1.2" fill="#00BFC4" fill-opacity="0.88"/>
<circle cx="590.69" cy="107.87" r="1.2" fill="#00BFC4" fill-opacity="0.88"/>
<circle cx="546.82" cy="105.5" r="1.2" fill="#00BFC4" fill-opacity="0.88"/>
<circle cx="571.25" cy="112.33" r="1.2" fill="#7CAE00" fill-opacity="0.88"/>
<circle cx="571.25" cy="115.75" r="1.2" fill="#C77CFF" fill-opacity="0.88"/>
<circle cx="582.81" cy="121.79" r="1.2" fill="#C77CFF" fill-opacity="0.88"/>
<circle cx="592.01" cy="122.58" r="1.2" fill="#C77CFF" fill-opacity="0.88"/>
<circle cx="592.8" cy="126.78" r="1.2" fill="#C77CFF" fill-opacity="0.88"/>
<circle cx="579.4" cy="130.73" r="1.2" fill="#00BFC4" fill-opacity="0.88"/>
<circle cx="539.72" cy="133.09" r="1.2" fill="#C77CFF" fill-opacity="0.88"/>
<circle cx="593.06" cy="140.45" r="1.2" fill="#C77CFF" fill-opacity="0.88"/>
<circle cx="607.77" cy="146.75" r="1.2" fill="#C77CFF" fill-opacity="0.88"/>
<circle cx="583.6" cy="165.67" r="1.2" fill="#C77CFF" fill-opacity="0.88"/>
<path d="M471.4,25.3 L475.46,26.61 L479.52,27.91 L483.59,29.22 L487.65,30.52 L491.71,31.82 L495.77,33.12 L499.84,34.42 L503.9,35.72 L507.96,37.01 L512.02,38.3 L516.09,39.59 L520.15,40.87 L524.21,42.15 L528.27,43.42 L532.34,44.68 L536.4,45.93 L540.46,47.17 L544.52,48.4 L548.59,49.6 L552.65,50.77 L556.71,51.91 L560.77,53 L564.84,54.03 L568.9,54.98 L572.96,55.86 L577.02,56.66 L581.09,57.37 L585.15,58.02 L589.21,58.62 L593.27,59.17 L597.34,59.69 L601.4,60.18 L605.46,60.66 L609.52,61.12 L613.59,61.57 L617.65,62.01 L621.71,62.44 L625.77,62.86 L629.84,63.28 L633.9,63.7 L633.9,78.8 L629.84,77.51 L625.77,76.23 L621.71,74.95 L617.65,73.67 L613.59,72.41 L609.52,71.15 L605.46,69.91 L601.4,68.68 L597.34,67.47 L593.27,66.28 L589.21,65.13 L585.15,64.02 L581.09,62.96 L577.02,61.97 L572.96,61.06 L568.9,60.24 L564.84,59.49 L560.77,58.81 L556.71,58.2 L552.65,57.63 L548.59,57.1 L544.52,56.59 L540.46,56.11 L536.4,55.65 L532.34,55.19 L528.27,54.75 L524.21,54.32 L520.15,53.89 L516.09,53.47 L512.02,53.05 L507.96,52.63 L503.9,52.22 L499.84,51.81 L495.77,51.41 L491.71,51 L487.65,50.6 L483.59,50.2 L479.52,49.8 L475.46,49.4 L471.4,49 Z" fill="#999999" fill-opacity="0.4"/>
<line x1="471.4" y1="37.2" x2="633.9" y2="71.5" stroke="#3366FF" stroke-width="1.1"/>
<line x1="480.94" y1="172.6" x2="480.94" y2="174" stroke="#333" stroke-width="0.6"/>
<line x1="526.17" y1="172.6" x2="526.17" y2="174" stroke="#333" stroke-width="0.6"/>
<line x1="571.4" y1="172.6" x2="571.4" y2="174" stroke="#333" stroke-width="0.6"/>
<line x1="616.63" y1="172.6" x2="616.63" y2="174" stroke="#333" stroke-width="0.6"/>
<line x1="461.8" y1="18.23" x2="463.2" y2="18.23" stroke="#333" stroke-width="0.6"/>
<line x1="461.8" y1="58.3" x2="463.2" y2="58.3" stroke="#333" stroke-width="0.6"/>
<line x1="461.8" y1="98.37" x2="463.2" y2="98.37" stroke="#333" stroke-width="0.6"/>
<line x1="461.8" y1="138.44" x2="463.2" y2="138.44" stroke="#333" stroke-width="0.6"/>
<text transform="translate(480.94,182) scale(0.92,1)" class="tk" text-anchor="middle">-2</text>
<text transform="translate(526.17,182) scale(0.92,1)" class="tk" text-anchor="middle">- </text><path d="M478,0 L478,1170 L140,959 L140,1180 L493,1409 L759,1409 L759,0 Z" fill="#444" stroke="#444" stroke-width="40.96" transform="translate(525.144,182.000) scale(0.004492,-0.004883)"/>
<text transform="translate(571.4,182) scale(0.92,1)" class="tk" text-anchor="middle">0</text>
<text transform="translate(616.63,182) scale(0.92,1)" class="tk" text-anchor="middle"> </text><path d="M478,0 L478,1170 L140,959 L140,1180 L493,1409 L759,1409 L759,0 Z" fill="#444" stroke="#444" stroke-width="40.96" transform="translate(614.072,182.000) scale(0.004492,-0.004883)"/>
<text transform="translate(461.2,21.83) scale(0.92,1)" class="tk" text-anchor="end"> 0</text><path d="M478,0 L478,1170 L140,959 L140,1180 L493,1409 L759,1409 L759,0 Z" fill="#444" stroke="#444" stroke-width="40.96" transform="translate(450.967,21.830) scale(0.004492,-0.004883)"/>
<text transform="translate(461.2,61.9) scale(0.92,1)" class="tk" text-anchor="end">0</text>
<text transform="translate(461.2,101.97) scale(0.92,1)" class="tk" text-anchor="end">- 0</text><path d="M478,0 L478,1170 L140,959 L140,1180 L493,1409 L759,1409 L759,0 Z" fill="#444" stroke="#444" stroke-width="40.96" transform="translate(450.967,101.970) scale(0.004492,-0.004883)"/>
<text transform="translate(461.2,142.04) scale(0.92,1)" class="tk" text-anchor="end">-20</text>
<text transform="translate(635.2,26.2) scale(0.93,1)" class="ann" text-anchor="end">r = -0.2 , P < 0.00 </text><path d="M478,0 L478,1170 L140,959 L140,1180 L493,1409 L759,1409 L759,0 Z" fill="#000" transform="translate(592.852,26.200) scale(0.003814,-0.004102)"/><path d="M478,0 L478,1170 L140,959 L140,1180 L493,1409 L759,1409 L759,0 Z" fill="#000" transform="translate(630.855,26.200) scale(0.003814,-0.004102)"/>
<text x="552.6" y="193.5" class="ti" text-anchor="middle">Adjusted lgjcWMH</text>
<text transform="translate(443.7,93.9) rotate(-90)" x="0" y="0" class="ti" text-anchor="middle">Adjusted MMSE</text>
<rect x="30.7" y="216" width="178.4" height="156.7" fill="#EBEBEB"/>
<line x1="42.7" y1="216" x2="42.7" y2="372.7" stroke="#F5F5F5" stroke-width="0.6"/>
<line x1="90.3" y1="216" x2="90.3" y2="372.7" stroke="#F5F5F5" stroke-width="0.6"/>
<line x1="137.9" y1="216" x2="137.9" y2="372.7" stroke="#F5F5F5" stroke-width="0.6"/>
<line x1="185.5" y1="216" x2="185.5" y2="372.7" stroke="#F5F5F5" stroke-width="0.6"/>
<line x1="30.7" y1="246.46" x2="209.1" y2="246.46" stroke="#F5F5F5" stroke-width="0.6"/>
<line x1="30.7" y1="287.94" x2="209.1" y2="287.94" stroke="#F5F5F5" stroke-width="0.6"/>
<line x1="30.7" y1="329.4" x2="209.1" y2="329.4" stroke="#F5F5F5" stroke-width="0.6"/>
<line x1="30.7" y1="370.88" x2="209.1" y2="370.88" stroke="#F5F5F5" stroke-width="0.6"/>
<line x1="66.5" y1="216" x2="66.5" y2="372.7" stroke="#FAFAFA" stroke-width="1"/>
<line x1="114.1" y1="216" x2="114.1" y2="372.7" stroke="#FAFAFA" stroke-width="1"/>
<line x1="161.7" y1="216" x2="161.7" y2="372.7" stroke="#FAFAFA" stroke-width="1"/>
<line x1="30.7" y1="225.73" x2="209.1" y2="225.73" stroke="#FAFAFA" stroke-width="1"/>
<line x1="30.7" y1="267.2" x2="209.1" y2="267.2" stroke="#FAFAFA" stroke-width="1"/>
<line x1="30.7" y1="308.67" x2="209.1" y2="308.67" stroke="#FAFAFA" stroke-width="1"/>
<line x1="30.7" y1="350.14" x2="209.1" y2="350.14" stroke="#FAFAFA" stroke-width="1"/>
<circle cx="66.79" cy="222.83" r="1.2" fill="#F8766D" fill-opacity="0.88"/>
<circle cx="103.31" cy="224.8" r="1.2" fill="#F8766D" fill-opacity="0.88"/>
<circle cx="38.54" cy="237.02" r="1.2" fill="#00BFC4" fill-opacity="0.88"/>
<circle cx="77.04" cy="228.09" r="1.2" fill="#7CAE00" fill-opacity="0.88"/>
<circle cx="74.02" cy="230.85" r="1.2" fill="#F8766D" fill-opacity="0.88"/>
<circle cx="76.64" cy="230.85" r="1.2" fill="#7CAE00" fill-opacity="0.88"/>
<circle cx="78.35" cy="231.11" r="1.2" fill="#00BFC4" fill-opacity="0.88"/>
<circle cx="78.61" cy="233.47" r="1.2" fill="#7CAE00" fill-opacity="0.88"/>
<circle cx="80.58" cy="235.71" r="1.2" fill="#7CAE00" fill-opacity="0.88"/>
<circle cx="70.99" cy="234.53" r="1.2" fill="#F8766D" fill-opacity="0.88"/>
<circle cx="75.72" cy="234.53" r="1.2" fill="#F8766D" fill-opacity="0.88"/>
<circle cx="109.49" cy="232.03" r="1.2" fill="#7CAE00" fill-opacity="0.88"/>
<circle cx="109.88" cy="235.97" r="1.2" fill="#7CAE00" fill-opacity="0.88"/>
<circle cx="77.96" cy="240.7" r="1.2" fill="#7CAE00" fill-opacity="0.88"/>
<circle cx="84.13" cy="240.96" r="1.2" fill="#7CAE00" fill-opacity="0.88"/>
<circle cx="93.72" cy="239.39" r="1.2" fill="#00BFC4" fill-opacity="0.88"/>
<circle cx="99.9" cy="240.96" r="1.2" fill="#7CAE00" fill-opacity="0.88"/>
<circle cx="107.91" cy="241.88" r="1.2" fill="#00BFC4" fill-opacity="0.88"/>
<circle cx="92.02" cy="243.99" r="1.2" fill="#00BFC4" fill-opacity="0.88"/>
<circle cx="95.69" cy="243.99" r="1.2" fill="#7CAE00" fill-opacity="0.88"/>
<circle cx="100.95" cy="243.85" r="1.2" fill="#00BFC4" fill-opacity="0.88"/>
<circle cx="108.57" cy="245.17" r="1.2" fill="#C77CFF" fill-opacity="0.88"/>
<circle cx="112.12" cy="244.51" r="1.2" fill="#00BFC4" fill-opacity="0.88"/>
<circle cx="101.61" cy="245.96" r="1.2" fill="#7CAE00" fill-opacity="0.88"/>
<circle cx="100.95" cy="246.88" r="1.2" fill="#7CAE00" fill-opacity="0.88"/>
<circle cx="59.56" cy="242.93" r="1.2" fill="#F8766D" fill-opacity="0.88"/>
<circle cx="58.91" cy="246.88" r="1.2" fill="#7CAE00" fill-opacity="0.88"/>
<circle cx="58.25" cy="247.53" r="1.2" fill="#7CAE00" fill-opacity="0.88"/>
<circle cx="61.27" cy="248.45" r="1.2" fill="#00BFC4" fill-opacity="0.88"/>
<circle cx="63.11" cy="247.93" r="1.2" fill="#7CAE00" fill-opacity="0.88"/>
<circle cx="72.7" cy="246.88" r="1.2" fill="#00BFC4" fill-opacity="0.88"/>
<circle cx="78.88" cy="247.93" r="1.2" fill="#7CAE00" fill-opacity="0.88"/>
<circle cx="81.24" cy="246.88" r="1.2" fill="#7CAE00" fill-opacity="0.88"/>
<circle cx="86.5" cy="245.56" r="1.2" fill="#00BFC4" fill-opacity="0.88"/>
<circle cx="85.84" cy="246.88" r="1.2" fill="#00BFC4" fill-opacity="0.88"/>
<circle cx="95.69" cy="247.14" r="1.2" fill="#00BFC4" fill-opacity="0.88"/>
<circle cx="98.98" cy="247.93" r="1.2" fill="#F8766D" fill-opacity="0.88"/>
<circle cx="104.63" cy="247.53" r="1.2" fill="#7CAE00" fill-opacity="0.88"/>
<circle cx="108.18" cy="247.8" r="1.2" fill="#00BFC4" fill-opacity="0.88"/>
<circle cx="115.14" cy="249.11" r="1.2" fill="#F8766D" fill-opacity="0.88"/>
<circle cx="119.34" cy="245.56" r="1.2" fill="#F8766D" fill-opacity="0.88"/>
<circle cx="119.61" cy="242.93" r="1.2" fill="#00BFC4" fill-opacity="0.88"/>
<circle cx="83.21" cy="250.16" r="1.2" fill="#00BFC4" fill-opacity="0.88"/>
<circle cx="87.42" cy="249.9" r="1.2" fill="#7CAE00" fill-opacity="0.88"/>
<circle cx="70.73" cy="250.56" r="1.2" fill="#00BFC4" fill-opacity="0.88"/>
<circle cx="74.67" cy="250.82" r="1.2" fill="#7CAE00" fill-opacity="0.88"/>
<circle cx="86.5" cy="251.47" r="1.2" fill="#7CAE00" fill-opacity="0.88"/>
<circle cx="85.18" cy="252.79" r="1.2" fill="#7CAE00" fill-opacity="0.88"/>
<circle cx="93.72" cy="251.47" r="1.2" fill="#F8766D" fill-opacity="0.88"/>
<circle cx="97.01" cy="251.47" r="1.2" fill="#7CAE00" fill-opacity="0.88"/>
<circle cx="98.32" cy="252.79" r="1.2" fill="#7CAE00" fill-opacity="0.88"/>
<circle cx="102.92" cy="250.42" r="1.2" fill="#00BFC4" fill-opacity="0.88"/>
<circle cx="106.86" cy="250.42" r="1.2" fill="#7CAE00" fill-opacity="0.88"/>
<circle cx="106.21" cy="252.79" r="1.2" fill="#00BFC4" fill-opacity="0.88"/>
<circle cx="111.46" cy="252.13" r="1.2" fill="#00BFC4" fill-opacity="0.88"/>
<circle cx="116.06" cy="252.13" r="1.2" fill="#00BFC4" fill-opacity="0.88"/>
<circle cx="117.37" cy="250.82" r="1.2" fill="#7CAE00" fill-opacity="0.88"/>
<circle cx="118.03" cy="249.9" r="1.2" fill="#7CAE00" fill-opacity="0.88"/>
<circle cx="88.47" cy="253.45" r="1.2" fill="#7CAE00" fill-opacity="0.88"/>
<circle cx="91.75" cy="253.45" r="1.2" fill="#00BFC4" fill-opacity="0.88"/>
<circle cx="95.69" cy="255.02" r="1.2" fill="#F8766D" fill-opacity="0.88"/>
<circle cx="93.07" cy="254.76" r="1.2" fill="#00BFC4" fill-opacity="0.88"/>
<circle cx="83.87" cy="253.45" r="1.2" fill="#7CAE00" fill-opacity="0.88"/>
<circle cx="81.24" cy="254.76" r="1.2" fill="#7CAE00" fill-opacity="0.88"/>
<circle cx="75.33" cy="254.1" r="1.2" fill="#F8766D" fill-opacity="0.88"/>
<circle cx="77.3" cy="255.15" r="1.2" fill="#C77CFF" fill-opacity="0.88"/>
<circle cx="86.5" cy="254.1" r="1.2" fill="#00BFC4" fill-opacity="0.88"/>
<circle cx="49.97" cy="255.02" r="1.2" fill="#7CAE00" fill-opacity="0.88"/>
<circle cx="68.1" cy="253.45" r="1.2" fill="#F8766D" fill-opacity="0.88"/>
<circle cx="62.19" cy="253.45" r="1.2" fill="#00BFC4" fill-opacity="0.88"/>
<circle cx="112.12" cy="254.1" r="1.2" fill="#7CAE00" fill-opacity="0.88"/>
<circle cx="121.63" cy="223.88" r="1.2" fill="#F8766D" fill-opacity="0.88"/>
<circle cx="133.72" cy="233.74" r="1.2" fill="#7CAE00" fill-opacity="0.88"/>
<circle cx="143.31" cy="235.97" r="1.2" fill="#7CAE00" fill-opacity="0.88"/>
<circle cx="153.42" cy="232.16" r="1.2" fill="#7CAE00" fill-opacity="0.88"/>
<circle cx="150.8" cy="236.1" r="1.2" fill="#00BFC4" fill-opacity="0.88"/>
<circle cx="137" cy="241.36" r="1.2" fill="#C77CFF" fill-opacity="0.88"/>
<circle cx="120.31" cy="242.93" r="1.2" fill="#00BFC4" fill-opacity="0.88"/>
<circle cx="122.28" cy="242.01" r="1.2" fill="#00BFC4" fill-opacity="0.88"/>
<circle cx="120.97" cy="243.59" r="1.2" fill="#00BFC4" fill-opacity="0.88"/>
<circle cx="124.26" cy="244.64" r="1.2" fill="#00BFC4" fill-opacity="0.88"/>
<circle cx="122.94" cy="245.96" r="1.2" fill="#00BFC4" fill-opacity="0.88"/>
<circle cx="127.54" cy="243.33" r="1.2" fill="#00BFC4" fill-opacity="0.88"/>
<circle cx="129.25" cy="243.85" r="1.2" fill="#F8766D" fill-opacity="0.88"/>
<circle cx="129.77" cy="245.17" r="1.2" fill="#7CAE00" fill-opacity="0.88"/>
<circle cx="119.66" cy="245.56" r="1.2" fill="#F8766D" fill-opacity="0.88"/>
<circle cx="139.76" cy="244.64" r="1.2" fill="#00BFC4" fill-opacity="0.88"/>
<circle cx="144.88" cy="244.51" r="1.2" fill="#00BFC4" fill-opacity="0.88"/>
<circle cx="151.85" cy="247.14" r="1.2" fill="#F8766D" fill-opacity="0.88"/>
<circle cx="127.54" cy="248.85" r="1.2" fill="#00BFC4" fill-opacity="0.88"/>
<circle cx="119.66" cy="249.5" r="1.2" fill="#7CAE00" fill-opacity="0.88"/>
<circle cx="138.71" cy="249.9" r="1.2" fill="#7CAE00" fill-opacity="0.88"/>
<circle cx="121.89" cy="251.74" r="1.2" fill="#00BFC4" fill-opacity="0.88"/>
<circle cx="127.93" cy="251.74" r="1.2" fill="#F8766D" fill-opacity="0.88"/>
<circle cx="136.08" cy="252.53" r="1.2" fill="#00BFC4" fill-opacity="0.88"/>
<circle cx="124.91" cy="254.1" r="1.2" fill="#7CAE00" fill-opacity="0.88"/>
<circle cx="130.82" cy="254.1" r="1.2" fill="#7CAE00" fill-opacity="0.88"/>
<circle cx="134.77" cy="254.76" r="1.2" fill="#7CAE00" fill-opacity="0.88"/>
<circle cx="121.63" cy="255.15" r="1.2" fill="#7CAE00" fill-opacity="0.88"/>
<circle cx="163.93" cy="254.1" r="1.2" fill="#7CAE00" fill-opacity="0.88"/>
<circle cx="169.58" cy="254.76" r="1.2" fill="#7CAE00" fill-opacity="0.88"/>
<circle cx="138.71" cy="255.42" r="1.2" fill="#00BFC4" fill-opacity="0.88"/>
<circle cx="89.12" cy="257.63" r="1.2" fill="#F8766D" fill-opacity="0.88"/>
<circle cx="94.38" cy="257.36" r="1.2" fill="#00BFC4" fill-opacity="0.88"/>
<circle cx="95.69" cy="256.31" r="1.2" fill="#F8766D" fill-opacity="0.88"/>
<circle cx="100.95" cy="258.94" r="1.2" fill="#00BFC4" fill-opacity="0.88"/>
<circle cx="97.67" cy="259.99" r="1.2" fill="#7CAE00" fill-opacity="0.88"/>
<circle cx="108.18" cy="258.94" r="1.2" fill="#F8766D" fill-opacity="0.88"/>
<circle cx="112.77" cy="260.26" r="1.2" fill="#F8766D" fill-opacity="0.88"/>
<circle cx="115.4" cy="259.6" r="1.2" fill="#7CAE00" fill-opacity="0.88"/>
<circle cx="114.09" cy="256.31" r="1.2" fill="#7CAE00" fill-opacity="0.88"/>
<circle cx="118.03" cy="257.63" r="1.2" fill="#7CAE00" fill-opacity="0.88"/>
<circle cx="119.34" cy="260.91" r="1.2" fill="#7CAE00" fill-opacity="0.88"/>
<circle cx="75.99" cy="258.68" r="1.2" fill="#00BFC4" fill-opacity="0.88"/>
<circle cx="73.36" cy="260.91" r="1.2" fill="#00BFC4" fill-opacity="0.88"/>
<circle cx="72.31" cy="261.57" r="1.2" fill="#00BFC4" fill-opacity="0.88"/>
<circle cx="92.02" cy="263.8" r="1.2" fill="#00BFC4" fill-opacity="0.88"/>
<circle cx="95.69" cy="262.62" r="1.2" fill="#00BFC4" fill-opacity="0.88"/>
<circle cx="97.01" cy="261.83" r="1.2" fill="#7CAE00" fill-opacity="0.88"/>
<circle cx="108.18" cy="263.93" r="1.2" fill="#F8766D" fill-opacity="0.88"/>
<circle cx="112.12" cy="261.83" r="1.2" fill="#00BFC4" fill-opacity="0.88"/>
<circle cx="116.72" cy="264.85" r="1.2" fill="#7CAE00" fill-opacity="0.88"/>
<circle cx="119.34" cy="264.85" r="1.2" fill="#7CAE00" fill-opacity="0.88"/>
<circle cx="73.75" cy="266.04" r="1.2" fill="#00BFC4" fill-opacity="0.88"/>
<circle cx="82.82" cy="265.12" r="1.2" fill="#00BFC4" fill-opacity="0.88"/>
<circle cx="83.87" cy="265.51" r="1.2" fill="#F8766D" fill-opacity="0.88"/>
<circle cx="99.64" cy="265.77" r="1.2" fill="#00BFC4" fill-opacity="0.88"/>
<circle cx="106.21" cy="267.48" r="1.2" fill="#7CAE00" fill-opacity="0.88"/>
<circle cx="108.83" cy="268.14" r="1.2" fill="#00BFC4" fill-opacity="0.88"/>
<circle cx="89.12" cy="267.88" r="1.2" fill="#00BFC4" fill-opacity="0.88"/>
<circle cx="69.02" cy="268.93" r="1.2" fill="#7CAE00" fill-opacity="0.88"/>
<circle cx="61.8" cy="269.98" r="1.2" fill="#7CAE00" fill-opacity="0.88"/>
<circle cx="101.61" cy="269.45" r="1.2" fill="#00BFC4" fill-opacity="0.88"/>
<circle cx="99.64" cy="270.37" r="1.2" fill="#F8766D" fill-opacity="0.88"/>
<circle cx="101.61" cy="270.77" r="1.2" fill="#C77CFF" fill-opacity="0.88"/>
<circle cx="104.89" cy="270.77" r="1.2" fill="#7CAE00" fill-opacity="0.88"/>
<circle cx="105.15" cy="272.08" r="1.2" fill="#7CAE00" fill-opacity="0.88"/>
<circle cx="109.49" cy="273.39" r="1.2" fill="#7CAE00" fill-opacity="0.88"/>
<circle cx="115.4" cy="270.11" r="1.2" fill="#00BFC4" fill-opacity="0.88"/>
<circle cx="116.06" cy="271.82" r="1.2" fill="#00BFC4" fill-opacity="0.88"/>
<circle cx="90.83" cy="272.08" r="1.2" fill="#00BFC4" fill-opacity="0.88"/>
<circle cx="98.32" cy="274.45" r="1.2" fill="#00BFC4" fill-opacity="0.88"/>
<circle cx="61.93" cy="276.02" r="1.2" fill="#00BFC4" fill-opacity="0.88"/>
<circle cx="77.96" cy="276.28" r="1.2" fill="#00BFC4" fill-opacity="0.88"/>
<circle cx="79.66" cy="275.63" r="1.2" fill="#C77CFF" fill-opacity="0.88"/>
<circle cx="98.06" cy="277.6" r="1.2" fill="#7CAE00" fill-opacity="0.88"/>
<circle cx="110.15" cy="277.99" r="1.2" fill="#00BFC4" fill-opacity="0.88"/>
<circle cx="93.99" cy="278.91" r="1.2" fill="#00BFC4" fill-opacity="0.88"/>
<circle cx="116.72" cy="279.96" r="1.2" fill="#00BFC4" fill-opacity="0.88"/>
<circle cx="115.4" cy="281.28" r="1.2" fill="#00BFC4" fill-opacity="0.88"/>
<circle cx="71.12" cy="282.99" r="1.2" fill="#00BFC4" fill-opacity="0.88"/>
<circle cx="81.24" cy="285.22" r="1.2" fill="#00BFC4" fill-opacity="0.88"/>
<circle cx="88.86" cy="283.77" r="1.2" fill="#00BFC4" fill-opacity="0.88"/>
<circle cx="94.77" cy="285.88" r="1.2" fill="#00BFC4" fill-opacity="0.88"/>
<circle cx="104.89" cy="283.64" r="1.2" fill="#00BFC4" fill-opacity="0.88"/>
<circle cx="103.58" cy="285.22" r="1.2" fill="#00BFC4" fill-opacity="0.88"/>
<circle cx="102.92" cy="286.93" r="1.2" fill="#7CAE00" fill-opacity="0.88"/>
<circle cx="107.91" cy="287.45" r="1.2" fill="#00BFC4" fill-opacity="0.88"/>
<circle cx="111.46" cy="287.19" r="1.2" fill="#00BFC4" fill-opacity="0.88"/>
<circle cx="115.67" cy="288.5" r="1.2" fill="#00BFC4" fill-opacity="0.88"/>
<circle cx="117.77" cy="292.05" r="1.2" fill="#C77CFF" fill-opacity="0.88"/>
<circle cx="130.56" cy="256.97" r="1.2" fill="#F8766D" fill-opacity="0.88"/>
<circle cx="138.45" cy="256.58" r="1.2" fill="#00BFC4" fill-opacity="0.88"/>
<circle cx="141.99" cy="258.28" r="1.2" fill="#00BFC4" fill-opacity="0.88"/>
<circle cx="119.66" cy="260.91" r="1.2" fill="#7CAE00" fill-opacity="0.88"/>
<circle cx="120.97" cy="260.26" r="1.2" fill="#7CAE00" fill-opacity="0.88"/>
<circle cx="124.26" cy="259.2" r="1.2" fill="#00BFC4" fill-opacity="0.88"/>
<circle cx="125.57" cy="258.68" r="1.2" fill="#00BFC4" fill-opacity="0.88"/>
<circle cx="126.88" cy="260.91" r="1.2" fill="#00BFC4" fill-opacity="0.88"/>
<circle cx="126.23" cy="262.23" r="1.2" fill="#00BFC4" fill-opacity="0.88"/>
<circle cx="132.8" cy="259.99" r="1.2" fill="#7CAE00" fill-opacity="0.88"/>
<circle cx="136.74" cy="260.52" r="1.2" fill="#00BFC4" fill-opacity="0.88"/>
<circle cx="141.34" cy="260.91" r="1.2" fill="#7CAE00" fill-opacity="0.88"/>
<circle cx="150.14" cy="259.99" r="1.2" fill="#F8766D" fill-opacity="0.88"/>
<circle cx="157.1" cy="260.52" r="1.2" fill="#7CAE00" fill-opacity="0.88"/>
<circle cx="162.36" cy="258.68" r="1.2" fill="#00BFC4" fill-opacity="0.88"/>
<circle cx="165.64" cy="259.99" r="1.2" fill="#7CAE00" fill-opacity="0.88"/>
<circle cx="153.16" cy="263.15" r="1.2" fill="#00BFC4" fill-opacity="0.88"/>
<circle cx="147.91" cy="262.88" r="1.2" fill="#7CAE00" fill-opacity="0.88"/>
<circle cx="131.09" cy="263.15" r="1.2" fill="#F8766D" fill-opacity="0.88"/>
<circle cx="120.97" cy="264.2" r="1.2" fill="#7CAE00" fill-opacity="0.88"/>
<circle cx="122.28" cy="263.93" r="1.2" fill="#7CAE00" fill-opacity="0.88"/>
<circle cx="129.51" cy="266.17" r="1.2" fill="#7CAE00" fill-opacity="0.88"/>
<circle cx="130.56" cy="266.17" r="1.2" fill="#7CAE00" fill-opacity="0.88"/>
<circle cx="131.09" cy="268.14" r="1.2" fill="#7CAE00" fill-opacity="0.88"/>
<circle cx="127.54" cy="268.14" r="1.2" fill="#7CAE00" fill-opacity="0.88"/>
<circle cx="136.08" cy="265.91" r="1.2" fill="#C77CFF" fill-opacity="0.88"/>
<circle cx="141.99" cy="267.48" r="1.2" fill="#C77CFF" fill-opacity="0.88"/>
<circle cx="143.31" cy="267.09" r="1.2" fill="#7CAE00" fill-opacity="0.88"/>
<circle cx="145.01" cy="267.88" r="1.2" fill="#C77CFF" fill-opacity="0.88"/>
<circle cx="148.17" cy="269.19" r="1.2" fill="#7CAE00" fill-opacity="0.88"/>
<circle cx="148.17" cy="270.77" r="1.2" fill="#00BFC4" fill-opacity="0.88"/>
<circle cx="140.68" cy="270.77" r="1.2" fill="#00BFC4" fill-opacity="0.88"/>
<circle cx="159.99" cy="268.53" r="1.2" fill="#00BFC4" fill-opacity="0.88"/>
<circle cx="164.33" cy="268.14" r="1.2" fill="#00BFC4" fill-opacity="0.88"/>
<circle cx="164.99" cy="270.11" r="1.2" fill="#00BFC4" fill-opacity="0.88"/>
<circle cx="168.93" cy="266.82" r="1.2" fill="#7CAE00" fill-opacity="0.88"/>
<circle cx="119.66" cy="267.48" r="1.2" fill="#7CAE00" fill-opacity="0.88"/>
<circle cx="120.97" cy="270.77" r="1.2" fill="#7CAE00" fill-opacity="0.88"/>
<circle cx="124.26" cy="270.77" r="1.2" fill="#F8766D" fill-opacity="0.88"/>
<circle cx="131.48" cy="271.03" r="1.2" fill="#F8766D" fill-opacity="0.88"/>
<circle cx="157.37" cy="272.74" r="1.2" fill="#00BFC4" fill-opacity="0.88"/>
<circle cx="160.39" cy="273.79" r="1.2" fill="#00BFC4" fill-opacity="0.88"/>
<circle cx="173.92" cy="274.97" r="1.2" fill="#00BFC4" fill-opacity="0.88"/>
<circle cx="201.12" cy="276.02" r="1.2" fill="#00BFC4" fill-opacity="0.88"/>
<circle cx="123.6" cy="274.71" r="1.2" fill="#00BFC4" fill-opacity="0.88"/>
<circle cx="120.31" cy="276.68" r="1.2" fill="#00BFC4" fill-opacity="0.88"/>
<circle cx="128.85" cy="275.76" r="1.2" fill="#7CAE00" fill-opacity="0.88"/>
<circle cx="133.72" cy="276.28" r="1.2" fill="#00BFC4" fill-opacity="0.88"/>
<circle cx="138.71" cy="273.39" r="1.2" fill="#00BFC4" fill-opacity="0.88"/>
<circle cx="135.42" cy="274.05" r="1.2" fill="#F8766D" fill-opacity="0.88"/>
<circle cx="135.42" cy="279.7" r="1.2" fill="#00BFC4" fill-opacity="0.88"/>
<circle cx="140.02" cy="279.7" r="1.2" fill="#00BFC4" fill-opacity="0.88"/>
<circle cx="141.99" cy="277.6" r="1.2" fill="#00BFC4" fill-opacity="0.88"/>
<circle cx="144.62" cy="279.31" r="1.2" fill="#C77CFF" fill-opacity="0.88"/>
<circle cx="158.42" cy="280.62" r="1.2" fill="#C77CFF" fill-opacity="0.88"/>
<circle cx="123.86" cy="282.33" r="1.2" fill="#7CAE00" fill-opacity="0.88"/>
<circle cx="140.02" cy="284.96" r="1.2" fill="#00BFC4" fill-opacity="0.88"/>
<circle cx="140.02" cy="286.93" r="1.2" fill="#00BFC4" fill-opacity="0.88"/>
<circle cx="148.17" cy="286.8" r="1.2" fill="#C77CFF" fill-opacity="0.88"/>
<circle cx="162.75" cy="287.58" r="1.2" fill="#C77CFF" fill-opacity="0.88"/>
<circle cx="169.98" cy="286.27" r="1.2" fill="#00BFC4" fill-opacity="0.88"/>
<circle cx="128.46" cy="287.85" r="1.2" fill="#7CAE00" fill-opacity="0.88"/>
<circle cx="123.6" cy="289.16" r="1.2" fill="#F8766D" fill-opacity="0.88"/>
<circle cx="135.42" cy="292.71" r="1.2" fill="#00BFC4" fill-opacity="0.88"/>
<circle cx="158.42" cy="294.15" r="1.2" fill="#00BFC4" fill-opacity="0.88"/>
<circle cx="159.73" cy="294.42" r="1.2" fill="#C77CFF" fill-opacity="0.88"/>
<circle cx="120.12" cy="293.94" r="1.2" fill="#00BFC4" fill-opacity="0.88"/>
<circle cx="121.7" cy="295.78" r="1.2" fill="#C77CFF" fill-opacity="0.88"/>
<circle cx="159.27" cy="297.36" r="1.2" fill="#C77CFF" fill-opacity="0.88"/>
<circle cx="136.15" cy="297.88" r="1.2" fill="#C77CFF" fill-opacity="0.88"/>
<circle cx="139.56" cy="300.51" r="1.2" fill="#00BFC4" fill-opacity="0.88"/>
<circle cx="136.94" cy="303.66" r="1.2" fill="#00BFC4" fill-opacity="0.88"/>
<circle cx="160.58" cy="303.14" r="1.2" fill="#00BFC4" fill-opacity="0.88"/>
<circle cx="185.81" cy="296.83" r="1.2" fill="#C77CFF" fill-opacity="0.88"/>
<circle cx="186.07" cy="306.82" r="1.2" fill="#C77CFF" fill-opacity="0.88"/>
<circle cx="86.23" cy="301.3" r="1.2" fill="#00BFC4" fill-opacity="0.88"/>
<circle cx="92.01" cy="303.66" r="1.2" fill="#C77CFF" fill-opacity="0.88"/>
<circle cx="96.21" cy="297.62" r="1.2" fill="#00BFC4" fill-opacity="0.88"/>
<circle cx="96.74" cy="307.87" r="1.2" fill="#00BFC4" fill-opacity="0.88"/>
<circle cx="103.04" cy="308.39" r="1.2" fill="#C77CFF" fill-opacity="0.88"/>
<circle cx="108.03" cy="311.54" r="1.2" fill="#00BFC4" fill-opacity="0.88"/>
<circle cx="113.82" cy="313.12" r="1.2" fill="#C77CFF" fill-opacity="0.88"/>
<circle cx="115.13" cy="303.93" r="1.2" fill="#00BFC4" fill-opacity="0.88"/>
<circle cx="116.18" cy="309.44" r="1.2" fill="#00BFC4" fill-opacity="0.88"/>
<circle cx="122.75" cy="317.33" r="1.2" fill="#C77CFF" fill-opacity="0.88"/>
<circle cx="124.32" cy="319.16" r="1.2" fill="#00BFC4" fill-opacity="0.88"/>
<circle cx="130.11" cy="314.96" r="1.2" fill="#C77CFF" fill-opacity="0.88"/>
<circle cx="132.21" cy="324.68" r="1.2" fill="#C77CFF" fill-opacity="0.88"/>
<circle cx="114.87" cy="322.84" r="1.2" fill="#C77CFF" fill-opacity="0.88"/>
<circle cx="117.23" cy="325.21" r="1.2" fill="#C77CFF" fill-opacity="0.88"/>
<circle cx="128.79" cy="329.41" r="1.2" fill="#C77CFF" fill-opacity="0.88"/>
<circle cx="103.31" cy="329.41" r="1.2" fill="#00BFC4" fill-opacity="0.88"/>
<circle cx="109.09" cy="329.41" r="1.2" fill="#C77CFF" fill-opacity="0.88"/>
<circle cx="150.07" cy="312.86" r="1.2" fill="#00BFC4" fill-opacity="0.88"/>
<circle cx="153.49" cy="311.54" r="1.2" fill="#C77CFF" fill-opacity="0.88"/>
<circle cx="167.15" cy="314.17" r="1.2" fill="#C77CFF" fill-opacity="0.88"/>
<circle cx="151.65" cy="336.51" r="1.2" fill="#C77CFF" fill-opacity="0.88"/>
<circle cx="155.85" cy="339.13" r="1.2" fill="#C77CFF" fill-opacity="0.88"/>
<circle cx="149.02" cy="341.23" r="1.2" fill="#C77CFF" fill-opacity="0.88"/>
<circle cx="122.75" cy="340.71" r="1.2" fill="#C77CFF" fill-opacity="0.88"/>
<circle cx="124.85" cy="345.7" r="1.2" fill="#C77CFF" fill-opacity="0.88"/>
<circle cx="121.96" cy="365.93" r="1.2" fill="#C77CFF" fill-opacity="0.88"/>
<path d="M38.9,239.1 L42.95,240.55 L47.01,242 L51.06,243.45 L55.12,244.89 L59.17,246.33 L63.23,247.76 L67.28,249.18 L71.34,250.6 L75.39,252.01 L79.45,253.4 L83.5,254.78 L87.56,256.14 L91.61,257.48 L95.67,258.79 L99.72,260.07 L103.78,261.3 L107.83,262.49 L111.89,263.62 L115.94,264.7 L120,265.73 L124.06,266.71 L128.11,267.64 L132.16,268.54 L136.22,269.41 L140.27,270.26 L144.33,271.08 L148.38,271.89 L152.44,272.69 L156.49,273.48 L160.55,274.26 L164.6,275.03 L168.66,275.79 L172.72,276.56 L176.77,277.31 L180.83,278.07 L184.88,278.82 L188.94,279.57 L192.99,280.31 L197.04,281.06 L201.1,281.8 L201.1,299.1 L197.04,297.64 L192.99,296.18 L188.94,294.73 L184.88,293.27 L180.83,291.82 L176.77,290.37 L172.72,288.93 L168.66,287.49 L164.6,286.05 L160.55,284.62 L156.49,283.2 L152.44,281.78 L148.38,280.38 L144.33,278.98 L140.27,277.61 L136.22,276.25 L132.16,274.92 L128.11,273.61 L124.06,272.35 L120,271.12 L115.94,269.95 L111.89,268.82 L107.83,267.75 L103.78,266.74 L99.72,265.77 L95.67,264.84 L91.61,263.95 L87.56,263.09 L83.5,262.25 L79.45,261.42 L75.39,260.62 L71.34,259.82 L67.28,259.03 L63.23,258.26 L59.17,257.49 L55.12,256.72 L51.06,255.96 L47.01,255.2 L42.95,254.45 L38.9,253.7 Z" fill="#999999" fill-opacity="0.4"/>
<line x1="38.9" y1="246.3" x2="201.1" y2="291.2" stroke="#3366FF" stroke-width="1.1"/>
<line x1="66.5" y1="372.7" x2="66.5" y2="374.1" stroke="#333" stroke-width="0.6"/>
<line x1="114.1" y1="372.7" x2="114.1" y2="374.1" stroke="#333" stroke-width="0.6"/>
<line x1="161.7" y1="372.7" x2="161.7" y2="374.1" stroke="#333" stroke-width="0.6"/>
<line x1="209.3" y1="372.7" x2="209.3" y2="374.1" stroke="#333" stroke-width="0.6"/>
<line x1="29.3" y1="225.73" x2="30.7" y2="225.73" stroke="#333" stroke-width="0.6"/>
<line x1="29.3" y1="267.2" x2="30.7" y2="267.2" stroke="#333" stroke-width="0.6"/>
<line x1="29.3" y1="308.67" x2="30.7" y2="308.67" stroke="#333" stroke-width="0.6"/>
<line x1="29.3" y1="350.14" x2="30.7" y2="350.14" stroke="#333" stroke-width="0.6"/>
<text transform="translate(66.5,382.2) scale(0.92,1)" class="tk" text-anchor="middle">-0.4</text>
<text transform="translate(114.1,382.2) scale(0.92,1)" class="tk" text-anchor="middle">0.0</text>
<text transform="translate(161.7,382.2) scale(0.92,1)" class="tk" text-anchor="middle">0.4</text>
<text transform="translate(209.3,382.2) scale(0.92,1)" class="tk" text-anchor="middle">0.8</text>
<text transform="translate(28.7,229.33) scale(0.92,1)" class="tk" text-anchor="end"> 0</text><path d="M478,0 L478,1170 L140,959 L140,1180 L493,1409 L759,1409 L759,0 Z" fill="#444" stroke="#444" stroke-width="40.96" transform="translate(18.467,229.330) scale(0.004492,-0.004883)"/>
<text transform="translate(28.7,270.8) scale(0.92,1)" class="tk" text-anchor="end">0</text>
<text transform="translate(28.7,312.27) scale(0.92,1)" class="tk" text-anchor="end">- 0</text><path d="M478,0 L478,1170 L140,959 L140,1180 L493,1409 L759,1409 L759,0 Z" fill="#444" stroke="#444" stroke-width="40.96" transform="translate(18.467,312.270) scale(0.004492,-0.004883)"/>
<text transform="translate(28.7,353.74) scale(0.92,1)" class="tk" text-anchor="end">-20</text>
<text transform="translate(202.3,227) scale(0.93,1)" class="ann" text-anchor="end">r = -0.32, P < 0.00 </text><path d="M478,0 L478,1170 L140,959 L140,1180 L493,1409 L759,1409 L759,0 Z" fill="#000" transform="translate(197.955,227.000) scale(0.003814,-0.004102)"/>
<text x="119.9" y="393.9" class="ti" text-anchor="middle">Adjusted lgjuxWMH</text>
<text transform="translate(11.2,294.35) rotate(-90)" x="0" y="0" class="ti" text-anchor="middle">Adjusted MoCA</text>
<rect x="246" y="216" width="178.8" height="156.7" fill="#EBEBEB"/>
<line x1="274.05" y1="216" x2="274.05" y2="372.7" stroke="#F5F5F5" stroke-width="0.6"/>
<line x1="314.55" y1="216" x2="314.55" y2="372.7" stroke="#F5F5F5" stroke-width="0.6"/>
<line x1="355.05" y1="216" x2="355.05" y2="372.7" stroke="#F5F5F5" stroke-width="0.6"/>
<line x1="395.55" y1="216" x2="395.55" y2="372.7" stroke="#F5F5F5" stroke-width="0.6"/>
<line x1="246" y1="246.46" x2="424.8" y2="246.46" stroke="#F5F5F5" stroke-width="0.6"/>
<line x1="246" y1="287.94" x2="424.8" y2="287.94" stroke="#F5F5F5" stroke-width="0.6"/>
<line x1="246" y1="329.4" x2="424.8" y2="329.4" stroke="#F5F5F5" stroke-width="0.6"/>
<line x1="246" y1="370.88" x2="424.8" y2="370.88" stroke="#F5F5F5" stroke-width="0.6"/>
<line x1="253.8" y1="216" x2="253.8" y2="372.7" stroke="#FAFAFA" stroke-width="1"/>
<line x1="294.3" y1="216" x2="294.3" y2="372.7" stroke="#FAFAFA" stroke-width="1"/>
<line x1="334.8" y1="216" x2="334.8" y2="372.7" stroke="#FAFAFA" stroke-width="1"/>
<line x1="375.3" y1="216" x2="375.3" y2="372.7" stroke="#FAFAFA" stroke-width="1"/>
<line x1="415.8" y1="216" x2="415.8" y2="372.7" stroke="#FAFAFA" stroke-width="1"/>
<line x1="246" y1="225.73" x2="424.8" y2="225.73" stroke="#FAFAFA" stroke-width="1"/>
<line x1="246" y1="267.2" x2="424.8" y2="267.2" stroke="#FAFAFA" stroke-width="1"/>
<line x1="246" y1="308.67" x2="424.8" y2="308.67" stroke="#FAFAFA" stroke-width="1"/>
<line x1="246" y1="350.14" x2="424.8" y2="350.14" stroke="#FAFAFA" stroke-width="1"/>
<circle cx="321.47" cy="222.57" r="1.2" fill="#F8766D" fill-opacity="0.88"/>
<circle cx="334.61" cy="223.88" r="1.2" fill="#F8766D" fill-opacity="0.88"/>
<circle cx="315.03" cy="228.22" r="1.2" fill="#7CAE00" fill-opacity="0.88"/>
<circle cx="314.24" cy="230.85" r="1.2" fill="#F8766D" fill-opacity="0.88"/>
<circle cx="269.96" cy="231.37" r="1.2" fill="#00BFC4" fill-opacity="0.88"/>
<circle cx="273.91" cy="230.85" r="1.2" fill="#7CAE00" fill-opacity="0.88"/>
<circle cx="278.11" cy="234.39" r="1.2" fill="#F8766D" fill-opacity="0.88"/>
<circle cx="302.42" cy="234.13" r="1.2" fill="#F8766D" fill-opacity="0.88"/>
<circle cx="304.78" cy="233.34" r="1.2" fill="#7CAE00" fill-opacity="0.88"/>
<circle cx="287.96" cy="235.45" r="1.2" fill="#7CAE00" fill-opacity="0.88"/>
<circle cx="290.99" cy="237.28" r="1.2" fill="#00BFC4" fill-opacity="0.88"/>
<circle cx="314.64" cy="235.97" r="1.2" fill="#7CAE00" fill-opacity="0.88"/>
<circle cx="332.37" cy="231.77" r="1.2" fill="#7CAE00" fill-opacity="0.88"/>
<circle cx="314.24" cy="239.26" r="1.2" fill="#00BFC4" fill-opacity="0.88"/>
<circle cx="326.07" cy="240.7" r="1.2" fill="#7CAE00" fill-opacity="0.88"/>
<circle cx="253.93" cy="240.7" r="1.2" fill="#7CAE00" fill-opacity="0.88"/>
<circle cx="318.97" cy="241.88" r="1.2" fill="#00BFC4" fill-opacity="0.88"/>
<circle cx="316.61" cy="243.85" r="1.2" fill="#00BFC4" fill-opacity="0.88"/>
<circle cx="304.12" cy="242.93" r="1.2" fill="#F8766D" fill-opacity="0.88"/>
<circle cx="306.49" cy="243.85" r="1.2" fill="#00BFC4" fill-opacity="0.88"/>
<circle cx="308.72" cy="243.85" r="1.2" fill="#7CAE00" fill-opacity="0.88"/>
<circle cx="286.12" cy="243.72" r="1.2" fill="#00BFC4" fill-opacity="0.88"/>
<circle cx="323.83" cy="245.56" r="1.2" fill="#00BFC4" fill-opacity="0.88"/>
<circle cx="327.12" cy="245.17" r="1.2" fill="#F8766D" fill-opacity="0.88"/>
<circle cx="329.75" cy="245.56" r="1.2" fill="#7CAE00" fill-opacity="0.88"/>
<circle cx="329.09" cy="247.8" r="1.2" fill="#7CAE00" fill-opacity="0.88"/>
<circle cx="333.69" cy="245.17" r="1.2" fill="#C77CFF" fill-opacity="0.88"/>
<circle cx="274.96" cy="247.93" r="1.2" fill="#7CAE00" fill-opacity="0.88"/>
<circle cx="285.73" cy="246.61" r="1.2" fill="#7CAE00" fill-opacity="0.88"/>
<circle cx="296.24" cy="246.48" r="1.2" fill="#00BFC4" fill-opacity="0.88"/>
<circle cx="301.76" cy="246.88" r="1.2" fill="#00BFC4" fill-opacity="0.88"/>
<circle cx="305.44" cy="247.14" r="1.2" fill="#00BFC4" fill-opacity="0.88"/>
<circle cx="310.04" cy="247.53" r="1.2" fill="#7CAE00" fill-opacity="0.88"/>
<circle cx="311.35" cy="248.19" r="1.2" fill="#7CAE00" fill-opacity="0.88"/>
<circle cx="315.29" cy="246.88" r="1.2" fill="#7CAE00" fill-opacity="0.88"/>
<circle cx="319.63" cy="247.93" r="1.2" fill="#F8766D" fill-opacity="0.88"/>
<circle cx="323.18" cy="248.85" r="1.2" fill="#00BFC4" fill-opacity="0.88"/>
<circle cx="326.46" cy="246.88" r="1.2" fill="#7CAE00" fill-opacity="0.88"/>
<circle cx="289.67" cy="250.42" r="1.2" fill="#00BFC4" fill-opacity="0.88"/>
<circle cx="301.1" cy="249.9" r="1.2" fill="#7CAE00" fill-opacity="0.88"/>
<circle cx="304.12" cy="250.42" r="1.2" fill="#7CAE00" fill-opacity="0.88"/>
<circle cx="304.78" cy="252.13" r="1.2" fill="#7CAE00" fill-opacity="0.88"/>
<circle cx="310.69" cy="249.11" r="1.2" fill="#F8766D" fill-opacity="0.88"/>
<circle cx="313.06" cy="251.21" r="1.2" fill="#F8766D" fill-opacity="0.88"/>
<circle cx="322.52" cy="250.42" r="1.2" fill="#00BFC4" fill-opacity="0.88"/>
<circle cx="325.15" cy="249.9" r="1.2" fill="#7CAE00" fill-opacity="0.88"/>
<circle cx="323.18" cy="251.47" r="1.2" fill="#7CAE00" fill-opacity="0.88"/>
<circle cx="325.41" cy="251.74" r="1.2" fill="#00BFC4" fill-opacity="0.88"/>
<circle cx="327.77" cy="250.42" r="1.2" fill="#00BFC4" fill-opacity="0.88"/>
<circle cx="331.06" cy="250.82" r="1.2" fill="#7CAE00" fill-opacity="0.88"/>
<circle cx="332.77" cy="252.79" r="1.2" fill="#7CAE00" fill-opacity="0.88"/>
<circle cx="321.86" cy="252.79" r="1.2" fill="#7CAE00" fill-opacity="0.88"/>
<circle cx="308.72" cy="253.45" r="1.2" fill="#7CAE00" fill-opacity="0.88"/>
<circle cx="305.44" cy="254.1" r="1.2" fill="#7CAE00" fill-opacity="0.88"/>
<circle cx="294.01" cy="253.84" r="1.2" fill="#F8766D" fill-opacity="0.88"/>
<circle cx="286.78" cy="253.58" r="1.2" fill="#00BFC4" fill-opacity="0.88"/>
<circle cx="279.82" cy="254.37" r="1.2" fill="#7CAE00" fill-opacity="0.88"/>
<circle cx="263" cy="254.76" r="1.2" fill="#00BFC4" fill-opacity="0.88"/>
<circle cx="321.21" cy="254.76" r="1.2" fill="#F8766D" fill-opacity="0.88"/>
<circle cx="323.83" cy="254.76" r="1.2" fill="#00BFC4" fill-opacity="0.88"/>
<circle cx="327.77" cy="254.1" r="1.2" fill="#7CAE00" fill-opacity="0.88"/>
<circle cx="329.75" cy="255.15" r="1.2" fill="#00BFC4" fill-opacity="0.88"/>
<circle cx="301.5" cy="255.42" r="1.2" fill="#C77CFF" fill-opacity="0.88"/>
<circle cx="335.66" cy="224.15" r="1.2" fill="#F8766D" fill-opacity="0.88"/>
<circle cx="338.68" cy="224.93" r="1.2" fill="#F8766D" fill-opacity="0.88"/>
<circle cx="361.01" cy="233.47" r="1.2" fill="#7CAE00" fill-opacity="0.88"/>
<circle cx="358.39" cy="236.1" r="1.2" fill="#00BFC4" fill-opacity="0.88"/>
<circle cx="363.91" cy="235.97" r="1.2" fill="#7CAE00" fill-opacity="0.88"/>
<circle cx="387.56" cy="232.03" r="1.2" fill="#7CAE00" fill-opacity="0.88"/>
<circle cx="337.63" cy="240.7" r="1.2" fill="#7CAE00" fill-opacity="0.88"/>
<circle cx="337.36" cy="241.88" r="1.2" fill="#00BFC4" fill-opacity="0.88"/>
<circle cx="343.54" cy="240.7" r="1.2" fill="#C77CFF" fill-opacity="0.88"/>
<circle cx="343.15" cy="242.01" r="1.2" fill="#00BFC4" fill-opacity="0.88"/>
<circle cx="344.85" cy="243.59" r="1.2" fill="#F8766D" fill-opacity="0.88"/>
<circle cx="345.51" cy="244.25" r="1.2" fill="#7CAE00" fill-opacity="0.88"/>
<circle cx="348.8" cy="244.25" r="1.2" fill="#00BFC4" fill-opacity="0.88"/>
<circle cx="350.11" cy="244.64" r="1.2" fill="#00BFC4" fill-opacity="0.88"/>
<circle cx="351.42" cy="245.17" r="1.2" fill="#7CAE00" fill-opacity="0.88"/>
<circle cx="357.6" cy="244.64" r="1.2" fill="#00BFC4" fill-opacity="0.88"/>
<circle cx="361.67" cy="243.2" r="1.2" fill="#00BFC4" fill-opacity="0.88"/>
<circle cx="373.1" cy="244.51" r="1.2" fill="#00BFC4" fill-opacity="0.88"/>
<circle cx="375.99" cy="247.14" r="1.2" fill="#F8766D" fill-opacity="0.88"/>
<circle cx="342.23" cy="247.8" r="1.2" fill="#00BFC4" fill-opacity="0.88"/>
<circle cx="340.91" cy="249.9" r="1.2" fill="#7CAE00" fill-opacity="0.88"/>
<circle cx="346.82" cy="248.85" r="1.2" fill="#00BFC4" fill-opacity="0.88"/>
<circle cx="354.97" cy="248.85" r="1.2" fill="#7CAE00" fill-opacity="0.88"/>
<circle cx="336.31" cy="250.82" r="1.2" fill="#7CAE00" fill-opacity="0.88"/>
<circle cx="336.97" cy="252.79" r="1.2" fill="#00BFC4" fill-opacity="0.88"/>
<circle cx="343.54" cy="252.13" r="1.2" fill="#00BFC4" fill-opacity="0.88"/>
<circle cx="348.14" cy="251.21" r="1.2" fill="#00BFC4" fill-opacity="0.88"/>
<circle cx="348.8" cy="252.79" r="1.2" fill="#00BFC4" fill-opacity="0.88"/>
<circle cx="354.05" cy="251.74" r="1.2" fill="#F8766D" fill-opacity="0.88"/>
<circle cx="345.51" cy="254.1" r="1.2" fill="#7CAE00" fill-opacity="0.88"/>
<circle cx="352.74" cy="254.1" r="1.2" fill="#7CAE00" fill-opacity="0.88"/>
<circle cx="373.37" cy="254.1" r="1.2" fill="#7CAE00" fill-opacity="0.88"/>
<circle cx="384.93" cy="254.37" r="1.2" fill="#7CAE00" fill-opacity="0.88"/>
<circle cx="351.42" cy="255.42" r="1.2" fill="#00BFC4" fill-opacity="0.88"/>
<circle cx="307.41" cy="256.31" r="1.2" fill="#00BFC4" fill-opacity="0.88"/>
<circle cx="310.69" cy="256.18" r="1.2" fill="#7CAE00" fill-opacity="0.88"/>
<circle cx="316.61" cy="256.18" r="1.2" fill="#7CAE00" fill-opacity="0.88"/>
<circle cx="330.4" cy="256.18" r="1.2" fill="#00BFC4" fill-opacity="0.88"/>
<circle cx="272.85" cy="259.2" r="1.2" fill="#00BFC4" fill-opacity="0.88"/>
<circle cx="275.22" cy="257.89" r="1.2" fill="#00BFC4" fill-opacity="0.88"/>
<circle cx="288.1" cy="258.68" r="1.2" fill="#F8766D" fill-opacity="0.88"/>
<circle cx="279.82" cy="262.88" r="1.2" fill="#00BFC4" fill-opacity="0.88"/>
<circle cx="284.02" cy="260.91" r="1.2" fill="#00BFC4" fill-opacity="0.88"/>
<circle cx="297.29" cy="258.94" r="1.2" fill="#00BFC4" fill-opacity="0.88"/>
<circle cx="308.07" cy="260.52" r="1.2" fill="#00BFC4" fill-opacity="0.88"/>
<circle cx="313.32" cy="258.68" r="1.2" fill="#7CAE00" fill-opacity="0.88"/>
<circle cx="317" cy="258.94" r="1.2" fill="#00BFC4" fill-opacity="0.88"/>
<circle cx="316.61" cy="261.83" r="1.2" fill="#7CAE00" fill-opacity="0.88"/>
<circle cx="322.52" cy="260.26" r="1.2" fill="#7CAE00" fill-opacity="0.88"/>
<circle cx="326.46" cy="259.2" r="1.2" fill="#7CAE00" fill-opacity="0.88"/>
<circle cx="327.77" cy="260.26" r="1.2" fill="#7CAE00" fill-opacity="0.88"/>
<circle cx="325.8" cy="262.23" r="1.2" fill="#00BFC4" fill-opacity="0.88"/>
<circle cx="329.75" cy="257.63" r="1.2" fill="#F8766D" fill-opacity="0.88"/>
<circle cx="325.15" cy="264.2" r="1.2" fill="#7CAE00" fill-opacity="0.88"/>
<circle cx="329.09" cy="263.93" r="1.2" fill="#F8766D" fill-opacity="0.88"/>
<circle cx="331.72" cy="264.46" r="1.2" fill="#7CAE00" fill-opacity="0.88"/>
<circle cx="334.08" cy="263.93" r="1.2" fill="#7CAE00" fill-opacity="0.88"/>
<circle cx="333.69" cy="258.94" r="1.2" fill="#7CAE00" fill-opacity="0.88"/>
<circle cx="302.15" cy="264.85" r="1.2" fill="#7CAE00" fill-opacity="0.88"/>
<circle cx="291.91" cy="265.77" r="1.2" fill="#F8766D" fill-opacity="0.88"/>
<circle cx="310.04" cy="266.17" r="1.2" fill="#00BFC4" fill-opacity="0.88"/>
<circle cx="313.98" cy="266.82" r="1.2" fill="#7CAE00" fill-opacity="0.88"/>
<circle cx="315.29" cy="267.74" r="1.2" fill="#00BFC4" fill-opacity="0.88"/>
<circle cx="312.01" cy="268.8" r="1.2" fill="#00BFC4" fill-opacity="0.88"/>
<circle cx="313.06" cy="270.11" r="1.2" fill="#F8766D" fill-opacity="0.88"/>
<circle cx="319.89" cy="268.8" r="1.2" fill="#7CAE00" fill-opacity="0.88"/>
<circle cx="287.04" cy="269.45" r="1.2" fill="#00BFC4" fill-opacity="0.88"/>
<circle cx="293.35" cy="268.53" r="1.2" fill="#00BFC4" fill-opacity="0.88"/>
<circle cx="295.58" cy="269.85" r="1.2" fill="#00BFC4" fill-opacity="0.88"/>
<circle cx="306.75" cy="269.85" r="1.2" fill="#7CAE00" fill-opacity="0.88"/>
<circle cx="308.07" cy="269.85" r="1.2" fill="#7CAE00" fill-opacity="0.88"/>
<circle cx="322.13" cy="271.03" r="1.2" fill="#C77CFF" fill-opacity="0.88"/>
<circle cx="327.77" cy="270.5" r="1.2" fill="#7CAE00" fill-opacity="0.88"/>
<circle cx="329.09" cy="269.72" r="1.2" fill="#F8766D" fill-opacity="0.88"/>
<circle cx="329.75" cy="271.82" r="1.2" fill="#00BFC4" fill-opacity="0.88"/>
<circle cx="326.2" cy="272.74" r="1.2" fill="#7CAE00" fill-opacity="0.88"/>
<circle cx="332.77" cy="272.08" r="1.2" fill="#00BFC4" fill-opacity="0.88"/>
<circle cx="333.29" cy="273.39" r="1.2" fill="#F8766D" fill-opacity="0.88"/>
<circle cx="289.28" cy="276.02" r="1.2" fill="#00BFC4" fill-opacity="0.88"/>
<circle cx="298.61" cy="275.76" r="1.2" fill="#00BFC4" fill-opacity="0.88"/>
<circle cx="300.18" cy="274.71" r="1.2" fill="#00BFC4" fill-opacity="0.88"/>
<circle cx="301.23" cy="275.76" r="1.2" fill="#C77CFF" fill-opacity="0.88"/>
<circle cx="304.52" cy="277.34" r="1.2" fill="#7CAE00" fill-opacity="0.88"/>
<circle cx="312.27" cy="278.65" r="1.2" fill="#00BFC4" fill-opacity="0.88"/>
<circle cx="319.89" cy="277.99" r="1.2" fill="#00BFC4" fill-opacity="0.88"/>
<circle cx="322.78" cy="276.28" r="1.2" fill="#00BFC4" fill-opacity="0.88"/>
<circle cx="262.08" cy="282.99" r="1.2" fill="#00BFC4" fill-opacity="0.88"/>
<circle cx="315.95" cy="283.64" r="1.2" fill="#00BFC4" fill-opacity="0.88"/>
<circle cx="317" cy="283.64" r="1.2" fill="#00BFC4" fill-opacity="0.88"/>
<circle cx="310.3" cy="285.22" r="1.2" fill="#00BFC4" fill-opacity="0.88"/>
<circle cx="309.64" cy="288.5" r="1.2" fill="#00BFC4" fill-opacity="0.88"/>
<circle cx="321.86" cy="284.96" r="1.2" fill="#00BFC4" fill-opacity="0.88"/>
<circle cx="323.44" cy="287.19" r="1.2" fill="#00BFC4" fill-opacity="0.88"/>
<circle cx="329.35" cy="285.88" r="1.2" fill="#00BFC4" fill-opacity="0.88"/>
<circle cx="330.14" cy="287.58" r="1.2" fill="#00BFC4" fill-opacity="0.88"/>
<circle cx="337.63" cy="257.36" r="1.2" fill="#7CAE00" fill-opacity="0.88"/>
<circle cx="335.66" cy="256.97" r="1.2" fill="#00BFC4" fill-opacity="0.88"/>
<circle cx="336.97" cy="259.6" r="1.2" fill="#00BFC4" fill-opacity="0.88"/>
<circle cx="340.91" cy="259.99" r="1.2" fill="#F8766D" fill-opacity="0.88"/>
<circle cx="342.88" cy="260.91" r="1.2" fill="#7CAE00" fill-opacity="0.88"/>
<circle cx="342.23" cy="261.83" r="1.2" fill="#00BFC4" fill-opacity="0.88"/>
<circle cx="345.51" cy="258.94" r="1.2" fill="#F8766D" fill-opacity="0.88"/>
<circle cx="348.14" cy="260.26" r="1.2" fill="#00BFC4" fill-opacity="0.88"/>
<circle cx="350.5" cy="259.99" r="1.2" fill="#F8766D" fill-opacity="0.88"/>
<circle cx="351.82" cy="256.58" r="1.2" fill="#00BFC4" fill-opacity="0.88"/>
<circle cx="354.97" cy="256.84" r="1.2" fill="#F8766D" fill-opacity="0.88"/>
<circle cx="349.19" cy="263.15" r="1.2" fill="#F8766D" fill-opacity="0.88"/>
<circle cx="355.76" cy="262.62" r="1.2" fill="#7CAE00" fill-opacity="0.88"/>
<circle cx="357.99" cy="262.23" r="1.2" fill="#00BFC4" fill-opacity="0.88"/>
<circle cx="360.36" cy="259.2" r="1.2" fill="#7CAE00" fill-opacity="0.88"/>
<circle cx="362.85" cy="259.99" r="1.2" fill="#F8766D" fill-opacity="0.88"/>
<circle cx="363.25" cy="260.91" r="1.2" fill="#7CAE00" fill-opacity="0.88"/>
<circle cx="364.96" cy="257.89" r="1.2" fill="#7CAE00" fill-opacity="0.88"/>
<circle cx="366.8" cy="258.28" r="1.2" fill="#00BFC4" fill-opacity="0.88"/>
<circle cx="367.19" cy="260.52" r="1.2" fill="#7CAE00" fill-opacity="0.88"/>
<circle cx="369.82" cy="261.18" r="1.2" fill="#00BFC4" fill-opacity="0.88"/>
<circle cx="361.28" cy="263.93" r="1.2" fill="#00BFC4" fill-opacity="0.88"/>
<circle cx="376.65" cy="258.68" r="1.2" fill="#00BFC4" fill-opacity="0.88"/>
<circle cx="381.64" cy="259.99" r="1.2" fill="#7CAE00" fill-opacity="0.88"/>
<circle cx="383.88" cy="262.88" r="1.2" fill="#00BFC4" fill-opacity="0.88"/>
<circle cx="345.91" cy="265.25" r="1.2" fill="#7CAE00" fill-opacity="0.88"/>
<circle cx="354.05" cy="266.56" r="1.2" fill="#7CAE00" fill-opacity="0.88"/>
<circle cx="357.07" cy="266.56" r="1.2" fill="#C77CFF" fill-opacity="0.88"/>
<circle cx="360.62" cy="267.09" r="1.2" fill="#C77CFF" fill-opacity="0.88"/>
<circle cx="361.67" cy="267.88" r="1.2" fill="#C77CFF" fill-opacity="0.88"/>
<circle cx="359.96" cy="269.72" r="1.2" fill="#F8766D" fill-opacity="0.88"/>
<circle cx="359.31" cy="270.77" r="1.2" fill="#7CAE00" fill-opacity="0.88"/>
<circle cx="361.28" cy="271.03" r="1.2" fill="#00BFC4" fill-opacity="0.88"/>
<circle cx="356.42" cy="268.8" r="1.2" fill="#7CAE00" fill-opacity="0.88"/>
<circle cx="348.8" cy="268.14" r="1.2" fill="#7CAE00" fill-opacity="0.88"/>
<circle cx="349.72" cy="266.56" r="1.2" fill="#00BFC4" fill-opacity="0.88"/>
<circle cx="340.91" cy="267.48" r="1.2" fill="#00BFC4" fill-opacity="0.88"/>
<circle cx="336.97" cy="269.72" r="1.2" fill="#00BFC4" fill-opacity="0.88"/>
<circle cx="340.91" cy="270.77" r="1.2" fill="#7CAE00" fill-opacity="0.88"/>
<circle cx="342.23" cy="273.13" r="1.2" fill="#7CAE00" fill-opacity="0.88"/>
<circle cx="343.54" cy="269.72" r="1.2" fill="#00BFC4" fill-opacity="0.88"/>
<circle cx="347.48" cy="270.5" r="1.2" fill="#00BFC4" fill-opacity="0.88"/>
<circle cx="369.82" cy="266.82" r="1.2" fill="#7CAE00" fill-opacity="0.88"/>
<circle cx="372.45" cy="268.53" r="1.2" fill="#00BFC4" fill-opacity="0.88"/>
<circle cx="379.93" cy="266.82" r="1.2" fill="#7CAE00" fill-opacity="0.88"/>
<circle cx="387.95" cy="267.88" r="1.2" fill="#00BFC4" fill-opacity="0.88"/>
<circle cx="382.56" cy="270.11" r="1.2" fill="#00BFC4" fill-opacity="0.88"/>
<circle cx="365.22" cy="272.74" r="1.2" fill="#00BFC4" fill-opacity="0.88"/>
<circle cx="367.19" cy="273.39" r="1.2" fill="#00BFC4" fill-opacity="0.88"/>
<circle cx="378.36" cy="274.71" r="1.2" fill="#00BFC4" fill-opacity="0.88"/>
<circle cx="383.88" cy="274.71" r="1.2" fill="#00BFC4" fill-opacity="0.88"/>
<circle cx="402.67" cy="273.66" r="1.2" fill="#00BFC4" fill-opacity="0.88"/>
<circle cx="416.72" cy="275.63" r="1.2" fill="#00BFC4" fill-opacity="0.88"/>
<circle cx="351.82" cy="275.63" r="1.2" fill="#7CAE00" fill-opacity="0.88"/>
<circle cx="360.62" cy="276.68" r="1.2" fill="#00BFC4" fill-opacity="0.88"/>
<circle cx="361.67" cy="277.99" r="1.2" fill="#00BFC4" fill-opacity="0.88"/>
<circle cx="368.11" cy="277.99" r="1.2" fill="#00BFC4" fill-opacity="0.88"/>
<circle cx="371.79" cy="279.04" r="1.2" fill="#C77CFF" fill-opacity="0.88"/>
<circle cx="336.31" cy="279.7" r="1.2" fill="#00BFC4" fill-opacity="0.88"/>
<circle cx="344.85" cy="279.7" r="1.2" fill="#00BFC4" fill-opacity="0.88"/>
<circle cx="346.17" cy="281.01" r="1.2" fill="#00BFC4" fill-opacity="0.88"/>
<circle cx="351.82" cy="279.7" r="1.2" fill="#00BFC4" fill-opacity="0.88"/>
<circle cx="367.58" cy="280.62" r="1.2" fill="#C77CFF" fill-opacity="0.88"/>
<circle cx="352.74" cy="282.85" r="1.2" fill="#7CAE00" fill-opacity="0.88"/>
<circle cx="346.82" cy="287.58" r="1.2" fill="#7CAE00" fill-opacity="0.88"/>
<circle cx="355.76" cy="286.8" r="1.2" fill="#7CAE00" fill-opacity="0.88"/>
<circle cx="363.91" cy="286.8" r="1.2" fill="#00BFC4" fill-opacity="0.88"/>
<circle cx="365.48" cy="285.88" r="1.2" fill="#00BFC4" fill-opacity="0.88"/>
<circle cx="366.8" cy="284.96" r="1.2" fill="#00BFC4" fill-opacity="0.88"/>
<circle cx="370.74" cy="288.24" r="1.2" fill="#F8766D" fill-opacity="0.88"/>
<circle cx="382.96" cy="287.19" r="1.2" fill="#C77CFF" fill-opacity="0.88"/>
<circle cx="391.5" cy="287.85" r="1.2" fill="#C77CFF" fill-opacity="0.88"/>
<circle cx="348.8" cy="291.79" r="1.2" fill="#C77CFF" fill-opacity="0.88"/>
<circle cx="354.71" cy="292.45" r="1.2" fill="#00BFC4" fill-opacity="0.88"/>
<circle cx="340.26" cy="294.15" r="1.2" fill="#00BFC4" fill-opacity="0.88"/>
<circle cx="350.11" cy="294.15" r="1.2" fill="#00BFC4" fill-opacity="0.88"/>
<circle cx="371.79" cy="294.42" r="1.2" fill="#C77CFF" fill-opacity="0.88"/>
<circle cx="291.24" cy="297.88" r="1.2" fill="#00BFC4" fill-opacity="0.88"/>
<circle cx="297.81" cy="303.66" r="1.2" fill="#C77CFF" fill-opacity="0.88"/>
<circle cx="320.93" cy="301.3" r="1.2" fill="#00BFC4" fill-opacity="0.88"/>
<circle cx="319.09" cy="309.18" r="1.2" fill="#00BFC4" fill-opacity="0.88"/>
<circle cx="323.03" cy="308.39" r="1.2" fill="#C77CFF" fill-opacity="0.88"/>
<circle cx="325.4" cy="307.6" r="1.2" fill="#00BFC4" fill-opacity="0.88"/>
<circle cx="331.18" cy="311.54" r="1.2" fill="#00BFC4" fill-opacity="0.88"/>
<circle cx="317.25" cy="314.7" r="1.2" fill="#C77CFF" fill-opacity="0.88"/>
<circle cx="325.14" cy="318.9" r="1.2" fill="#00BFC4" fill-opacity="0.88"/>
<circle cx="328.55" cy="325.47" r="1.2" fill="#C77CFF" fill-opacity="0.88"/>
<circle cx="330.65" cy="329.41" r="1.2" fill="#00BFC4" fill-opacity="0.88"/>
<circle cx="301.75" cy="329.41" r="1.2" fill="#C77CFF" fill-opacity="0.88"/>
<circle cx="329.34" cy="340.97" r="1.2" fill="#C77CFF" fill-opacity="0.88"/>
<circle cx="324.87" cy="365.67" r="1.2" fill="#C77CFF" fill-opacity="0.88"/>
<circle cx="343.79" cy="295.78" r="1.2" fill="#C77CFF" fill-opacity="0.88"/>
<circle cx="356.93" cy="297.88" r="1.2" fill="#C77CFF" fill-opacity="0.88"/>
<circle cx="349.57" cy="303.66" r="1.2" fill="#00BFC4" fill-opacity="0.88"/>
<circle cx="353.51" cy="303.66" r="1.2" fill="#00BFC4" fill-opacity="0.88"/>
<circle cx="341.69" cy="312.86" r="1.2" fill="#C77CFF" fill-opacity="0.88"/>
<circle cx="345.11" cy="317.85" r="1.2" fill="#C77CFF" fill-opacity="0.88"/>
<circle cx="342.48" cy="323.11" r="1.2" fill="#C77CFF" fill-opacity="0.88"/>
<circle cx="364.02" cy="312.86" r="1.2" fill="#00BFC4" fill-opacity="0.88"/>
<circle cx="373.22" cy="297.88" r="1.2" fill="#C77CFF" fill-opacity="0.88"/>
<circle cx="379" cy="301.04" r="1.2" fill="#00BFC4" fill-opacity="0.88"/>
<circle cx="379" cy="306.82" r="1.2" fill="#C77CFF" fill-opacity="0.88"/>
<circle cx="376.11" cy="311.28" r="1.2" fill="#C77CFF" fill-opacity="0.88"/>
<circle cx="374.01" cy="314.17" r="1.2" fill="#C77CFF" fill-opacity="0.88"/>
<circle cx="388.98" cy="303.4" r="1.2" fill="#00BFC4" fill-opacity="0.88"/>
<circle cx="401.86" cy="296.83" r="1.2" fill="#C77CFF" fill-opacity="0.88"/>
<circle cx="369.01" cy="324.68" r="1.2" fill="#C77CFF" fill-opacity="0.88"/>
<circle cx="361.4" cy="329.67" r="1.2" fill="#C77CFF" fill-opacity="0.88"/>
<circle cx="366.12" cy="336.24" r="1.2" fill="#C77CFF" fill-opacity="0.88"/>
<circle cx="348.52" cy="339.13" r="1.2" fill="#C77CFF" fill-opacity="0.88"/>
<circle cx="355.35" cy="340.97" r="1.2" fill="#C77CFF" fill-opacity="0.88"/>
<circle cx="347.21" cy="345.96" r="1.2" fill="#C77CFF" fill-opacity="0.88"/>
<path d="M254.1,242.4 L258.17,243.62 L262.24,244.83 L266.31,246.04 L270.38,247.25 L274.45,248.46 L278.52,249.66 L282.59,250.85 L286.66,252.04 L290.73,253.22 L294.8,254.39 L298.87,255.55 L302.94,256.7 L307.01,257.83 L311.08,258.93 L315.15,260.01 L319.22,261.05 L323.29,262.05 L327.36,263 L331.43,263.9 L335.5,264.74 L339.57,265.52 L343.64,266.24 L347.71,266.92 L351.78,267.56 L355.85,268.17 L359.92,268.75 L363.99,269.31 L368.06,269.85 L372.13,270.38 L376.2,270.9 L380.27,271.42 L384.34,271.92 L388.41,272.42 L392.48,272.91 L396.55,273.4 L400.62,273.88 L404.69,274.37 L408.76,274.85 L412.83,275.32 L416.9,275.8 L416.9,292.8 L412.83,291.58 L408.76,290.36 L404.69,289.15 L400.62,287.94 L396.55,286.73 L392.48,285.52 L388.41,284.32 L384.34,283.12 L380.27,281.93 L376.2,280.75 L372.13,279.57 L368.06,278.41 L363.99,277.26 L359.92,276.12 L355.85,275.01 L351.78,273.92 L347.71,272.86 L343.64,271.85 L339.57,270.88 L335.5,269.96 L331.43,269.11 L327.36,268.31 L323.29,267.56 L319.22,266.87 L315.15,266.22 L311.08,265.6 L307.01,265.01 L302.94,264.44 L298.87,263.89 L294.8,263.36 L290.73,262.83 L286.66,262.32 L282.59,261.81 L278.52,261.31 L274.45,260.82 L270.38,260.33 L266.31,259.84 L262.24,259.36 L258.17,258.88 L254.1,258.4 Z" fill="#999999" fill-opacity="0.4"/>
<line x1="254.1" y1="250.5" x2="416.9" y2="284.6" stroke="#3366FF" stroke-width="1.1"/>
<line x1="253.8" y1="372.7" x2="253.8" y2="374.1" stroke="#333" stroke-width="0.6"/>
<line x1="294.3" y1="372.7" x2="294.3" y2="374.1" stroke="#333" stroke-width="0.6"/>
<line x1="334.8" y1="372.7" x2="334.8" y2="374.1" stroke="#333" stroke-width="0.6"/>
<line x1="375.3" y1="372.7" x2="375.3" y2="374.1" stroke="#333" stroke-width="0.6"/>
<line x1="415.8" y1="372.7" x2="415.8" y2="374.1" stroke="#333" stroke-width="0.6"/>
<line x1="244.6" y1="225.73" x2="246" y2="225.73" stroke="#333" stroke-width="0.6"/>
<line x1="244.6" y1="267.2" x2="246" y2="267.2" stroke="#333" stroke-width="0.6"/>
<line x1="244.6" y1="308.67" x2="246" y2="308.67" stroke="#333" stroke-width="0.6"/>
<line x1="244.6" y1="350.14" x2="246" y2="350.14" stroke="#333" stroke-width="0.6"/>
<text transform="translate(253.8,382.2) scale(0.92,1)" class="tk" text-anchor="middle">-2</text>
<text transform="translate(294.3,382.2) scale(0.92,1)" class="tk" text-anchor="middle">- </text><path d="M478,0 L478,1170 L140,959 L140,1180 L493,1409 L759,1409 L759,0 Z" fill="#444" stroke="#444" stroke-width="40.96" transform="translate(293.274,382.200) scale(0.004492,-0.004883)"/>
<text transform="translate(334.8,382.2) scale(0.92,1)" class="tk" text-anchor="middle">0</text>
<text transform="translate(375.3,382.2) scale(0.92,1)" class="tk" text-anchor="middle"> </text><path d="M478,0 L478,1170 L140,959 L140,1180 L493,1409 L759,1409 L759,0 Z" fill="#444" stroke="#444" stroke-width="40.96" transform="translate(372.742,382.200) scale(0.004492,-0.004883)"/>
<text transform="translate(415.8,382.2) scale(0.92,1)" class="tk" text-anchor="middle">2</text>
<text transform="translate(244,229.33) scale(0.92,1)" class="tk" text-anchor="end"> 0</text><path d="M478,0 L478,1170 L140,959 L140,1180 L493,1409 L759,1409 L759,0 Z" fill="#444" stroke="#444" stroke-width="40.96" transform="translate(233.767,229.330) scale(0.004492,-0.004883)"/>
<text transform="translate(244,270.8) scale(0.92,1)" class="tk" text-anchor="end">0</text>
<text transform="translate(244,312.27) scale(0.92,1)" class="tk" text-anchor="end">- 0</text><path d="M478,0 L478,1170 L140,959 L140,1180 L493,1409 L759,1409 L759,0 Z" fill="#444" stroke="#444" stroke-width="40.96" transform="translate(233.767,312.270) scale(0.004492,-0.004883)"/>
<text transform="translate(244,353.74) scale(0.92,1)" class="tk" text-anchor="end">-20</text>
<text transform="translate(418,227) scale(0.93,1)" class="ann" text-anchor="end">r = -0.25, P < 0.00 </text><path d="M478,0 L478,1170 L140,959 L140,1180 L493,1409 L759,1409 L759,0 Z" fill="#000" transform="translate(413.655,227.000) scale(0.003814,-0.004102)"/>
<text x="335.4" y="393.9" class="ti" text-anchor="middle">Adjusted lgpWMH</text>
<text transform="translate(226.5,294.35) rotate(-90)" x="0" y="0" class="ti" text-anchor="middle">Adjusted MoCA</text>
<rect x="463.1" y="216.2" width="178.7" height="157.6" fill="#EBEBEB"/>
<line x1="503.25" y1="216.2" x2="503.25" y2="373.8" stroke="#F5F5F5" stroke-width="0.6"/>
<line x1="548.68" y1="216.2" x2="548.68" y2="373.8" stroke="#F5F5F5" stroke-width="0.6"/>
<line x1="594.12" y1="216.2" x2="594.12" y2="373.8" stroke="#F5F5F5" stroke-width="0.6"/>
<line x1="639.54" y1="216.2" x2="639.54" y2="373.8" stroke="#F5F5F5" stroke-width="0.6"/>
<line x1="463.1" y1="246.62" x2="641.8" y2="246.62" stroke="#F5F5F5" stroke-width="0.6"/>
<line x1="463.1" y1="288.17" x2="641.8" y2="288.17" stroke="#F5F5F5" stroke-width="0.6"/>
<line x1="463.1" y1="329.72" x2="641.8" y2="329.72" stroke="#F5F5F5" stroke-width="0.6"/>
<line x1="463.1" y1="371.27" x2="641.8" y2="371.27" stroke="#F5F5F5" stroke-width="0.6"/>
<line x1="480.54" y1="216.2" x2="480.54" y2="373.8" stroke="#FAFAFA" stroke-width="1"/>
<line x1="525.97" y1="216.2" x2="525.97" y2="373.8" stroke="#FAFAFA" stroke-width="1"/>
<line x1="571.4" y1="216.2" x2="571.4" y2="373.8" stroke="#FAFAFA" stroke-width="1"/>
<line x1="616.83" y1="216.2" x2="616.83" y2="373.8" stroke="#FAFAFA" stroke-width="1"/>
<line x1="463.1" y1="225.85" x2="641.8" y2="225.85" stroke="#FAFAFA" stroke-width="1"/>
<line x1="463.1" y1="267.4" x2="641.8" y2="267.4" stroke="#FAFAFA" stroke-width="1"/>
<line x1="463.1" y1="308.95" x2="641.8" y2="308.95" stroke="#FAFAFA" stroke-width="1"/>
<line x1="463.1" y1="350.5" x2="641.8" y2="350.5" stroke="#FAFAFA" stroke-width="1"/>
<circle cx="536.89" cy="222.83" r="1.2" fill="#F8766D" fill-opacity="0.88"/>
<circle cx="522.04" cy="234.66" r="1.2" fill="#F8766D" fill-opacity="0.88"/>
<circle cx="535.97" cy="240.96" r="1.2" fill="#7CAE00" fill-opacity="0.88"/>
<circle cx="538.86" cy="245.83" r="1.2" fill="#F8766D" fill-opacity="0.88"/>
<circle cx="542.15" cy="246.88" r="1.2" fill="#7CAE00" fill-opacity="0.88"/>
<circle cx="544.51" cy="245.17" r="1.2" fill="#7CAE00" fill-opacity="0.88"/>
<circle cx="547.4" cy="245.83" r="1.2" fill="#7CAE00" fill-opacity="0.88"/>
<circle cx="510.88" cy="245.96" r="1.2" fill="#00BFC4" fill-opacity="0.88"/>
<circle cx="519.55" cy="248.85" r="1.2" fill="#00BFC4" fill-opacity="0.88"/>
<circle cx="521.12" cy="249.9" r="1.2" fill="#7CAE00" fill-opacity="0.88"/>
<circle cx="528.75" cy="247.14" r="1.2" fill="#00BFC4" fill-opacity="0.88"/>
<circle cx="529.67" cy="251.87" r="1.2" fill="#00BFC4" fill-opacity="0.88"/>
<circle cx="521.78" cy="253.84" r="1.2" fill="#F8766D" fill-opacity="0.88"/>
<circle cx="548.45" cy="250.82" r="1.2" fill="#00BFC4" fill-opacity="0.88"/>
<circle cx="543.72" cy="253.84" r="1.2" fill="#00BFC4" fill-opacity="0.88"/>
<circle cx="548.72" cy="255.15" r="1.2" fill="#00BFC4" fill-opacity="0.88"/>
<circle cx="551.34" cy="251.74" r="1.2" fill="#00BFC4" fill-opacity="0.88"/>
<circle cx="536.89" cy="255.42" r="1.2" fill="#C77CFF" fill-opacity="0.88"/>
<circle cx="568.42" cy="224.93" r="1.2" fill="#F8766D" fill-opacity="0.88"/>
<circle cx="554.36" cy="228.48" r="1.2" fill="#7CAE00" fill-opacity="0.88"/>
<circle cx="563.82" cy="230.85" r="1.2" fill="#F8766D" fill-opacity="0.88"/>
<circle cx="556.99" cy="233.74" r="1.2" fill="#7CAE00" fill-opacity="0.88"/>
<circle cx="560.54" cy="235.71" r="1.2" fill="#7CAE00" fill-opacity="0.88"/>
<circle cx="568.82" cy="235.97" r="1.2" fill="#7CAE00" fill-opacity="0.88"/>
<circle cx="571.71" cy="234.79" r="1.2" fill="#F8766D" fill-opacity="0.88"/>
<circle cx="575.91" cy="233.74" r="1.2" fill="#7CAE00" fill-opacity="0.88"/>
<circle cx="576.31" cy="236.37" r="1.2" fill="#00BFC4" fill-opacity="0.88"/>
<circle cx="579.33" cy="231.5" r="1.2" fill="#00BFC4" fill-opacity="0.88"/>
<circle cx="592.07" cy="232.03" r="1.2" fill="#7CAE00" fill-opacity="0.88"/>
<circle cx="594.04" cy="232.42" r="1.2" fill="#7CAE00" fill-opacity="0.88"/>
<circle cx="592.99" cy="236.1" r="1.2" fill="#7CAE00" fill-opacity="0.88"/>
<circle cx="556.6" cy="237.28" r="1.2" fill="#00BFC4" fill-opacity="0.88"/>
<circle cx="566.06" cy="240.7" r="1.2" fill="#7CAE00" fill-opacity="0.88"/>
<circle cx="580.25" cy="239.65" r="1.2" fill="#00BFC4" fill-opacity="0.88"/>
<circle cx="582.88" cy="240.96" r="1.2" fill="#7CAE00" fill-opacity="0.88"/>
<circle cx="588.53" cy="241.62" r="1.2" fill="#C77CFF" fill-opacity="0.88"/>
<circle cx="574.07" cy="241.62" r="1.2" fill="#00BFC4" fill-opacity="0.88"/>
<circle cx="559.88" cy="242.28" r="1.2" fill="#00BFC4" fill-opacity="0.88"/>
<circle cx="557.91" cy="243.33" r="1.2" fill="#F8766D" fill-opacity="0.88"/>
<circle cx="563.56" cy="244.25" r="1.2" fill="#00BFC4" fill-opacity="0.88"/>
<circle cx="571.05" cy="243.99" r="1.2" fill="#00BFC4" fill-opacity="0.88"/>
<circle cx="574.07" cy="243.85" r="1.2" fill="#F8766D" fill-opacity="0.88"/>
<circle cx="578.28" cy="244.64" r="1.2" fill="#00BFC4" fill-opacity="0.88"/>
<circle cx="580.64" cy="243.99" r="1.2" fill="#7CAE00" fill-opacity="0.88"/>
<circle cx="601.27" cy="243.99" r="1.2" fill="#00BFC4" fill-opacity="0.88"/>
<circle cx="600.61" cy="244.91" r="1.2" fill="#00BFC4" fill-opacity="0.88"/>
<circle cx="556.6" cy="245.56" r="1.2" fill="#C77CFF" fill-opacity="0.88"/>
<circle cx="557.26" cy="247.27" r="1.2" fill="#7CAE00" fill-opacity="0.88"/>
<circle cx="561.2" cy="246.88" r="1.2" fill="#7CAE00" fill-opacity="0.88"/>
<circle cx="567.5" cy="246.88" r="1.2" fill="#00BFC4" fill-opacity="0.88"/>
<circle cx="573.02" cy="245.96" r="1.2" fill="#00BFC4" fill-opacity="0.88"/>
<circle cx="574.99" cy="247.53" r="1.2" fill="#7CAE00" fill-opacity="0.88"/>
<circle cx="578.01" cy="247.27" r="1.2" fill="#F8766D" fill-opacity="0.88"/>
<circle cx="552.66" cy="247.53" r="1.2" fill="#00BFC4" fill-opacity="0.88"/>
<circle cx="559.23" cy="248.85" r="1.2" fill="#00BFC4" fill-opacity="0.88"/>
<circle cx="563.82" cy="248.19" r="1.2" fill="#7CAE00" fill-opacity="0.88"/>
<circle cx="569.08" cy="249.9" r="1.2" fill="#7CAE00" fill-opacity="0.88"/>
<circle cx="572.76" cy="249.11" r="1.2" fill="#F8766D" fill-opacity="0.88"/>
<circle cx="571.71" cy="250.42" r="1.2" fill="#7CAE00" fill-opacity="0.88"/>
<circle cx="576.31" cy="250.42" r="1.2" fill="#7CAE00" fill-opacity="0.88"/>
<circle cx="579.59" cy="251.74" r="1.2" fill="#00BFC4" fill-opacity="0.88"/>
<circle cx="582.88" cy="250.42" r="1.2" fill="#00BFC4" fill-opacity="0.88"/>
<circle cx="586.82" cy="250.42" r="1.2" fill="#7CAE00" fill-opacity="0.88"/>
<circle cx="553.31" cy="252.13" r="1.2" fill="#00BFC4" fill-opacity="0.88"/>
<circle cx="561.85" cy="251.47" r="1.2" fill="#F8766D" fill-opacity="0.88"/>
<circle cx="566.45" cy="250.82" r="1.2" fill="#7CAE00" fill-opacity="0.88"/>
<circle cx="567.77" cy="251.74" r="1.2" fill="#7CAE00" fill-opacity="0.88"/>
<circle cx="565.14" cy="253.45" r="1.2" fill="#7CAE00" fill-opacity="0.88"/>
<circle cx="570.39" cy="253.05" r="1.2" fill="#00BFC4" fill-opacity="0.88"/>
<circle cx="576.96" cy="252.13" r="1.2" fill="#7CAE00" fill-opacity="0.88"/>
<circle cx="581.56" cy="252.79" r="1.2" fill="#7CAE00" fill-opacity="0.88"/>
<circle cx="553.97" cy="254.1" r="1.2" fill="#7CAE00" fill-opacity="0.88"/>
<circle cx="558.57" cy="255.15" r="1.2" fill="#7CAE00" fill-opacity="0.88"/>
<circle cx="562.51" cy="254.76" r="1.2" fill="#00BFC4" fill-opacity="0.88"/>
<circle cx="568.42" cy="254.37" r="1.2" fill="#F8766D" fill-opacity="0.88"/>
<circle cx="573.02" cy="254.76" r="1.2" fill="#F8766D" fill-opacity="0.88"/>
<circle cx="578.28" cy="254.1" r="1.2" fill="#00BFC4" fill-opacity="0.88"/>
<circle cx="586.16" cy="254.1" r="1.2" fill="#00BFC4" fill-opacity="0.88"/>
<circle cx="594.04" cy="254.76" r="1.2" fill="#7CAE00" fill-opacity="0.88"/>
<circle cx="595.36" cy="254.37" r="1.2" fill="#7CAE00" fill-opacity="0.88"/>
<circle cx="536.89" cy="257.89" r="1.2" fill="#7CAE00" fill-opacity="0.88"/>
<circle cx="550.69" cy="256.31" r="1.2" fill="#7CAE00" fill-opacity="0.88"/>
<circle cx="548.06" cy="259.99" r="1.2" fill="#7CAE00" fill-opacity="0.88"/>
<circle cx="542.8" cy="262.88" r="1.2" fill="#7CAE00" fill-opacity="0.88"/>
<circle cx="546.09" cy="264.85" r="1.2" fill="#7CAE00" fill-opacity="0.88"/>
<circle cx="544.12" cy="267.09" r="1.2" fill="#00BFC4" fill-opacity="0.88"/>
<circle cx="542.15" cy="269.19" r="1.2" fill="#00BFC4" fill-opacity="0.88"/>
<circle cx="470.93" cy="260.91" r="1.2" fill="#00BFC4" fill-opacity="0.88"/>
<circle cx="527.96" cy="265.77" r="1.2" fill="#F8766D" fill-opacity="0.88"/>
<circle cx="491.3" cy="268.93" r="1.2" fill="#7CAE00" fill-opacity="0.88"/>
<circle cx="536.89" cy="271.03" r="1.2" fill="#C77CFF" fill-opacity="0.88"/>
<circle cx="545.83" cy="270.11" r="1.2" fill="#7CAE00" fill-opacity="0.88"/>
<circle cx="547.14" cy="270.5" r="1.2" fill="#00BFC4" fill-opacity="0.88"/>
<circle cx="518.76" cy="276.68" r="1.2" fill="#00BFC4" fill-opacity="0.88"/>
<circle cx="522.83" cy="278.91" r="1.2" fill="#00BFC4" fill-opacity="0.88"/>
<circle cx="534.92" cy="276.28" r="1.2" fill="#00BFC4" fill-opacity="0.88"/>
<circle cx="544.12" cy="276.42" r="1.2" fill="#00BFC4" fill-opacity="0.88"/>
<circle cx="532.56" cy="283.25" r="1.2" fill="#00BFC4" fill-opacity="0.88"/>
<circle cx="538.86" cy="287.58" r="1.2" fill="#00BFC4" fill-opacity="0.88"/>
<circle cx="525.07" cy="288.77" r="1.2" fill="#00BFC4" fill-opacity="0.88"/>
<circle cx="559.88" cy="256.58" r="1.2" fill="#F8766D" fill-opacity="0.88"/>
<circle cx="561.85" cy="256.97" r="1.2" fill="#7CAE00" fill-opacity="0.88"/>
<circle cx="565.14" cy="258.94" r="1.2" fill="#F8766D" fill-opacity="0.88"/>
<circle cx="576.96" cy="256.31" r="1.2" fill="#7CAE00" fill-opacity="0.88"/>
<circle cx="578.01" cy="258.28" r="1.2" fill="#F8766D" fill-opacity="0.88"/>
<circle cx="576.31" cy="260.26" r="1.2" fill="#F8766D" fill-opacity="0.88"/>
<circle cx="575.65" cy="262.23" r="1.2" fill="#7CAE00" fill-opacity="0.88"/>
<circle cx="580.25" cy="263.93" r="1.2" fill="#F8766D" fill-opacity="0.88"/>
<circle cx="571.71" cy="258.68" r="1.2" fill="#00BFC4" fill-opacity="0.88"/>
<circle cx="573.02" cy="261.57" r="1.2" fill="#00BFC4" fill-opacity="0.88"/>
<circle cx="569.08" cy="262.23" r="1.2" fill="#00BFC4" fill-opacity="0.88"/>
<circle cx="568.42" cy="264.2" r="1.2" fill="#00BFC4" fill-opacity="0.88"/>
<circle cx="563.82" cy="260.26" r="1.2" fill="#00BFC4" fill-opacity="0.88"/>
<circle cx="565.14" cy="261.57" r="1.2" fill="#00BFC4" fill-opacity="0.88"/>
<circle cx="559.23" cy="260.26" r="1.2" fill="#7CAE00" fill-opacity="0.88"/>
<circle cx="561.2" cy="260.26" r="1.2" fill="#7CAE00" fill-opacity="0.88"/>
<circle cx="552.66" cy="260.26" r="1.2" fill="#F8766D" fill-opacity="0.88"/>
<circle cx="552.66" cy="264.2" r="1.2" fill="#7CAE00" fill-opacity="0.88"/>
<circle cx="583.53" cy="256.05" r="1.2" fill="#00BFC4" fill-opacity="0.88"/>
<circle cx="590.1" cy="258.94" r="1.2" fill="#F8766D" fill-opacity="0.88"/>
<circle cx="592.73" cy="260.26" r="1.2" fill="#7CAE00" fill-opacity="0.88"/>
<circle cx="592.07" cy="261.83" r="1.2" fill="#7CAE00" fill-opacity="0.88"/>
<circle cx="597.33" cy="256.97" r="1.2" fill="#F8766D" fill-opacity="0.88"/>
<circle cx="598.64" cy="260.91" r="1.2" fill="#7CAE00" fill-opacity="0.88"/>
<circle cx="604.56" cy="256.97" r="1.2" fill="#00BFC4" fill-opacity="0.88"/>
<circle cx="611.12" cy="258.28" r="1.2" fill="#7CAE00" fill-opacity="0.88"/>
<circle cx="587.47" cy="263.54" r="1.2" fill="#00BFC4" fill-opacity="0.88"/>
<circle cx="586.42" cy="265.51" r="1.2" fill="#7CAE00" fill-opacity="0.88"/>
<circle cx="582.88" cy="265.51" r="1.2" fill="#00BFC4" fill-opacity="0.88"/>
<circle cx="567.11" cy="265.51" r="1.2" fill="#7CAE00" fill-opacity="0.88"/>
<circle cx="570.39" cy="265.25" r="1.2" fill="#7CAE00" fill-opacity="0.88"/>
<circle cx="567.77" cy="268.14" r="1.2" fill="#00BFC4" fill-opacity="0.88"/>
<circle cx="571.05" cy="268.14" r="1.2" fill="#7CAE00" fill-opacity="0.88"/>
<circle cx="569.08" cy="270.77" r="1.2" fill="#7CAE00" fill-opacity="0.88"/>
<circle cx="565.14" cy="270.77" r="1.2" fill="#7CAE00" fill-opacity="0.88"/>
<circle cx="564.48" cy="273.39" r="1.2" fill="#7CAE00" fill-opacity="0.88"/>
<circle cx="561.2" cy="272.08" r="1.2" fill="#00BFC4" fill-opacity="0.88"/>
<circle cx="557.91" cy="271.03" r="1.2" fill="#00BFC4" fill-opacity="0.88"/>
<circle cx="555.28" cy="270.5" r="1.2" fill="#F8766D" fill-opacity="0.88"/>
<circle cx="553.31" cy="268.8" r="1.2" fill="#7CAE00" fill-opacity="0.88"/>
<circle cx="573.68" cy="271.82" r="1.2" fill="#00BFC4" fill-opacity="0.88"/>
<circle cx="576.96" cy="270.11" r="1.2" fill="#00BFC4" fill-opacity="0.88"/>
<circle cx="579.85" cy="270.5" r="1.2" fill="#C77CFF" fill-opacity="0.88"/>
<circle cx="580.91" cy="268.8" r="1.2" fill="#F8766D" fill-opacity="0.88"/>
<circle cx="589.45" cy="267.88" r="1.2" fill="#C77CFF" fill-opacity="0.88"/>
<circle cx="594.04" cy="267.48" r="1.2" fill="#C77CFF" fill-opacity="0.88"/>
<circle cx="596.93" cy="266.43" r="1.2" fill="#C77CFF" fill-opacity="0.88"/>
<circle cx="595.36" cy="265.77" r="1.2" fill="#7CAE00" fill-opacity="0.88"/>
<circle cx="603.24" cy="267.48" r="1.2" fill="#7CAE00" fill-opacity="0.88"/>
<circle cx="605.87" cy="267.09" r="1.2" fill="#7CAE00" fill-opacity="0.88"/>
<circle cx="602.58" cy="268.8" r="1.2" fill="#00BFC4" fill-opacity="0.88"/>
<circle cx="605.87" cy="269.19" r="1.2" fill="#00BFC4" fill-opacity="0.88"/>
<circle cx="604.56" cy="270.77" r="1.2" fill="#00BFC4" fill-opacity="0.88"/>
<circle cx="596.67" cy="270.5" r="1.2" fill="#00BFC4" fill-opacity="0.88"/>
<circle cx="587.47" cy="272.08" r="1.2" fill="#7CAE00" fill-opacity="0.88"/>
<circle cx="588.79" cy="274.05" r="1.2" fill="#F8766D" fill-opacity="0.88"/>
<circle cx="590.1" cy="275.76" r="1.2" fill="#F8766D" fill-opacity="0.88"/>
<circle cx="589.45" cy="276.68" r="1.2" fill="#00BFC4" fill-opacity="0.88"/>
<circle cx="580.25" cy="274.71" r="1.2" fill="#00BFC4" fill-opacity="0.88"/>
<circle cx="571.97" cy="274.97" r="1.2" fill="#00BFC4" fill-opacity="0.88"/>
<circle cx="574.99" cy="275.76" r="1.2" fill="#C77CFF" fill-opacity="0.88"/>
<circle cx="560.15" cy="274.05" r="1.2" fill="#00BFC4" fill-opacity="0.88"/>
<circle cx="553.97" cy="277.99" r="1.2" fill="#7CAE00" fill-opacity="0.88"/>
<circle cx="559.88" cy="277.99" r="1.2" fill="#00BFC4" fill-opacity="0.88"/>
<circle cx="567.77" cy="278.39" r="1.2" fill="#00BFC4" fill-opacity="0.88"/>
<circle cx="576.31" cy="279.7" r="1.2" fill="#00BFC4" fill-opacity="0.88"/>
<circle cx="584.85" cy="279.96" r="1.2" fill="#00BFC4" fill-opacity="0.88"/>
<circle cx="596.02" cy="279.31" r="1.2" fill="#C77CFF" fill-opacity="0.88"/>
<circle cx="595.36" cy="280.62" r="1.2" fill="#C77CFF" fill-opacity="0.88"/>
<circle cx="598.25" cy="278.39" r="1.2" fill="#00BFC4" fill-opacity="0.88"/>
<circle cx="607.84" cy="273.39" r="1.2" fill="#00BFC4" fill-opacity="0.88"/>
<circle cx="627.29" cy="276.02" r="1.2" fill="#00BFC4" fill-opacity="0.88"/>
<circle cx="562.77" cy="281.28" r="1.2" fill="#00BFC4" fill-opacity="0.88"/>
<circle cx="561.85" cy="283.91" r="1.2" fill="#00BFC4" fill-opacity="0.88"/>
<circle cx="576.31" cy="282.33" r="1.2" fill="#7CAE00" fill-opacity="0.88"/>
<circle cx="574.34" cy="283.91" r="1.2" fill="#00BFC4" fill-opacity="0.88"/>
<circle cx="577.62" cy="285.22" r="1.2" fill="#00BFC4" fill-opacity="0.88"/>
<circle cx="555.02" cy="285.48" r="1.2" fill="#00BFC4" fill-opacity="0.88"/>
<circle cx="568.42" cy="285.88" r="1.2" fill="#00BFC4" fill-opacity="0.88"/>
<circle cx="566.45" cy="287.85" r="1.2" fill="#7CAE00" fill-opacity="0.88"/>
<circle cx="571.05" cy="287.58" r="1.2" fill="#00BFC4" fill-opacity="0.88"/>
<circle cx="572.37" cy="286.8" r="1.2" fill="#7CAE00" fill-opacity="0.88"/>
<circle cx="581.96" cy="287.19" r="1.2" fill="#C77CFF" fill-opacity="0.88"/>
<circle cx="585.9" cy="286.53" r="1.2" fill="#00BFC4" fill-opacity="0.88"/>
<circle cx="590.1" cy="287.19" r="1.2" fill="#00BFC4" fill-opacity="0.88"/>
<circle cx="593.39" cy="287.85" r="1.2" fill="#C77CFF" fill-opacity="0.88"/>
<circle cx="598.64" cy="284.96" r="1.2" fill="#00BFC4" fill-opacity="0.88"/>
<circle cx="597.72" cy="288.9" r="1.2" fill="#F8766D" fill-opacity="0.88"/>
<circle cx="591.42" cy="292.18" r="1.2" fill="#C77CFF" fill-opacity="0.88"/>
<circle cx="573.02" cy="293.1" r="1.2" fill="#00BFC4" fill-opacity="0.88"/>
<circle cx="578.93" cy="293.76" r="1.2" fill="#00BFC4" fill-opacity="0.88"/>
<circle cx="633.72" cy="294.42" r="1.2" fill="#C77CFF" fill-opacity="0.88"/>
<circle cx="504.83" cy="297.88" r="1.2" fill="#00BFC4" fill-opacity="0.88"/>
<circle cx="546.34" cy="311.81" r="1.2" fill="#00BFC4" fill-opacity="0.88"/>
<circle cx="563.42" cy="295.78" r="1.2" fill="#C77CFF" fill-opacity="0.88"/>
<circle cx="573.14" cy="294.73" r="1.2" fill="#00BFC4" fill-opacity="0.88"/>
<circle cx="571.83" cy="297.88" r="1.2" fill="#C77CFF" fill-opacity="0.88"/>
<circle cx="592.85" cy="297.88" r="1.2" fill="#C77CFF" fill-opacity="0.88"/>
<circle cx="618.07" cy="297.09" r="1.2" fill="#C77CFF" fill-opacity="0.88"/>
<circle cx="569.72" cy="301.82" r="1.2" fill="#00BFC4" fill-opacity="0.88"/>
<circle cx="575.77" cy="303.93" r="1.2" fill="#C77CFF" fill-opacity="0.88"/>
<circle cx="583.39" cy="301.04" r="1.2" fill="#00BFC4" fill-opacity="0.88"/>
<circle cx="584.44" cy="303.93" r="1.2" fill="#00BFC4" fill-opacity="0.88"/>
<circle cx="588.64" cy="303.66" r="1.2" fill="#00BFC4" fill-opacity="0.88"/>
<circle cx="590.74" cy="303.93" r="1.2" fill="#00BFC4" fill-opacity="0.88"/>
<circle cx="571.83" cy="307.87" r="1.2" fill="#00BFC4" fill-opacity="0.88"/>
<circle cx="574.98" cy="307.08" r="1.2" fill="#C77CFF" fill-opacity="0.88"/>
<circle cx="565.78" cy="309.71" r="1.2" fill="#00BFC4" fill-opacity="0.88"/>
<circle cx="583.65" cy="308.92" r="1.2" fill="#C77CFF" fill-opacity="0.88"/>
<circle cx="589.43" cy="311.81" r="1.2" fill="#C77CFF" fill-opacity="0.88"/>
<circle cx="573.67" cy="313.65" r="1.2" fill="#C77CFF" fill-opacity="0.88"/>
<circle cx="578.92" cy="313.12" r="1.2" fill="#00BFC4" fill-opacity="0.88"/>
<circle cx="577.87" cy="314.96" r="1.2" fill="#C77CFF" fill-opacity="0.88"/>
<circle cx="583.39" cy="314.44" r="1.2" fill="#C77CFF" fill-opacity="0.88"/>
<circle cx="579.97" cy="317.59" r="1.2" fill="#C77CFF" fill-opacity="0.88"/>
<circle cx="589.43" cy="319.43" r="1.2" fill="#00BFC4" fill-opacity="0.88"/>
<circle cx="588.64" cy="323.37" r="1.2" fill="#C77CFF" fill-opacity="0.88"/>
<circle cx="591.27" cy="324.94" r="1.2" fill="#C77CFF" fill-opacity="0.88"/>
<circle cx="567.1" cy="325.47" r="1.2" fill="#C77CFF" fill-opacity="0.88"/>
<circle cx="551.07" cy="329.67" r="1.2" fill="#C77CFF" fill-opacity="0.88"/>
<circle cx="578.4" cy="329.67" r="1.2" fill="#00BFC4" fill-opacity="0.88"/>
<circle cx="592.58" cy="329.67" r="1.2" fill="#C77CFF" fill-opacity="0.88"/>
<circle cx="606.25" cy="336.77" r="1.2" fill="#C77CFF" fill-opacity="0.88"/>
<circle cx="570.78" cy="340.97" r="1.2" fill="#C77CFF" fill-opacity="0.88"/>
<circle cx="581.55" cy="339.4" r="1.2" fill="#C77CFF" fill-opacity="0.88"/>
<circle cx="591.53" cy="341.23" r="1.2" fill="#C77CFF" fill-opacity="0.88"/>
<circle cx="539.51" cy="345.96" r="1.2" fill="#C77CFF" fill-opacity="0.88"/>
<circle cx="582.34" cy="366.2" r="1.2" fill="#C77CFF" fill-opacity="0.88"/>
<path d="M471.1,234.1 L475.17,235.43 L479.24,236.76 L483.31,238.09 L487.38,239.42 L491.45,240.75 L495.52,242.07 L499.59,243.4 L503.66,244.72 L507.73,246.04 L511.8,247.35 L515.87,248.66 L519.94,249.97 L524.01,251.28 L528.08,252.57 L532.15,253.86 L536.22,255.14 L540.29,256.4 L544.36,257.65 L548.43,258.87 L552.5,260.07 L556.57,261.22 L560.64,262.32 L564.71,263.35 L568.78,264.3 L572.85,265.15 L576.92,265.9 L580.99,266.57 L585.06,267.16 L589.13,267.69 L593.2,268.18 L597.27,268.64 L601.34,269.07 L605.41,269.48 L609.48,269.88 L613.55,270.27 L617.62,270.64 L621.69,271.02 L625.76,271.38 L629.83,271.74 L633.9,272.1 L633.9,288.5 L629.83,287.19 L625.76,285.87 L621.69,284.57 L617.62,283.27 L613.55,281.97 L609.48,280.69 L605.41,279.41 L601.34,278.15 L597.27,276.91 L593.2,275.69 L589.13,274.51 L585.06,273.37 L580.99,272.29 L576.92,271.28 L572.85,270.36 L568.78,269.54 L564.71,268.81 L560.64,268.17 L556.57,267.6 L552.5,267.08 L548.43,266.6 L544.36,266.16 L540.29,265.73 L536.22,265.32 L532.15,264.93 L528.08,264.54 L524.01,264.17 L519.94,263.8 L515.87,263.43 L511.8,263.07 L507.73,262.72 L503.66,262.36 L499.59,262.01 L495.52,261.66 L491.45,261.32 L487.38,260.97 L483.31,260.63 L479.24,260.28 L475.17,259.94 L471.1,259.6 Z" fill="#999999" fill-opacity="0.4"/>
<line x1="471.1" y1="246.7" x2="633.9" y2="280.5" stroke="#3366FF" stroke-width="1.1"/>
<line x1="480.54" y1="373.8" x2="480.54" y2="375.2" stroke="#333" stroke-width="0.6"/>
<line x1="525.97" y1="373.8" x2="525.97" y2="375.2" stroke="#333" stroke-width="0.6"/>
<line x1="571.4" y1="373.8" x2="571.4" y2="375.2" stroke="#333" stroke-width="0.6"/>
<line x1="616.83" y1="373.8" x2="616.83" y2="375.2" stroke="#333" stroke-width="0.6"/>
<line x1="461.7" y1="225.85" x2="463.1" y2="225.85" stroke="#333" stroke-width="0.6"/>
<line x1="461.7" y1="267.4" x2="463.1" y2="267.4" stroke="#333" stroke-width="0.6"/>
<line x1="461.7" y1="308.95" x2="463.1" y2="308.95" stroke="#333" stroke-width="0.6"/>
<line x1="461.7" y1="350.5" x2="463.1" y2="350.5" stroke="#333" stroke-width="0.6"/>
<rect x="482.54" y="377" width="1.1" height="3.3" fill="#3a3a3a"/>
<rect x="482.54" y="381.4" width="1.1" height="1.7" fill="#3a3a3a"/>
<text transform="translate(525.97,382.9) scale(0.92,1)" class="tk" text-anchor="middle">- </text><path d="M478,0 L478,1170 L140,959 L140,1180 L493,1409 L759,1409 L759,0 Z" fill="#444" stroke="#444" stroke-width="40.96" transform="translate(524.944,382.900) scale(0.004492,-0.004883)"/>
<text transform="translate(571.4,382.9) scale(0.92,1)" class="tk" text-anchor="middle">0</text>
<text transform="translate(616.83,382.9) scale(0.92,1)" class="tk" text-anchor="middle"> </text><path d="M478,0 L478,1170 L140,959 L140,1180 L493,1409 L759,1409 L759,0 Z" fill="#444" stroke="#444" stroke-width="40.96" transform="translate(614.272,382.900) scale(0.004492,-0.004883)"/>
<text transform="translate(461.1,229.45) scale(0.92,1)" class="tk" text-anchor="end"> 0</text><path d="M478,0 L478,1170 L140,959 L140,1180 L493,1409 L759,1409 L759,0 Z" fill="#444" stroke="#444" stroke-width="40.96" transform="translate(450.867,229.450) scale(0.004492,-0.004883)"/>
<text transform="translate(461.1,271) scale(0.92,1)" class="tk" text-anchor="end">0</text>
<text transform="translate(461.1,312.55) scale(0.92,1)" class="tk" text-anchor="end">- 0</text><path d="M478,0 L478,1170 L140,959 L140,1180 L493,1409 L759,1409 L759,0 Z" fill="#444" stroke="#444" stroke-width="40.96" transform="translate(450.867,312.550) scale(0.004492,-0.004883)"/>
<text transform="translate(461.1,354.1) scale(0.92,1)" class="tk" text-anchor="end">-20</text>
<text transform="translate(635,227.2) scale(0.93,1)" class="ann" text-anchor="end">r = -0. 9, P = 0.00 </text><path d="M478,0 L478,1170 L140,959 L140,1180 L493,1409 L759,1409 L759,0 Z" fill="#000" transform="translate(588.307,227.200) scale(0.003814,-0.004102)"/><path d="M478,0 L478,1170 L140,959 L140,1180 L493,1409 L759,1409 L759,0 Z" fill="#000" transform="translate(630.655,227.200) scale(0.003814,-0.004102)"/>
<text x="552.45" y="393.9" class="ti" text-anchor="middle">Adjusted lgjcWMH</text>
<text transform="translate(443.6,295) rotate(-90)" x="0" y="0" class="ti" text-anchor="middle">Adjusted MoCA</text>
<text x="0.6" y="11.8" class="pl">A</text>
<text x="226.3" y="11.3" class="pl">B</text>
<text x="443.8" y="11.3" class="pl">C</text>
<text x="0.2" y="210.4" class="pl">D</text>
<text x="225.9" y="209" class="pl">E</text>
<text x="443.3" y="209" class="pl">F</text>
<text x="648" y="78.5" class="lg">Group</text>
<rect x="650.2" y="82.4" width="7.5" height="34.7" fill="#EBEBEB"/>
<circle cx="653.8" cy="86.9" r="1.15" fill="#F8766D"/>
<text transform="translate(659.2,89.25) scale(0.9,1)" class="lgk">HC</text>
<circle cx="653.8" cy="95.6" r="1.15" fill="#7CAE00"/>
<text transform="translate(659.2,97.95) scale(0.9,1)" class="lgk">SCD</text>
<circle cx="653.8" cy="104.3" r="1.15" fill="#00BFC4"/>
<text transform="translate(659.2,106.65) scale(0.9,1)" class="lgk">MCI</text>
<circle cx="653.8" cy="113" r="1.15" fill="#C77CFF"/>
<text transform="translate(661.2,115.35) scale(0.9,1)" class="lgk">AD</text>
<text x="647.8" y="280.2" class="lg">Group</text>
<rect x="649" y="283" width="7.5" height="35" fill="#EBEBEB"/>
<circle cx="653" cy="287" r="1.15" fill="#F8766D"/>
<text transform="translate(659,289.35) scale(0.9,1)" class="lgk">HC</text>
<circle cx="653" cy="295.57" r="1.15" fill="#7CAE00"/>
<text transform="translate(659,297.92) scale(0.9,1)" class="lgk">SCD</text>
<circle cx="653" cy="304.14" r="1.15" fill="#00BFC4"/>
<text transform="translate(659,306.49) scale(0.9,1)" class="lgk">MCI</text>
<circle cx="653" cy="312.71" r="1.15" fill="#C77CFF"/>
<text transform="translate(661,315.06) scale(0.9,1)" class="lgk">AD</text>
</svg>
</body></html>
